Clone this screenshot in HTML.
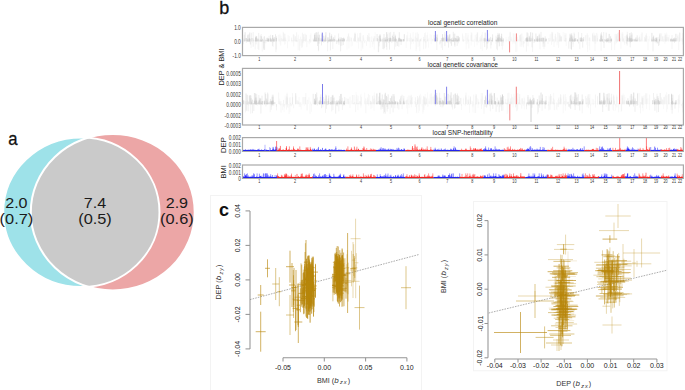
<!DOCTYPE html>
<html><head><meta charset="utf-8"><style>
html,body{margin:0;padding:0;background:#fff;width:685px;height:390px;overflow:hidden}
svg{display:block;font-family:"Liberation Sans", sans-serif}
</style></head><body>
<svg width="685" height="390" viewBox="0 0 685 390">
<rect width="685" height="390" fill="#fff"/>
<defs>
<clipPath id="cC"><ellipse cx="81.35" cy="212.25" rx="78.15" ry="74.75" /></clipPath>
<clipPath id="cP"><ellipse cx="112.75" cy="212.2" rx="81.95" ry="78.2" /></clipPath>
</defs>
<ellipse cx="81.35" cy="212.25" rx="78.15" ry="74.75" fill="#9ee2e9"/>
<ellipse cx="112.75" cy="212.2" rx="81.95" ry="78.2" fill="#eca6a6"/>
<g clip-path="url(#cC)"><ellipse cx="112.75" cy="212.2" rx="81.95" ry="78.2" fill="#cacaca"/></g>
<ellipse cx="81.35" cy="212.25" rx="78.15" ry="74.75" fill="none" stroke="#fff" stroke-width="2.0"/>
<ellipse cx="112.75" cy="212.2" rx="81.95" ry="78.2" fill="none" stroke="#fff" stroke-width="2.0"/>
<text x="8.2" y="145" font-size="19" fill="#111" textLength="9.3" lengthAdjust="spacingAndGlyphs" stroke="#111" stroke-width="0.3">a</text>
<text x="16.4" y="208.3" font-size="13.8" fill="#1a1a1a" text-anchor="middle" lengthAdjust="spacingAndGlyphs" textLength="22.4">2.0</text>
<text x="16.4" y="223.6" font-size="13.8" fill="#1a1a1a" text-anchor="middle" lengthAdjust="spacingAndGlyphs" textLength="33.6">(0.7)</text>
<text x="95" y="208.3" font-size="13.8" fill="#1a1a1a" text-anchor="middle" lengthAdjust="spacingAndGlyphs" textLength="22.4">7.4</text>
<text x="95" y="223.6" font-size="13.8" fill="#1a1a1a" text-anchor="middle" lengthAdjust="spacingAndGlyphs" textLength="33.6">(0.5)</text>
<text x="176.9" y="208.3" font-size="13.8" fill="#1a1a1a" text-anchor="middle" lengthAdjust="spacingAndGlyphs" textLength="22.4">2.9</text>
<text x="176.9" y="223.6" font-size="13.8" fill="#1a1a1a" text-anchor="middle" lengthAdjust="spacingAndGlyphs" textLength="33.6">(0.6)</text>
<text x="219.3" y="13.7" font-size="18" fill="#111" stroke="#111" stroke-width="0.3">b</text>
<text x="428" y="25.2" font-size="8" fill="#222" textLength="69.4" lengthAdjust="spacingAndGlyphs">local genetic correlation</text>
<path d="M243.2 41.3V38.5M244.6 41.3V38.5M247.5 41.3V35.5M248.2 41.3V34.8M249.1 41.3V34.3M251.4 41.3V38.0M251.6 41.3V32.8M253.2 41.3V32.2M253.3 41.3V38.3M258.7 41.3V32.9M261.2 41.3V34.1M262.9 41.3V38.8M264.5 41.3V36.1M265.3 41.3V40.7M266.3 41.3V37.8M269.1 41.3V35.8M269.7 41.3V38.5M269.8 41.3V39.7M270.6 41.3V34.8M272.6 41.3V35.3M276.4 41.3V36.0M314.4 41.3V34.8M315.3 41.3V35.0M315.4 41.3V40.1M316.3 41.3V35.2M317.2 41.3V40.4M317.4 41.3V32.6M317.6 41.3V36.7M318.5 41.3V37.8M323.0 41.3V34.7M323.4 41.3V40.3M324.3 41.3V40.7M324.9 41.3V36.3M328.0 41.3V37.2M330.3 41.3V39.5M330.9 41.3V39.6M331.3 41.3V40.0M331.5 41.3V38.8M331.8 41.3V36.2M334.9 41.3V35.4M338.6 41.3V33.4M339.1 41.3V40.6M378.2 41.3V39.1M382.8 41.3V37.7M385.8 41.3V38.5M386.8 41.3V32.4M389.6 41.3V38.0M390.6 41.3V31.9M392.9 41.3V34.5M395.1 41.3V38.9M395.6 41.3V39.9M395.7 41.3V39.2M396.5 41.3V38.6M435.4 41.3V39.1M435.8 41.3V33.6M436.9 41.3V34.9M440.3 41.3V40.0M444.4 41.3V37.7M444.8 41.3V32.1M445.0 41.3V34.3M446.7 41.3V37.3M447.4 41.3V39.5M447.5 41.3V39.4M447.6 41.3V39.1M448.1 41.3V39.6M452.1 41.3V40.0M453.9 41.3V33.8M454.9 41.3V40.5M456.1 41.3V39.0M457.2 41.3V35.8M457.9 41.3V37.9M486.4 41.3V39.8M488.8 41.3V37.9M489.6 41.3V37.9M489.7 41.3V40.1M496.0 41.3V35.7M496.8 41.3V37.1M497.8 41.3V32.9M502.2 41.3V40.8M528.1 41.3V33.3M529.8 41.3V37.9M530.9 41.3V40.1M532.3 41.3V36.2M532.9 41.3V37.8M535.5 41.3V40.5M536.1 41.3V38.4M536.1 41.3V40.6M537.1 41.3V36.3M538.6 41.3V39.0M538.8 41.3V38.7M539.2 41.3V33.5M539.5 41.3V39.7M539.7 41.3V34.4M540.0 41.3V37.8M570.1 41.3V33.5M573.7 41.3V39.9M573.8 41.3V36.5M574.0 41.3V32.5M574.6 41.3V33.7M577.8 41.3V39.4M578.4 41.3V32.2M579.7 41.3V37.7M581.7 41.3V33.0M581.8 41.3V39.2M601.5 41.3V32.2M603.1 41.3V38.8M603.7 41.3V32.0M606.0 41.3V39.3M606.7 41.3V38.3M609.6 41.3V33.9M609.6 41.3V40.0M626.3 41.3V35.4M627.3 41.3V31.8M631.3 41.3V32.0M634.1 41.3V38.6M636.2 41.3V40.4M651.8 41.3V38.5M657.9 41.3V39.6M658.1 41.3V36.9M670.5 41.3V39.9M670.8 41.3V38.5M672.0 41.3V39.0M672.0 41.3V35.1M672.7 41.3V39.7" stroke="#e2e2e2" stroke-width="0.5"/><path d="M243.3 41.3V40.7M244.3 41.3V34.8M248.0 41.3V34.6M255.8 41.3V35.8M260.3 41.3V35.6M260.3 41.3V39.0M264.0 41.3V36.7M264.2 41.3V40.4M267.9 41.3V38.4M270.9 41.3V40.5M275.5 41.3V34.3M313.3 41.3V38.6M313.5 41.3V40.7M314.8 41.3V33.2M315.7 41.3V32.6M316.5 41.3V32.2M318.0 41.3V35.0M318.3 41.3V31.8M320.0 41.3V38.4M321.7 41.3V34.2M323.3 41.3V36.0M324.8 41.3V39.4M325.6 41.3V35.3M328.6 41.3V40.8M329.3 41.3V38.8M329.8 41.3V39.7M330.6 41.3V38.9M331.6 41.3V34.3M339.1 41.3V40.6M340.1 41.3V37.3M344.3 41.3V39.4M377.1 41.3V34.0M379.9 41.3V35.4M384.0 41.3V34.0M385.6 41.3V37.2M385.7 41.3V40.0M386.6 41.3V32.0M387.3 41.3V34.3M387.4 41.3V37.3M389.2 41.3V32.6M391.5 41.3V40.7M393.9 41.3V31.9M394.1 41.3V40.4M394.4 41.3V39.4M395.1 41.3V39.1M395.2 41.3V34.6M399.0 41.3V37.8M399.3 41.3V32.2M401.5 41.3V39.5M401.7 41.3V38.9M434.2 41.3V34.8M435.0 41.3V37.7M437.3 41.3V34.5M440.9 41.3V40.1M443.0 41.3V37.9M445.9 41.3V37.1M449.1 41.3V35.4M450.0 41.3V34.3M452.7 41.3V40.5M452.8 41.3V37.6M453.3 41.3V31.8M453.5 41.3V38.2M454.8 41.3V39.9M454.8 41.3V33.6M456.9 41.3V35.9M459.1 41.3V37.2M484.2 41.3V37.7M484.3 41.3V39.2M488.9 41.3V39.6M490.6 41.3V36.9M492.6 41.3V34.3M497.6 41.3V34.9M498.0 41.3V39.3M498.6 41.3V39.8M498.9 41.3V34.2M500.6 41.3V38.0M500.8 41.3V40.7M501.1 41.3V36.1M501.6 41.3V39.4M503.3 41.3V39.7M526.1 41.3V37.9M527.4 41.3V39.3M530.3 41.3V39.6M532.6 41.3V32.7M534.9 41.3V39.7M535.9 41.3V33.5M537.9 41.3V40.7M539.0 41.3V35.4M541.0 41.3V31.9M541.6 41.3V38.2M543.4 41.3V38.1M545.2 41.3V36.4M545.3 41.3V38.6M569.7 41.3V38.2M570.1 41.3V34.2M570.8 41.3V35.5M571.7 41.3V33.2M572.0 41.3V40.8M572.2 41.3V38.6M574.6 41.3V40.8M575.8 41.3V38.0M577.7 41.3V39.9M583.7 41.3V37.0M599.5 41.3V39.3M600.7 41.3V36.2M600.9 41.3V33.5M606.2 41.3V32.6M606.7 41.3V39.4M609.0 41.3V33.9M626.9 41.3V39.8M627.3 41.3V36.3M627.8 41.3V37.9M629.9 41.3V37.3M631.1 41.3V35.4M631.9 41.3V34.7M632.0 41.3V33.3M634.4 41.3V39.9M635.1 41.3V40.3M637.2 41.3V35.3M638.0 41.3V37.7M651.9 41.3V39.2M652.0 41.3V40.1M652.9 41.3V37.3M653.6 41.3V37.1M654.6 41.3V38.8M659.7 41.3V34.6M660.0 41.3V33.3M671.1 41.3V39.2M671.3 41.3V40.6M674.1 41.3V39.4M674.5 41.3V37.5M675.8 41.3V40.5M676.4 41.3V38.2" stroke="#d8d8d8" stroke-width="0.5"/><path d="M243.5 41.3V44.3M246.3 41.3V43.1M248.3 41.3V41.8M249.5 41.3V42.3M250.6 41.3V44.8M251.1 41.3V47.8M252.4 41.3V42.5M255.2 41.3V49.4M258.0 41.3V48.9M258.8 41.3V50.0M259.7 41.3V41.5M262.2 41.3V51.5M263.4 41.3V42.9M264.5 41.3V43.0M265.8 41.3V43.4M271.4 41.3V41.8M272.3 41.3V42.6M273.2 41.3V46.8M273.8 41.3V42.1M274.8 41.3V41.8M275.9 41.3V52.2M318.6 41.3V51.3M323.7 41.3V42.8M327.6 41.3V51.3M328.0 41.3V43.1M332.8 41.3V49.0M336.4 41.3V44.1M337.0 41.3V42.4M337.0 41.3V43.7M338.8 41.3V42.9M378.7 41.3V52.0M385.6 41.3V42.8M390.9 41.3V41.9M391.8 41.3V43.1M394.5 41.3V49.6M395.7 41.3V46.9M396.2 41.3V45.7M396.6 41.3V43.1M398.3 41.3V41.6M436.8 41.3V50.0M440.8 41.3V42.8M441.3 41.3V47.8M442.5 41.3V49.9M448.1 41.3V41.8M451.6 41.3V46.1M458.5 41.3V43.4M484.1 41.3V42.8M485.1 41.3V41.9M486.5 41.3V49.8M486.8 41.3V43.7M488.2 41.3V43.3M490.8 41.3V48.5M492.7 41.3V42.3M496.0 41.3V43.7M496.7 41.3V48.8M499.5 41.3V45.9M501.4 41.3V46.0M502.3 41.3V49.7M503.0 41.3V45.7M526.4 41.3V51.7M528.0 41.3V46.3M532.6 41.3V51.9M540.0 41.3V49.3M544.0 41.3V49.1M571.2 41.3V48.8M573.0 41.3V44.2M573.1 41.3V46.8M579.8 41.3V49.2M601.1 41.3V50.7M611.6 41.3V50.1M628.6 41.3V42.0M630.2 41.3V43.2M654.3 41.3V42.4M655.9 41.3V43.1M657.7 41.3V42.4M659.3 41.3V42.8M659.3 41.3V45.2M672.0 41.3V48.9" stroke="#e8e8e8" stroke-width="0.5"/><path d="M245.1 41.3V32.2M246.2 41.3V38.0M249.5 41.3V38.6M249.8 41.3V32.5M250.3 41.3V38.8M252.1 41.3V38.0M253.9 41.3V39.7M255.5 41.3V37.6M256.6 41.3V36.1M257.9 41.3V38.2M260.0 41.3V40.8M260.1 41.3V39.8M260.2 41.3V40.7M261.6 41.3V36.3M261.6 41.3V40.7M263.1 41.3V40.3M265.6 41.3V39.7M270.4 41.3V37.8M271.5 41.3V40.5M272.4 41.3V38.0M272.7 41.3V35.1M273.4 41.3V40.5M274.2 41.3V37.0M314.5 41.3V34.8M316.8 41.3V40.2M319.4 41.3V34.7M321.0 41.3V40.1M322.1 41.3V39.2M325.9 41.3V32.2M327.0 41.3V39.8M328.7 41.3V40.5M329.7 41.3V32.7M331.2 41.3V36.1M332.0 41.3V39.4M333.7 41.3V37.2M336.8 41.3V40.7M337.3 41.3V40.8M337.9 41.3V39.8M340.7 41.3V40.1M342.5 41.3V39.8M343.9 41.3V38.0M379.1 41.3V36.2M380.0 41.3V34.3M380.2 41.3V35.7M380.5 41.3V39.8M386.8 41.3V40.4M387.4 41.3V39.0M390.3 41.3V40.3M390.5 41.3V38.2M392.4 41.3V35.9M392.8 41.3V40.8M393.7 41.3V37.0M395.3 41.3V37.6M395.3 41.3V35.9M396.1 41.3V39.1M397.0 41.3V40.8M398.8 41.3V38.3M401.7 41.3V39.8M404.3 41.3V34.2M436.3 41.3V36.9M442.5 41.3V34.2M443.2 41.3V37.4M443.9 41.3V38.4M447.7 41.3V35.3M448.4 41.3V37.4M449.3 41.3V38.8M449.4 41.3V34.4M453.4 41.3V39.7M457.0 41.3V39.9M457.4 41.3V40.3M458.3 41.3V35.9M485.2 41.3V32.6M487.7 41.3V33.4M489.1 41.3V39.4M489.1 41.3V40.4M491.5 41.3V40.0M498.9 41.3V35.1M499.2 41.3V33.3M500.3 41.3V38.6M501.6 41.3V33.7M527.1 41.3V32.4M527.2 41.3V37.2M527.5 41.3V39.5M528.0 41.3V37.9M529.3 41.3V35.8M530.1 41.3V40.3M530.7 41.3V32.2M531.1 41.3V37.9M537.6 41.3V36.2M537.7 41.3V39.3M540.2 41.3V40.6M543.8 41.3V37.9M546.1 41.3V38.5M570.9 41.3V39.6M571.2 41.3V34.6M571.3 41.3V40.7M571.7 41.3V36.8M572.2 41.3V35.6M573.1 41.3V40.8M581.0 41.3V37.5M581.3 41.3V37.6M581.9 41.3V39.8M601.1 41.3V38.2M601.2 41.3V34.9M602.0 41.3V35.8M602.5 41.3V40.2M605.3 41.3V40.0M606.0 41.3V40.7M606.3 41.3V40.7M606.9 41.3V39.3M608.8 41.3V39.4M610.6 41.3V36.3M627.2 41.3V34.5M627.4 41.3V37.4M629.7 41.3V36.3M629.9 41.3V33.0M631.5 41.3V40.7M631.6 41.3V38.1M631.6 41.3V39.8M634.3 41.3V39.1M637.0 41.3V39.4M637.1 41.3V39.9M651.9 41.3V32.9M653.6 41.3V35.6M653.6 41.3V38.9M656.3 41.3V37.5M659.5 41.3V38.8M672.3 41.3V39.4M673.2 41.3V39.6M674.3 41.3V39.8M674.4 41.3V39.6M675.9 41.3V33.8" stroke="#cdcdcd" stroke-width="0.5"/><path d="M248.1 41.3V41.9M248.5 41.3V41.4M250.3 41.3V44.1M253.2 41.3V46.8M256.1 41.3V44.3M263.6 41.3V48.6M263.9 41.3V50.1M264.6 41.3V49.8M272.4 41.3V46.1M276.2 41.3V49.4M317.5 41.3V46.0M318.4 41.3V43.7M318.4 41.3V50.3M319.2 41.3V43.7M321.5 41.3V45.4M327.5 41.3V42.7M330.4 41.3V50.4M334.1 41.3V41.6M338.9 41.3V44.7M340.6 41.3V51.3M340.8 41.3V46.1M342.0 41.3V45.5M342.4 41.3V41.4M343.4 41.3V45.1M378.3 41.3V52.2M379.0 41.3V46.4M379.6 41.3V42.8M382.3 41.3V42.1M382.9 41.3V49.0M383.9 41.3V49.4M384.3 41.3V47.9M386.3 41.3V46.9M386.8 41.3V49.8M388.8 41.3V43.1M389.5 41.3V49.6M394.0 41.3V41.6M397.5 41.3V46.1M398.8 41.3V46.6M401.1 41.3V45.0M402.5 41.3V41.5M436.3 41.3V42.4M439.9 41.3V44.4M444.9 41.3V46.2M447.2 41.3V42.9M448.5 41.3V47.6M450.3 41.3V43.5M451.4 41.3V45.7M453.1 41.3V41.8M454.7 41.3V45.3M454.9 41.3V46.7M456.7 41.3V42.2M457.2 41.3V45.9M484.7 41.3V47.1M487.3 41.3V48.5M487.4 41.3V43.5M491.2 41.3V45.2M497.3 41.3V50.2M498.1 41.3V43.1M499.2 41.3V46.4M503.2 41.3V42.4M526.5 41.3V41.4M532.0 41.3V47.3M534.1 41.3V42.8M542.8 41.3V41.7M543.1 41.3V46.7M543.3 41.3V43.6M543.8 41.3V42.2M544.8 41.3V46.8M568.8 41.3V48.6M571.1 41.3V48.7M571.4 41.3V50.0M571.5 41.3V49.1M571.7 41.3V42.2M578.5 41.3V43.5M580.9 41.3V41.5M582.3 41.3V41.4M582.7 41.3V47.7M600.1 41.3V41.7M603.0 41.3V41.8M603.7 41.3V42.8M604.0 41.3V47.9M606.8 41.3V42.7M607.9 41.3V41.6M608.9 41.3V43.2M610.4 41.3V42.9M626.7 41.3V43.8M627.1 41.3V45.5M630.2 41.3V47.3M630.5 41.3V42.4M653.0 41.3V51.4M656.5 41.3V41.9M657.0 41.3V43.5M657.7 41.3V43.3M658.5 41.3V45.9M674.5 41.3V42.8" stroke="#dedede" stroke-width="0.5"/><path d="M244.2 41.3V39.6M246.2 41.3V38.0M247.0 41.3V40.1M247.2 41.3V38.9M247.7 41.3V40.2M248.1 41.3V39.4M249.0 41.3V39.4M249.3 41.3V38.1M249.5 41.3V38.9M255.8 41.3V40.1M255.9 41.3V37.3M256.1 41.3V37.6M256.1 41.3V37.6M257.2 41.3V39.6M258.0 41.3V39.1M258.1 41.3V39.6M261.3 41.3V39.9M261.5 41.3V40.2M262.4 41.3V38.8M267.0 41.3V39.9M267.3 41.3V39.8M267.3 41.3V37.7M268.2 41.3V38.8M268.5 41.3V39.7M268.5 41.3V38.3M268.6 41.3V39.5M270.7 41.3V38.7M270.9 41.3V39.5M271.4 41.3V38.8M273.7 41.3V38.4M273.9 41.3V38.7M273.9 41.3V39.1M276.2 41.3V37.9M276.4 41.3V37.7M313.7 41.3V39.8M314.8 41.3V37.4M315.3 41.3V39.7M316.2 41.3V37.7M318.6 41.3V37.7M321.3 41.3V38.4M322.2 41.3V38.7M322.3 41.3V39.7M322.5 41.3V38.7M323.7 41.3V39.4M324.2 41.3V39.9M325.2 41.3V39.9M325.2 41.3V37.9M327.9 41.3V37.5M328.8 41.3V39.9M329.1 41.3V40.3M330.3 41.3V39.5M330.3 41.3V39.9M332.3 41.3V39.7M332.9 41.3V38.6M334.0 41.3V39.0M334.4 41.3V39.0M336.0 41.3V39.7M338.6 41.3V38.3M338.8 41.3V39.4M338.8 41.3V39.1M340.4 41.3V38.9M341.4 41.3V37.6M341.9 41.3V39.6M342.5 41.3V38.1M343.6 41.3V39.4M343.7 41.3V37.6M344.3 41.3V39.1M377.3 41.3V38.1M380.6 41.3V38.3M381.2 41.3V39.5M382.8 41.3V39.2M384.0 41.3V40.3M384.1 41.3V37.8M385.0 41.3V39.5M385.6 41.3V40.1M386.0 41.3V39.4M387.4 41.3V39.3M388.9 41.3V38.1M389.6 41.3V40.3M389.6 41.3V39.6M390.1 41.3V37.6M390.3 41.3V37.7M391.8 41.3V38.4M395.1 41.3V38.6M398.2 41.3V39.6M399.0 41.3V37.7M399.8 41.3V38.0M400.0 41.3V38.8M400.3 41.3V39.8M400.7 41.3V39.7M400.7 41.3V39.2M400.8 41.3V39.3M401.5 41.3V40.1M403.1 41.3V39.1M403.5 41.3V39.0M403.8 41.3V39.4M434.7 41.3V38.4M435.1 41.3V38.8M435.3 41.3V40.1M436.8 41.3V39.9M437.3 41.3V37.7M441.4 41.3V38.1M442.6 41.3V37.8M442.8 41.3V38.6M446.2 41.3V38.6M446.8 41.3V38.7M447.3 41.3V38.1M448.7 41.3V39.3M449.8 41.3V38.8M450.5 41.3V38.9M451.5 41.3V38.3M451.5 41.3V39.7M452.4 41.3V40.2M452.9 41.3V40.0M453.7 41.3V39.8M454.9 41.3V37.7M455.4 41.3V38.1M456.2 41.3V38.1M457.0 41.3V39.0M457.6 41.3V40.0M458.7 41.3V38.9M459.1 41.3V37.7M484.2 41.3V38.3M485.0 41.3V38.2M486.0 41.3V38.7M488.6 41.3V39.5M489.0 41.3V40.3M492.2 41.3V39.7M492.3 41.3V37.8M496.2 41.3V39.7M496.3 41.3V40.1M496.3 41.3V39.6M497.8 41.3V38.7M497.9 41.3V38.5M497.9 41.3V37.7M498.0 41.3V37.7M498.8 41.3V37.4M499.7 41.3V37.6M501.2 41.3V38.9M501.5 41.3V39.9M501.9 41.3V37.4M502.5 41.3V39.6M503.4 41.3V38.4M526.1 41.3V38.7M526.3 41.3V38.2M526.9 41.3V38.1M526.9 41.3V37.3M528.0 41.3V39.9M529.4 41.3V37.3M532.1 41.3V38.9M534.3 41.3V39.7M534.5 41.3V39.2M536.7 41.3V39.2M537.1 41.3V37.6M537.4 41.3V38.7M537.5 41.3V40.1M539.4 41.3V38.2M540.0 41.3V38.8M541.2 41.3V37.9M541.9 41.3V40.2M542.8 41.3V37.7M543.0 41.3V37.6M545.2 41.3V40.3M546.3 41.3V38.9M569.4 41.3V39.7M570.0 41.3V37.6M572.6 41.3V38.6M572.7 41.3V39.6M573.0 41.3V40.0M574.1 41.3V39.0M574.4 41.3V40.0M574.6 41.3V38.8M575.0 41.3V38.1M575.6 41.3V39.4M577.2 41.3V39.8M577.5 41.3V39.2M580.7 41.3V39.8M580.9 41.3V37.8M581.0 41.3V40.0M582.8 41.3V38.1M583.3 41.3V39.3M600.2 41.3V39.8M600.9 41.3V39.9M602.5 41.3V39.0M604.8 41.3V39.1M606.8 41.3V39.7M607.5 41.3V40.0M607.9 41.3V38.4M608.0 41.3V37.9M608.0 41.3V40.1M610.9 41.3V39.4M611.2 41.3V39.4M611.4 41.3V38.7M611.6 41.3V38.5M628.9 41.3V38.4M629.2 41.3V37.8M629.9 41.3V39.6M630.3 41.3V38.3M630.3 41.3V38.2M630.5 41.3V39.1M631.3 41.3V39.9M631.9 41.3V38.5M632.2 41.3V39.7M632.9 41.3V39.2M635.5 41.3V38.7M636.0 41.3V37.4M636.3 41.3V39.9M652.4 41.3V39.7M655.1 41.3V39.9M655.3 41.3V40.3M655.4 41.3V37.8M656.1 41.3V40.3M656.4 41.3V39.5M656.5 41.3V38.5M656.6 41.3V38.8M656.8 41.3V37.6M659.4 41.3V39.7M670.6 41.3V38.9M671.6 41.3V38.5M672.6 41.3V39.9M673.3 41.3V38.7M673.7 41.3V38.2M675.2 41.3V38.1M675.4 41.3V39.6" stroke="#cacaca" stroke-width="0.5"/><path d="M278.3 41.3V34.9M280.0 41.3V33.7M280.3 41.3V38.4M283.9 41.3V39.3M284.5 41.3V33.5M285.7 41.3V38.5M288.6 41.3V40.6M293.3 41.3V40.2M294.8 41.3V39.4M297.0 41.3V38.2M298.1 41.3V35.8M298.3 41.3V34.6M303.6 41.3V39.3M303.8 41.3V34.1M305.2 41.3V39.3M305.3 41.3V39.0M305.7 41.3V37.8M306.1 41.3V34.7M309.9 41.3V40.6M310.9 41.3V33.2M346.5 41.3V40.1M347.0 41.3V39.1M348.3 41.3V34.6M349.4 41.3V39.3M350.1 41.3V38.6M350.8 41.3V37.3M354.6 41.3V38.2M354.9 41.3V34.1M357.5 41.3V33.2M358.6 41.3V37.6M362.6 41.3V35.3M363.7 41.3V38.4M363.8 41.3V37.2M365.8 41.3V40.8M368.6 41.3V36.2M369.9 41.3V36.9M375.1 41.3V36.9M375.2 41.3V35.9M375.2 41.3V32.2M406.4 41.3V40.8M407.3 41.3V39.3M407.7 41.3V31.9M410.1 41.3V35.3M413.1 41.3V38.5M415.6 41.3V32.6M418.4 41.3V33.7M419.9 41.3V39.6M420.4 41.3V39.8M421.5 41.3V37.8M424.8 41.3V35.4M427.4 41.3V32.5M428.8 41.3V37.7M430.2 41.3V34.2M431.4 41.3V34.8M462.6 41.3V34.6M463.3 41.3V39.9M463.9 41.3V36.4M468.0 41.3V33.1M468.1 41.3V39.6M471.2 41.3V32.2M471.7 41.3V32.5M472.5 41.3V40.3M474.3 41.3V38.8M475.1 41.3V34.9M476.0 41.3V34.6M476.4 41.3V40.4M476.7 41.3V34.2M477.4 41.3V33.6M479.1 41.3V40.3M479.5 41.3V37.4M480.6 41.3V35.9M481.3 41.3V38.1M482.5 41.3V39.1M506.1 41.3V37.3M506.9 41.3V39.4M508.6 41.3V40.1M513.1 41.3V38.5M513.2 41.3V32.9M517.2 41.3V36.6M517.3 41.3V37.2M518.3 41.3V40.3M519.5 41.3V35.7M521.0 41.3V37.1M523.2 41.3V36.4M549.1 41.3V38.1M549.5 41.3V40.0M549.9 41.3V40.4M550.1 41.3V38.3M551.1 41.3V33.8M552.3 41.3V33.7M553.6 41.3V39.6M553.9 41.3V38.7M558.8 41.3V39.6M558.8 41.3V32.9M560.2 41.3V35.0M560.4 41.3V37.0M561.4 41.3V40.4M563.2 41.3V32.0M564.4 41.3V32.9M564.6 41.3V39.6M564.8 41.3V40.0M586.7 41.3V35.0M587.3 41.3V33.0M590.7 41.3V40.8M593.6 41.3V35.7M593.9 41.3V40.2M594.8 41.3V32.7M595.0 41.3V39.4M597.1 41.3V32.8M597.5 41.3V36.1M597.7 41.3V34.2M617.6 41.3V40.2M622.2 41.3V34.2M622.8 41.3V37.4M624.9 41.3V36.0M639.6 41.3V35.3M640.0 41.3V39.4M641.0 41.3V37.7M645.0 41.3V36.9M645.0 41.3V38.7M646.2 41.3V40.4M649.3 41.3V36.1M663.9 41.3V35.9M666.6 41.3V32.4M668.5 41.3V36.9M677.8 41.3V33.9" stroke="#f2f2f2" stroke-width="0.5"/><path d="M279.2 41.3V34.8M280.7 41.3V45.6M280.9 41.3V35.6M283.1 41.3V31.8M283.5 41.3V38.5M285.9 41.3V39.8M287.4 41.3V48.2M288.1 41.3V35.0M289.0 41.3V39.5M289.2 41.3V36.0M291.7 41.3V39.7M293.2 41.3V34.6M293.7 41.3V34.6M293.7 41.3V46.5M293.8 41.3V34.6M295.6 41.3V40.1M296.6 41.3V39.9M296.8 41.3V42.1M297.4 41.3V42.0M299.0 41.3V50.2M299.7 41.3V50.7M300.6 41.3V36.7M301.0 41.3V40.8M301.8 41.3V48.0M301.9 41.3V40.5M302.6 41.3V46.9M302.7 41.3V43.7M302.9 41.3V42.4M304.0 41.3V37.2M306.8 41.3V47.1M309.2 41.3V44.1M309.6 41.3V39.0M310.2 41.3V34.9M310.5 41.3V42.6M310.7 41.3V40.5M311.2 41.3V41.6M346.3 41.3V40.3M349.3 41.3V41.6M349.6 41.3V36.5M355.0 41.3V32.3M355.7 41.3V40.4M356.9 41.3V41.6M358.1 41.3V37.4M359.7 41.3V41.6M359.9 41.3V36.8M362.2 41.3V48.1M363.5 41.3V35.1M364.5 41.3V42.7M366.5 41.3V45.8M367.2 41.3V37.4M368.9 41.3V37.1M369.7 41.3V42.0M371.7 41.3V42.0M371.8 41.3V36.3M373.0 41.3V44.3M373.5 41.3V39.5M373.9 41.3V37.9M374.2 41.3V49.5M406.9 41.3V37.8M409.4 41.3V40.1M410.4 41.3V33.3M410.5 41.3V49.3M410.9 41.3V40.4M411.1 41.3V37.6M411.2 41.3V44.2M411.3 41.3V37.8M413.1 41.3V32.2M413.8 41.3V39.5M415.7 41.3V40.4M416.1 41.3V51.2M417.7 41.3V37.4M418.1 41.3V47.0M418.3 41.3V33.8M419.3 41.3V46.1M419.8 41.3V51.2M423.2 41.3V41.7M423.6 41.3V49.3M423.8 41.3V39.0M424.0 41.3V39.1M424.4 41.3V33.0M425.2 41.3V43.1M425.4 41.3V32.5M425.4 41.3V41.8M425.7 41.3V48.8M426.8 41.3V40.5M462.4 41.3V33.5M463.8 41.3V41.5M466.2 41.3V44.1M468.1 41.3V35.4M468.5 41.3V39.4M468.6 41.3V40.6M468.8 41.3V41.4M468.8 41.3V48.5M469.0 41.3V39.6M471.8 41.3V33.1M472.4 41.3V41.7M473.2 41.3V41.6M473.2 41.3V39.8M476.1 41.3V40.8M477.1 41.3V45.3M478.2 41.3V41.6M478.9 41.3V42.7M479.1 41.3V40.6M480.8 41.3V49.0M481.2 41.3V40.8M482.3 41.3V32.0M508.3 41.3V37.2M508.4 41.3V41.5M509.2 41.3V36.0M510.5 41.3V40.8M511.3 41.3V36.9M512.5 41.3V41.5M514.1 41.3V40.1M514.6 41.3V40.8M515.1 41.3V44.2M515.8 41.3V52.0M518.0 41.3V39.0M521.1 41.3V37.9M521.1 41.3V46.6M521.9 41.3V33.4M522.0 41.3V45.2M523.5 41.3V47.4M523.8 41.3V43.7M523.9 41.3V43.8M524.7 41.3V39.7M548.0 41.3V43.9M548.6 41.3V37.9M550.1 41.3V34.4M551.3 41.3V41.5M551.6 41.3V44.9M553.6 41.3V39.2M554.0 41.3V47.0M555.1 41.3V36.1M557.1 41.3V45.3M557.9 41.3V42.4M558.6 41.3V47.9M559.1 41.3V41.4M561.5 41.3V37.0M565.2 41.3V40.7M566.2 41.3V45.9M587.2 41.3V33.7M588.0 41.3V35.0M589.8 41.3V37.3M592.4 41.3V33.5M592.5 41.3V33.6M593.2 41.3V32.5M595.0 41.3V51.0M595.4 41.3V35.5M595.5 41.3V36.2M596.5 41.3V32.9M615.0 41.3V44.5M616.6 41.3V43.3M618.5 41.3V32.3M619.6 41.3V38.7M619.7 41.3V38.7M619.8 41.3V36.1M619.9 41.3V38.2M620.4 41.3V39.1M620.5 41.3V38.2M621.1 41.3V32.6M622.7 41.3V33.7M622.7 41.3V32.1M623.1 41.3V41.6M623.6 41.3V38.0M624.7 41.3V44.8M624.8 41.3V40.5M639.6 41.3V41.7M641.2 41.3V34.2M641.4 41.3V39.0M642.0 41.3V32.0M642.2 41.3V33.2M643.1 41.3V40.6M644.1 41.3V40.8M644.5 41.3V36.8M645.0 41.3V40.8M645.1 41.3V38.0M646.1 41.3V42.1M648.0 41.3V50.3M648.3 41.3V38.9M661.6 41.3V33.3M662.3 41.3V36.4M663.7 41.3V40.8M663.7 41.3V39.2M664.9 41.3V39.4M665.0 41.3V33.0M665.4 41.3V37.3M666.9 41.3V34.5M667.8 41.3V36.9M668.7 41.3V38.2M669.1 41.3V35.3M678.0 41.3V35.0M678.7 41.3V50.0M679.5 41.3V38.2M679.6 41.3V32.5M679.9 41.3V32.2M682.1 41.3V41.8M682.5 41.3V39.2M682.5 41.3V44.5M682.5 41.3V33.2" stroke="#eeeeee" stroke-width="0.5"/><path d="M279.2 41.3V38.8M281.7 41.3V38.1M282.4 41.3V39.1M283.5 41.3V32.5M284.9 41.3V37.4M284.9 41.3V33.9M291.6 41.3V37.6M292.6 41.3V40.5M295.1 41.3V37.5M295.3 41.3V36.0M296.6 41.3V32.3M296.7 41.3V40.8M296.8 41.3V40.0M299.3 41.3V38.9M301.9 41.3V39.0M302.4 41.3V32.7M303.4 41.3V34.3M305.1 41.3V33.7M306.3 41.3V34.9M307.8 41.3V40.7M309.7 41.3V39.3M347.5 41.3V36.5M348.6 41.3V33.4M351.5 41.3V37.7M353.6 41.3V38.4M354.4 41.3V36.5M354.7 41.3V33.2M355.4 41.3V33.9M355.4 41.3V33.7M358.3 41.3V38.2M359.8 41.3V32.9M360.7 41.3V32.7M360.9 41.3V40.4M362.0 41.3V40.8M365.2 41.3V40.2M367.5 41.3V35.0M368.9 41.3V33.1M371.4 41.3V40.5M373.5 41.3V38.5M374.2 41.3V36.2M406.9 41.3V35.3M409.1 41.3V38.1M412.6 41.3V40.0M412.6 41.3V39.4M412.9 41.3V39.0M415.2 41.3V36.5M416.6 41.3V37.8M417.2 41.3V32.3M417.6 41.3V39.7M419.9 41.3V40.4M420.2 41.3V39.0M420.4 41.3V38.7M423.6 41.3V36.9M425.0 41.3V39.2M427.0 41.3V35.2M427.8 41.3V39.1M432.3 41.3V38.8M463.6 41.3V39.2M463.8 41.3V40.4M465.9 41.3V33.0M467.1 41.3V37.6M471.1 41.3V35.3M476.8 41.3V37.4M477.2 41.3V32.3M477.6 41.3V32.5M480.3 41.3V39.5M481.0 41.3V37.7M481.7 41.3V34.7M505.8 41.3V40.6M510.1 41.3V31.8M510.2 41.3V32.5M511.1 41.3V38.9M512.4 41.3V40.7M513.3 41.3V40.7M514.0 41.3V33.7M516.1 41.3V36.6M517.4 41.3V40.2M520.1 41.3V34.9M520.3 41.3V34.9M521.0 41.3V33.9M551.9 41.3V31.9M552.4 41.3V40.8M552.6 41.3V32.5M555.4 41.3V33.8M556.1 41.3V37.5M557.8 41.3V32.1M559.1 41.3V39.9M559.7 41.3V33.2M559.9 41.3V35.5M560.6 41.3V36.5M561.1 41.3V39.2M561.5 41.3V36.3M565.1 41.3V35.0M565.3 41.3V40.8M565.8 41.3V37.9M565.9 41.3V33.3M585.4 41.3V35.2M589.3 41.3V37.7M592.9 41.3V35.3M594.6 41.3V36.0M594.8 41.3V34.8M597.5 41.3V38.3M615.1 41.3V33.9M616.2 41.3V33.9M616.3 41.3V36.3M616.9 41.3V34.4M617.6 41.3V40.2M617.6 41.3V39.1M617.9 41.3V33.0M623.4 41.3V39.1M639.5 41.3V37.0M639.7 41.3V38.8M640.0 41.3V40.5M640.5 41.3V40.4M645.5 41.3V38.6M645.7 41.3V35.4M646.3 41.3V33.3M646.8 41.3V35.8M661.8 41.3V40.2M662.7 41.3V36.6M665.3 41.3V35.1M665.7 41.3V34.3M665.9 41.3V39.1M666.8 41.3V37.1M677.7 41.3V36.2M679.1 41.3V37.4M679.1 41.3V40.5M679.6 41.3V33.1M682.0 41.3V37.9" stroke="#e9e9e9" stroke-width="0.5"/><path d="M280.1 41.3V44.1M284.5 41.3V44.6M285.4 41.3V44.3M292.0 41.3V42.7M298.0 41.3V50.3M299.7 41.3V46.0M300.9 41.3V45.9M301.4 41.3V47.1M303.7 41.3V42.6M307.8 41.3V42.2M309.0 41.3V42.7M347.0 41.3V49.6M348.9 41.3V48.5M350.1 41.3V41.4M351.2 41.3V46.5M352.4 41.3V45.8M357.0 41.3V42.8M358.5 41.3V48.7M361.1 41.3V42.8M361.2 41.3V51.1M362.6 41.3V47.4M362.8 41.3V49.4M364.8 41.3V43.3M367.2 41.3V41.5M370.2 41.3V47.7M371.6 41.3V41.4M372.3 41.3V47.0M406.2 41.3V48.1M412.8 41.3V41.8M413.3 41.3V43.9M414.9 41.3V41.6M416.0 41.3V41.7M416.3 41.3V49.2M422.6 41.3V41.4M426.1 41.3V47.3M426.2 41.3V42.7M428.5 41.3V47.7M431.2 41.3V44.3M466.2 41.3V49.5M467.5 41.3V43.6M471.2 41.3V45.5M474.4 41.3V47.0M474.5 41.3V41.5M475.9 41.3V41.6M482.3 41.3V50.9M506.7 41.3V42.3M508.8 41.3V44.4M512.8 41.3V44.4M513.9 41.3V42.9M516.0 41.3V42.5M517.0 41.3V51.7M520.0 41.3V46.6M522.0 41.3V46.7M522.8 41.3V41.7M523.8 41.3V43.4M554.8 41.3V41.8M554.9 41.3V42.5M586.4 41.3V44.8M587.4 41.3V49.3M587.6 41.3V52.1M589.2 41.3V46.2M589.6 41.3V50.2M593.5 41.3V41.4M594.1 41.3V42.5M595.2 41.3V43.8M595.8 41.3V43.6M597.0 41.3V42.0M614.6 41.3V50.1M615.3 41.3V41.9M620.9 41.3V48.9M623.2 41.3V42.4M624.8 41.3V43.2M643.9 41.3V41.5M663.2 41.3V41.7M664.9 41.3V43.8" stroke="#f3f3f3" stroke-width="0.5"/>
<line x1="322.3" y1="32.6" x2="322.3" y2="41.3" stroke="#8282ea" stroke-width="1"/>
<line x1="435.4" y1="31" x2="435.4" y2="41.3" stroke="#8282ea" stroke-width="1"/>
<line x1="446.6" y1="31" x2="446.6" y2="41.3" stroke="#8282ea" stroke-width="1"/>
<line x1="487.4" y1="30" x2="487.4" y2="41.3" stroke="#8282ea" stroke-width="1"/>
<line x1="516.4" y1="33.4" x2="516.4" y2="41.3" stroke="#f08888" stroke-width="1"/>
<line x1="509.6" y1="41.3" x2="509.6" y2="52.4" stroke="#f08888" stroke-width="1"/>
<line x1="619.4" y1="30" x2="619.4" y2="41.3" stroke="#f08888" stroke-width="1"/>
<rect x="242.5" y="27.4" width="440.9" height="28.200000000000003" fill="none" stroke="#a9a9a9" stroke-width="1.2"/>
<text x="240.8" y="30.07" font-size="6.3" fill="#333" text-anchor="end" textLength="6.66" lengthAdjust="spacingAndGlyphs">1.0</text>
<text x="240.8" y="43.97" font-size="6.3" fill="#333" text-anchor="end" textLength="6.66" lengthAdjust="spacingAndGlyphs">0.0</text>
<text x="240.8" y="58.27" font-size="6.3" fill="#333" text-anchor="end" textLength="8.25" lengthAdjust="spacingAndGlyphs">-1.0</text>
<text x="259.4" y="60.9" font-size="4.6" fill="#333" text-anchor="middle" textLength="2.10" lengthAdjust="spacingAndGlyphs">1</text>
<text x="295" y="60.9" font-size="4.6" fill="#333" text-anchor="middle" textLength="2.10" lengthAdjust="spacingAndGlyphs">2</text>
<text x="330" y="60.9" font-size="4.6" fill="#333" text-anchor="middle" textLength="2.10" lengthAdjust="spacingAndGlyphs">3</text>
<text x="361" y="60.9" font-size="4.6" fill="#333" text-anchor="middle" textLength="2.10" lengthAdjust="spacingAndGlyphs">4</text>
<text x="391" y="60.9" font-size="4.6" fill="#333" text-anchor="middle" textLength="2.10" lengthAdjust="spacingAndGlyphs">5</text>
<text x="419.6" y="60.9" font-size="4.6" fill="#333" text-anchor="middle" textLength="2.10" lengthAdjust="spacingAndGlyphs">6</text>
<text x="447.4" y="60.9" font-size="4.6" fill="#333" text-anchor="middle" textLength="2.10" lengthAdjust="spacingAndGlyphs">7</text>
<text x="472.4" y="60.9" font-size="4.6" fill="#333" text-anchor="middle" textLength="2.10" lengthAdjust="spacingAndGlyphs">8</text>
<text x="494" y="60.9" font-size="4.6" fill="#333" text-anchor="middle" textLength="2.10" lengthAdjust="spacingAndGlyphs">9</text>
<text x="514.4" y="60.9" font-size="4.6" fill="#333" text-anchor="middle" textLength="4.20" lengthAdjust="spacingAndGlyphs">10</text>
<text x="536.4" y="60.9" font-size="4.6" fill="#333" text-anchor="middle" textLength="3.92" lengthAdjust="spacingAndGlyphs">11</text>
<text x="558" y="60.9" font-size="4.6" fill="#333" text-anchor="middle" textLength="4.20" lengthAdjust="spacingAndGlyphs">12</text>
<text x="576.6" y="60.9" font-size="4.6" fill="#333" text-anchor="middle" textLength="4.20" lengthAdjust="spacingAndGlyphs">13</text>
<text x="592" y="60.9" font-size="4.6" fill="#333" text-anchor="middle" textLength="4.20" lengthAdjust="spacingAndGlyphs">14</text>
<text x="605.6" y="60.9" font-size="4.6" fill="#333" text-anchor="middle" textLength="4.20" lengthAdjust="spacingAndGlyphs">15</text>
<text x="619" y="60.9" font-size="4.6" fill="#333" text-anchor="middle" textLength="4.20" lengthAdjust="spacingAndGlyphs">16</text>
<text x="632.3" y="60.9" font-size="4.6" fill="#333" text-anchor="middle" textLength="4.20" lengthAdjust="spacingAndGlyphs">17</text>
<text x="645" y="60.9" font-size="4.6" fill="#333" text-anchor="middle" textLength="4.20" lengthAdjust="spacingAndGlyphs">18</text>
<text x="656" y="60.9" font-size="4.6" fill="#333" text-anchor="middle" textLength="4.20" lengthAdjust="spacingAndGlyphs">19</text>
<text x="665.6" y="60.9" font-size="4.6" fill="#333" text-anchor="middle" textLength="4.20" lengthAdjust="spacingAndGlyphs">20</text>
<text x="674" y="60.9" font-size="4.6" fill="#333" text-anchor="middle" textLength="4.20" lengthAdjust="spacingAndGlyphs">21</text>
<text x="680" y="60.9" font-size="4.6" fill="#333" text-anchor="middle" textLength="4.20" lengthAdjust="spacingAndGlyphs">22</text>
<text x="427.6" y="67" font-size="8" fill="#222" textLength="70.4" lengthAdjust="spacingAndGlyphs">local genetic covariance</text>
<path d="M244.0 104.2V104.3M246.0 104.2V110.4M246.9 104.2V111.2M247.6 104.2V104.8M252.4 104.2V113.2M253.8 104.2V111.0M260.3 104.2V104.5M260.9 104.2V113.6M262.4 104.2V105.0M271.2 104.2V109.7M272.2 104.2V105.5M276.4 104.2V106.7M317.4 104.2V105.4M321.5 104.2V108.2M326.4 104.2V108.8M327.0 104.2V104.9M327.7 104.2V104.9M333.3 104.2V104.4M334.6 104.2V104.4M335.7 104.2V113.6M337.0 104.2V106.0M342.0 104.2V104.4M344.1 104.2V104.8M379.9 104.2V104.7M381.0 104.2V109.5M382.7 104.2V107.1M383.0 104.2V109.1M383.5 104.2V104.5M384.5 104.2V112.2M385.2 104.2V113.7M387.0 104.2V107.0M387.1 104.2V111.5M387.9 104.2V109.0M391.6 104.2V107.6M393.1 104.2V112.3M397.6 104.2V105.3M435.5 104.2V104.5M439.5 104.2V104.8M444.0 104.2V105.0M447.1 104.2V104.9M450.2 104.2V104.6M452.0 104.2V107.3M453.8 104.2V104.3M454.9 104.2V108.1M485.1 104.2V107.0M486.6 104.2V107.7M492.5 104.2V104.6M492.8 104.2V108.9M496.1 104.2V111.7M497.9 104.2V104.3M499.2 104.2V112.2M501.7 104.2V110.9M526.6 104.2V106.3M526.7 104.2V104.4M537.3 104.2V104.6M538.0 104.2V105.6M538.3 104.2V112.3M538.9 104.2V106.2M545.1 104.2V108.6M568.8 104.2V106.8M569.3 104.2V106.5M570.1 104.2V107.9M570.7 104.2V109.1M575.1 104.2V109.9M577.0 104.2V105.4M578.3 104.2V105.7M579.7 104.2V110.5M582.1 104.2V104.6M600.4 104.2V104.4M602.7 104.2V112.0M608.3 104.2V110.7M609.2 104.2V110.9M610.4 104.2V104.4M629.5 104.2V105.4M629.5 104.2V106.6M630.1 104.2V104.7M633.4 104.2V106.5M635.0 104.2V111.8M637.1 104.2V106.0M637.8 104.2V105.0M637.8 104.2V104.4M654.8 104.2V104.3M654.9 104.2V110.9M655.3 104.2V104.4M658.5 104.2V112.1M672.1 104.2V113.6M675.0 104.2V108.6" stroke="#dedede" stroke-width="0.5"/><path d="M245.4 104.2V112.4M245.7 104.2V104.3M248.6 104.2V111.3M248.6 104.2V105.5M250.7 104.2V113.7M257.2 104.2V105.6M265.9 104.2V106.6M270.2 104.2V112.2M271.6 104.2V106.8M271.8 104.2V106.3M273.7 104.2V105.9M276.5 104.2V110.4M314.1 104.2V104.6M315.3 104.2V104.6M322.9 104.2V107.4M325.5 104.2V112.9M326.9 104.2V105.5M331.7 104.2V111.4M332.9 104.2V110.1M336.0 104.2V105.0M337.2 104.2V106.5M338.8 104.2V111.4M342.4 104.2V109.9M343.2 104.2V106.1M344.0 104.2V104.7M344.8 104.2V105.5M381.9 104.2V107.3M382.4 104.2V106.0M383.3 104.2V107.2M383.6 104.2V113.5M390.1 104.2V113.8M394.8 104.2V108.3M397.3 104.2V108.4M398.8 104.2V109.7M402.1 104.2V109.1M435.4 104.2V106.2M440.3 104.2V107.1M442.0 104.2V107.5M443.0 104.2V107.1M443.3 104.2V106.0M451.7 104.2V105.2M452.6 104.2V109.5M454.6 104.2V108.8M457.8 104.2V105.0M458.9 104.2V104.6M484.0 104.2V113.7M486.8 104.2V106.7M488.0 104.2V105.0M489.9 104.2V106.1M490.3 104.2V111.4M497.4 104.2V106.6M499.9 104.2V107.2M501.1 104.2V106.2M502.9 104.2V110.6M526.5 104.2V109.3M528.6 104.2V105.5M529.7 104.2V105.4M530.7 104.2V104.4M531.8 104.2V107.6M531.8 104.2V108.1M536.5 104.2V104.8M537.7 104.2V114.2M539.7 104.2V107.9M542.1 104.2V110.8M568.5 104.2V104.3M570.7 104.2V105.2M574.8 104.2V106.2M582.2 104.2V113.3M602.6 104.2V107.5M606.2 104.2V106.9M609.5 104.2V104.3M629.7 104.2V105.7M656.8 104.2V112.6M657.1 104.2V104.4M670.5 104.2V104.3M671.2 104.2V110.0M671.6 104.2V107.3M672.3 104.2V110.0" stroke="#e8e8e8" stroke-width="0.5"/><path d="M245.9 104.2V101.2M247.2 104.2V102.8M247.9 104.2V101.2M250.7 104.2V95.2M251.0 104.2V98.5M251.1 104.2V102.8M251.8 104.2V102.4M252.5 104.2V99.5M255.1 104.2V98.5M255.4 104.2V101.5M256.6 104.2V97.5M256.7 104.2V100.4M260.8 104.2V98.5M262.0 104.2V95.7M265.1 104.2V92.5M265.7 104.2V94.0M266.8 104.2V98.6M267.7 104.2V92.6M267.7 104.2V101.7M270.4 104.2V98.9M271.1 104.2V102.0M272.7 104.2V100.9M273.1 104.2V94.6M313.2 104.2V93.8M316.7 104.2V92.5M320.3 104.2V96.8M322.4 104.2V94.6M322.8 104.2V103.1M325.1 104.2V98.8M326.1 104.2V95.7M326.4 104.2V95.4M328.3 104.2V99.1M328.7 104.2V95.5M331.3 104.2V102.5M332.2 104.2V95.5M332.8 104.2V96.0M332.9 104.2V94.8M334.2 104.2V97.5M337.5 104.2V103.5M338.0 104.2V101.0M339.7 104.2V98.9M341.2 104.2V93.8M341.6 104.2V102.6M344.2 104.2V103.3M376.8 104.2V93.5M379.0 104.2V96.5M379.8 104.2V102.9M381.0 104.2V98.6M382.3 104.2V94.5M384.9 104.2V94.5M388.2 104.2V94.4M390.7 104.2V102.4M393.0 104.2V94.0M393.9 104.2V103.6M394.1 104.2V94.2M394.2 104.2V96.4M395.6 104.2V101.3M399.6 104.2V99.4M399.9 104.2V103.2M400.6 104.2V102.4M401.0 104.2V95.9M402.1 104.2V102.4M434.5 104.2V94.5M434.5 104.2V102.1M435.3 104.2V100.0M437.6 104.2V97.9M442.0 104.2V100.6M445.1 104.2V96.7M447.1 104.2V101.3M451.1 104.2V100.0M451.4 104.2V98.2M453.4 104.2V94.7M455.3 104.2V93.1M457.2 104.2V97.9M457.4 104.2V93.5M485.4 104.2V97.0M489.5 104.2V98.9M491.2 104.2V92.7M491.8 104.2V95.6M492.2 104.2V95.6M494.1 104.2V93.3M495.5 104.2V101.5M495.6 104.2V103.4M498.8 104.2V100.1M501.2 104.2V96.6M501.3 104.2V97.5M501.9 104.2V102.3M502.4 104.2V95.2M502.4 104.2V97.0M503.3 104.2V102.5M503.5 104.2V96.0M528.0 104.2V95.1M528.4 104.2V102.9M528.6 104.2V102.3M539.2 104.2V95.5M539.9 104.2V100.1M541.0 104.2V92.8M545.2 104.2V100.3M546.1 104.2V103.0M546.1 104.2V103.4M570.6 104.2V98.8M570.7 104.2V95.3M571.0 104.2V94.5M572.3 104.2V101.6M573.8 104.2V103.1M574.9 104.2V96.7M577.3 104.2V97.3M579.1 104.2V103.2M582.2 104.2V94.5M582.2 104.2V100.1M599.9 104.2V101.3M601.4 104.2V101.5M601.7 104.2V100.3M604.1 104.2V98.2M604.3 104.2V102.4M604.4 104.2V96.5M604.9 104.2V99.6M607.4 104.2V93.8M608.6 104.2V102.8M609.2 104.2V98.3M627.9 104.2V98.2M629.9 104.2V103.2M631.6 104.2V102.3M632.3 104.2V100.9M633.5 104.2V92.6M633.5 104.2V96.5M633.9 104.2V92.6M635.0 104.2V98.2M635.9 104.2V101.3M636.1 104.2V101.0M636.9 104.2V101.0M637.5 104.2V93.7M657.2 104.2V100.2M658.2 104.2V98.1M658.6 104.2V101.4M660.2 104.2V93.0M671.9 104.2V95.0M672.1 104.2V102.3M675.9 104.2V100.5" stroke="#d8d8d8" stroke-width="0.5"/><path d="M246.0 104.2V93.5M247.2 104.2V94.8M248.8 104.2V101.8M249.3 104.2V95.5M250.0 104.2V95.4M250.9 104.2V98.1M251.4 104.2V100.9M252.6 104.2V103.5M253.1 104.2V103.4M253.4 104.2V103.2M254.4 104.2V93.0M255.6 104.2V97.4M255.6 104.2V93.4M256.2 104.2V101.2M257.5 104.2V102.8M258.2 104.2V102.4M258.4 104.2V101.4M258.8 104.2V102.4M259.9 104.2V97.9M259.9 104.2V98.8M264.7 104.2V103.2M266.0 104.2V101.2M266.5 104.2V103.1M271.3 104.2V101.0M272.2 104.2V96.8M273.0 104.2V96.7M314.5 104.2V98.9M315.0 104.2V98.5M315.4 104.2V94.0M319.0 104.2V101.4M325.8 104.2V101.4M328.3 104.2V100.8M330.5 104.2V101.8M330.8 104.2V102.5M331.0 104.2V97.1M331.1 104.2V102.4M333.0 104.2V98.1M335.0 104.2V101.1M336.6 104.2V103.1M337.5 104.2V102.5M339.9 104.2V100.2M340.8 104.2V94.0M344.0 104.2V103.2M376.7 104.2V102.9M379.4 104.2V100.2M379.6 104.2V93.1M379.9 104.2V92.6M382.6 104.2V103.6M383.3 104.2V99.4M384.1 104.2V99.7M385.3 104.2V92.8M386.5 104.2V95.9M388.0 104.2V103.6M389.4 104.2V102.6M390.4 104.2V98.1M391.7 104.2V96.3M392.4 104.2V101.4M394.7 104.2V102.3M397.7 104.2V103.1M436.5 104.2V96.1M436.5 104.2V95.0M436.7 104.2V92.9M439.9 104.2V97.9M442.8 104.2V99.8M443.1 104.2V102.5M444.3 104.2V93.0M445.2 104.2V101.6M446.9 104.2V101.6M448.0 104.2V100.9M448.1 104.2V93.8M448.5 104.2V101.6M451.1 104.2V92.3M455.1 104.2V94.1M455.9 104.2V102.5M457.2 104.2V99.0M458.2 104.2V95.7M484.5 104.2V100.0M485.5 104.2V95.5M487.8 104.2V102.3M490.8 104.2V93.7M491.4 104.2V98.9M494.5 104.2V93.1M498.1 104.2V101.8M500.8 104.2V97.6M500.9 104.2V102.2M502.4 104.2V94.0M502.5 104.2V95.1M530.2 104.2V99.2M530.4 104.2V98.7M532.6 104.2V103.0M532.6 104.2V99.1M532.8 104.2V102.4M533.6 104.2V97.8M534.0 104.2V99.9M537.4 104.2V99.2M540.2 104.2V101.7M541.9 104.2V100.9M542.2 104.2V98.4M542.4 104.2V94.4M542.6 104.2V103.0M574.6 104.2V99.3M574.8 104.2V92.3M575.7 104.2V92.6M576.0 104.2V103.2M576.4 104.2V97.6M579.8 104.2V101.3M581.1 104.2V102.8M599.5 104.2V93.1M599.9 104.2V92.8M603.0 104.2V100.8M603.3 104.2V100.6M603.8 104.2V92.7M607.2 104.2V97.6M609.0 104.2V93.3M610.0 104.2V102.7M626.4 104.2V101.3M629.1 104.2V102.5M631.2 104.2V93.9M632.1 104.2V99.3M635.1 104.2V100.4M654.4 104.2V100.1M655.4 104.2V99.1M656.8 104.2V99.2M657.9 104.2V96.1M658.5 104.2V99.9M671.6 104.2V94.3M671.6 104.2V93.7M671.9 104.2V98.0M674.7 104.2V103.4M675.4 104.2V103.5M676.0 104.2V100.1" stroke="#cdcdcd" stroke-width="0.5"/><path d="M247.4 104.2V100.0M250.8 104.2V95.7M252.2 104.2V100.3M256.4 104.2V98.4M256.7 104.2V94.1M258.8 104.2V95.0M259.4 104.2V103.2M259.5 104.2V101.5M265.7 104.2V98.4M266.6 104.2V98.8M267.9 104.2V94.1M269.7 104.2V101.2M272.3 104.2V94.8M315.8 104.2V97.7M316.2 104.2V99.2M316.3 104.2V94.9M317.3 104.2V97.5M318.2 104.2V102.2M319.3 104.2V100.1M320.8 104.2V94.4M320.8 104.2V97.2M323.6 104.2V97.0M325.8 104.2V94.4M328.6 104.2V98.0M330.4 104.2V103.5M330.4 104.2V103.1M332.6 104.2V95.3M333.6 104.2V103.4M336.5 104.2V101.5M339.4 104.2V96.0M342.3 104.2V97.8M344.7 104.2V96.9M376.9 104.2V93.5M381.0 104.2V102.7M383.8 104.2V99.8M385.6 104.2V99.6M385.6 104.2V102.8M386.4 104.2V96.9M387.0 104.2V103.4M387.1 104.2V101.6M387.3 104.2V97.1M388.1 104.2V103.5M391.8 104.2V95.6M397.6 104.2V102.2M400.6 104.2V97.7M402.1 104.2V94.7M403.6 104.2V98.4M403.8 104.2V95.8M404.5 104.2V103.2M434.2 104.2V96.5M436.7 104.2V103.1M437.6 104.2V96.7M439.2 104.2V100.2M439.4 104.2V97.4M439.6 104.2V92.8M441.0 104.2V97.8M444.7 104.2V99.6M445.9 104.2V96.5M449.4 104.2V102.2M450.0 104.2V94.8M450.5 104.2V95.7M452.1 104.2V97.7M456.3 104.2V95.0M457.0 104.2V95.1M458.3 104.2V101.2M458.8 104.2V96.6M484.8 104.2V100.6M487.0 104.2V98.2M489.2 104.2V94.7M489.6 104.2V93.4M493.6 104.2V102.8M494.8 104.2V97.1M497.2 104.2V97.7M500.4 104.2V95.1M527.4 104.2V103.5M527.9 104.2V96.8M529.2 104.2V99.6M530.2 104.2V97.4M532.2 104.2V100.1M532.3 104.2V102.5M532.9 104.2V95.0M534.3 104.2V98.4M534.7 104.2V100.9M536.9 104.2V101.7M537.6 104.2V101.2M540.0 104.2V102.4M541.1 104.2V92.3M545.7 104.2V103.2M546.1 104.2V96.0M569.9 104.2V96.0M571.5 104.2V100.5M573.0 104.2V96.6M575.4 104.2V95.2M575.9 104.2V94.5M575.9 104.2V95.4M577.0 104.2V94.6M578.5 104.2V94.1M579.0 104.2V101.0M582.3 104.2V98.9M583.3 104.2V100.5M583.3 104.2V99.0M599.9 104.2V103.5M604.1 104.2V93.5M606.3 104.2V94.1M608.0 104.2V99.4M610.4 104.2V102.3M611.2 104.2V97.5M611.4 104.2V93.8M630.2 104.2V95.8M631.7 104.2V94.4M631.9 104.2V96.4M633.9 104.2V101.6M635.3 104.2V98.9M637.8 104.2V92.8M652.6 104.2V103.2M653.5 104.2V93.0M654.7 104.2V97.5M654.8 104.2V100.4M656.7 104.2V101.2M656.8 104.2V103.2M657.0 104.2V96.6M657.0 104.2V93.7M658.7 104.2V102.8M659.1 104.2V103.6M673.0 104.2V94.7M673.6 104.2V102.9M674.2 104.2V101.6" stroke="#e2e2e2" stroke-width="0.5"/><path d="M243.6 104.2V100.3M243.8 104.2V100.6M251.3 104.2V102.3M254.3 104.2V101.1M254.6 104.2V100.4M255.4 104.2V102.1M255.8 104.2V100.7M256.2 104.2V100.8M256.4 104.2V100.5M256.7 104.2V102.9M259.2 104.2V100.4M259.3 104.2V100.3M260.9 104.2V102.5M261.0 104.2V101.3M261.5 104.2V102.9M262.1 104.2V101.4M262.5 104.2V101.1M264.2 104.2V101.0M264.4 104.2V100.6M264.5 104.2V102.3M266.8 104.2V102.9M267.0 104.2V100.7M268.0 104.2V103.1M268.0 104.2V102.5M269.3 104.2V102.5M270.8 104.2V100.9M271.6 104.2V101.9M271.8 104.2V100.7M272.0 104.2V101.2M272.3 104.2V100.7M272.7 104.2V100.8M273.3 104.2V100.6M273.7 104.2V102.4M274.8 104.2V102.1M314.3 104.2V102.9M315.0 104.2V102.1M315.2 104.2V100.6M315.3 104.2V100.5M315.4 104.2V101.1M319.5 104.2V101.4M319.5 104.2V103.1M320.2 104.2V100.4M320.9 104.2V101.2M321.9 104.2V101.4M322.9 104.2V100.7M323.2 104.2V102.5M324.5 104.2V101.3M327.0 104.2V101.2M328.7 104.2V100.9M329.9 104.2V102.9M332.0 104.2V101.0M332.2 104.2V100.5M333.2 104.2V101.3M336.0 104.2V102.7M336.9 104.2V100.4M337.1 104.2V102.9M337.5 104.2V102.5M338.4 104.2V100.6M339.6 104.2V101.4M340.1 104.2V102.2M341.6 104.2V100.8M343.4 104.2V101.3M343.6 104.2V102.8M343.7 104.2V102.5M344.2 104.2V100.8M344.4 104.2V100.8M344.5 104.2V103.0M377.0 104.2V102.3M378.2 104.2V101.0M379.9 104.2V101.2M380.3 104.2V100.2M380.5 104.2V102.9M380.8 104.2V100.9M381.1 104.2V101.8M383.1 104.2V102.5M383.1 104.2V101.7M385.4 104.2V103.1M386.0 104.2V102.8M387.9 104.2V102.9M389.1 104.2V101.1M389.4 104.2V101.1M389.9 104.2V102.5M391.0 104.2V102.3M391.8 104.2V100.9M392.7 104.2V102.0M393.7 104.2V102.2M394.4 104.2V100.4M395.5 104.2V101.6M395.6 104.2V101.6M397.2 104.2V101.4M397.7 104.2V103.1M398.0 104.2V102.0M400.3 104.2V100.8M403.7 104.2V101.2M403.8 104.2V100.5M404.1 104.2V102.3M437.4 104.2V102.4M439.3 104.2V101.1M440.1 104.2V101.0M440.1 104.2V101.4M440.3 104.2V100.6M441.3 104.2V101.8M441.6 104.2V103.2M442.8 104.2V100.5M443.1 104.2V101.5M443.3 104.2V101.4M443.9 104.2V101.4M445.7 104.2V103.1M446.3 104.2V102.3M446.6 104.2V102.9M449.1 104.2V101.3M449.6 104.2V100.6M450.1 104.2V101.2M450.2 104.2V100.8M451.6 104.2V102.2M455.2 104.2V103.1M456.7 104.2V102.0M457.1 104.2V102.7M457.7 104.2V102.3M458.1 104.2V102.5M458.6 104.2V102.7M459.2 104.2V101.1M487.5 104.2V101.5M488.6 104.2V100.7M489.7 104.2V100.7M491.4 104.2V101.1M491.5 104.2V100.3M491.6 104.2V101.3M492.7 104.2V100.3M494.9 104.2V101.2M495.2 104.2V102.5M495.2 104.2V101.3M495.3 104.2V100.9M495.9 104.2V101.9M498.1 104.2V102.7M498.6 104.2V102.1M498.8 104.2V100.9M498.8 104.2V102.6M500.1 104.2V103.2M502.0 104.2V100.6M502.1 104.2V100.3M502.3 104.2V100.6M503.0 104.2V100.8M526.7 104.2V102.5M527.7 104.2V102.2M529.1 104.2V100.7M529.3 104.2V101.9M530.9 104.2V101.9M531.0 104.2V100.8M531.0 104.2V100.2M531.1 104.2V100.5M531.1 104.2V100.9M532.0 104.2V101.9M533.5 104.2V101.1M537.0 104.2V102.5M537.5 104.2V102.4M539.5 104.2V102.6M539.6 104.2V101.2M541.2 104.2V100.4M543.2 104.2V100.9M545.0 104.2V102.4M545.0 104.2V101.2M545.1 104.2V102.1M546.1 104.2V100.7M568.0 104.2V101.8M571.4 104.2V100.6M571.7 104.2V101.4M573.1 104.2V103.2M573.7 104.2V101.1M574.7 104.2V101.6M575.9 104.2V102.5M575.9 104.2V102.8M577.0 104.2V102.0M579.1 104.2V101.5M579.2 104.2V101.8M579.4 104.2V103.1M579.7 104.2V102.8M580.1 104.2V101.2M580.5 104.2V101.6M582.5 104.2V101.0M582.5 104.2V102.0M599.7 104.2V100.9M599.7 104.2V101.6M600.8 104.2V101.6M600.9 104.2V102.0M601.0 104.2V100.3M602.8 104.2V102.1M603.7 104.2V101.8M603.8 104.2V101.1M604.1 104.2V100.4M605.2 104.2V100.6M609.6 104.2V100.6M610.4 104.2V102.7M611.5 104.2V100.4M626.6 104.2V100.5M627.9 104.2V101.5M628.1 104.2V101.0M628.2 104.2V102.9M628.3 104.2V101.1M628.5 104.2V100.6M630.3 104.2V100.2M630.8 104.2V101.1M630.9 104.2V101.4M631.6 104.2V100.3M633.6 104.2V102.8M633.7 104.2V100.8M634.3 104.2V101.0M652.6 104.2V100.2M654.4 104.2V100.6M654.5 104.2V102.0M654.6 104.2V102.0M654.7 104.2V101.6M656.0 104.2V101.2M658.2 104.2V100.7M659.2 104.2V100.7M659.5 104.2V102.3M660.0 104.2V101.0M671.3 104.2V102.1M672.5 104.2V100.7M672.5 104.2V101.1M673.2 104.2V102.4M675.1 104.2V102.6M675.6 104.2V102.9M675.8 104.2V101.9" stroke="#cacaca" stroke-width="0.5"/><path d="M278.6 104.2V92.5M279.0 104.2V101.2M279.5 104.2V103.1M279.7 104.2V101.1M280.4 104.2V105.0M280.9 104.2V101.0M281.0 104.2V112.6M281.9 104.2V104.7M282.1 104.2V103.2M283.6 104.2V106.7M284.8 104.2V106.5M286.3 104.2V101.1M286.5 104.2V109.6M286.8 104.2V95.8M287.0 104.2V92.6M287.5 104.2V106.8M288.2 104.2V105.0M289.1 104.2V113.9M290.8 104.2V106.0M291.6 104.2V105.2M292.4 104.2V93.4M293.6 104.2V108.3M295.6 104.2V93.3M295.6 104.2V93.6M297.2 104.2V101.5M298.5 104.2V100.7M299.1 104.2V97.1M299.2 104.2V106.7M299.9 104.2V102.6M300.3 104.2V106.8M300.8 104.2V102.1M305.8 104.2V92.9M307.7 104.2V99.8M310.0 104.2V113.8M311.6 104.2V105.5M348.8 104.2V101.6M350.0 104.2V108.1M354.6 104.2V101.9M354.9 104.2V102.8M355.6 104.2V112.2M355.8 104.2V104.5M356.9 104.2V98.6M360.5 104.2V101.6M361.5 104.2V103.6M361.5 104.2V97.1M365.7 104.2V102.4M365.8 104.2V113.2M365.8 104.2V99.2M367.6 104.2V97.4M370.5 104.2V103.0M371.7 104.2V102.4M373.5 104.2V101.6M374.7 104.2V95.6M407.7 104.2V99.2M408.4 104.2V104.7M408.9 104.2V95.7M410.9 104.2V101.6M411.3 104.2V107.3M411.5 104.2V97.9M415.5 104.2V102.1M415.5 104.2V107.0M416.4 104.2V112.7M416.4 104.2V108.2M417.0 104.2V104.9M417.8 104.2V99.5M418.5 104.2V97.5M420.5 104.2V97.6M423.6 104.2V108.4M424.0 104.2V109.9M424.0 104.2V96.5M425.8 104.2V97.2M426.9 104.2V102.7M427.9 104.2V106.7M431.0 104.2V97.0M460.6 104.2V97.9M461.1 104.2V104.6M461.4 104.2V110.1M461.5 104.2V106.0M463.8 104.2V103.2M465.7 104.2V96.8M468.4 104.2V99.6M469.5 104.2V105.1M470.2 104.2V100.5M470.5 104.2V96.4M472.9 104.2V104.7M473.0 104.2V106.4M473.7 104.2V94.5M475.0 104.2V112.9M475.4 104.2V102.5M475.9 104.2V93.9M476.4 104.2V103.4M476.5 104.2V94.5M477.5 104.2V104.3M481.1 104.2V98.6M481.2 104.2V93.1M481.5 104.2V108.9M482.3 104.2V93.2M482.3 104.2V97.5M505.7 104.2V98.9M506.4 104.2V102.7M507.2 104.2V114.0M507.6 104.2V102.4M507.8 104.2V93.2M508.0 104.2V99.2M508.1 104.2V98.5M508.9 104.2V92.7M509.8 104.2V105.8M511.4 104.2V94.3M512.3 104.2V96.8M514.0 104.2V93.7M515.5 104.2V107.5M515.8 104.2V106.9M516.6 104.2V111.3M517.5 104.2V110.5M519.4 104.2V97.1M519.9 104.2V102.9M521.7 104.2V108.7M523.3 104.2V105.7M548.4 104.2V105.6M548.8 104.2V110.5M550.3 104.2V109.6M552.5 104.2V101.5M554.6 104.2V99.7M556.4 104.2V103.0M558.5 104.2V107.0M559.9 104.2V104.5M563.1 104.2V102.2M563.2 104.2V113.2M563.3 104.2V96.6M565.2 104.2V103.6M565.3 104.2V110.5M565.5 104.2V105.7M566.1 104.2V99.0M586.5 104.2V98.1M588.5 104.2V108.2M588.5 104.2V101.7M589.8 104.2V93.9M590.4 104.2V113.8M592.1 104.2V103.1M592.2 104.2V98.8M593.6 104.2V103.4M593.7 104.2V103.2M595.5 104.2V107.5M597.5 104.2V95.8M597.6 104.2V104.7M597.6 104.2V96.5M613.0 104.2V109.7M613.4 104.2V94.4M613.8 104.2V95.2M614.2 104.2V96.7M614.4 104.2V101.3M616.8 104.2V107.5M618.6 104.2V103.1M621.2 104.2V111.7M621.6 104.2V111.1M621.9 104.2V102.6M622.7 104.2V95.4M622.9 104.2V101.7M623.1 104.2V93.6M623.6 104.2V101.8M624.5 104.2V101.5M624.8 104.2V104.4M639.9 104.2V107.7M640.5 104.2V113.4M641.3 104.2V104.5M642.1 104.2V102.6M642.4 104.2V107.9M643.2 104.2V105.2M645.9 104.2V93.4M649.6 104.2V94.7M661.5 104.2V101.6M662.5 104.2V104.6M663.8 104.2V97.1M665.4 104.2V94.6M666.1 104.2V95.8M666.8 104.2V100.3M667.1 104.2V95.5M668.0 104.2V104.5M669.0 104.2V94.4M677.7 104.2V104.5M679.1 104.2V100.2M679.7 104.2V100.0M681.2 104.2V105.2M681.7 104.2V106.3M682.4 104.2V107.6M682.8 104.2V112.4" stroke="#eeeeee" stroke-width="0.5"/><path d="M279.7 104.2V98.7M279.8 104.2V103.4M280.1 104.2V102.8M285.2 104.2V95.4M286.0 104.2V98.0M287.2 104.2V97.0M289.3 104.2V97.7M291.1 104.2V102.5M292.4 104.2V93.2M292.7 104.2V103.6M297.7 104.2V101.7M302.9 104.2V97.2M303.1 104.2V97.2M306.0 104.2V103.2M307.1 104.2V100.3M308.9 104.2V97.2M310.4 104.2V101.3M310.9 104.2V102.5M346.2 104.2V102.0M351.3 104.2V100.3M353.3 104.2V102.7M354.5 104.2V103.6M356.1 104.2V92.3M356.2 104.2V96.7M356.7 104.2V94.6M356.9 104.2V95.2M358.3 104.2V95.9M358.9 104.2V103.0M359.1 104.2V102.3M360.6 104.2V95.5M361.0 104.2V93.8M364.6 104.2V100.3M364.7 104.2V92.7M365.7 104.2V98.1M366.4 104.2V101.2M368.3 104.2V93.8M368.4 104.2V94.2M369.6 104.2V95.0M370.3 104.2V102.8M370.7 104.2V103.5M373.1 104.2V95.3M374.3 104.2V102.7M374.3 104.2V98.5M374.3 104.2V92.5M375.3 104.2V99.8M406.0 104.2V101.0M406.2 104.2V103.6M407.3 104.2V96.8M409.1 104.2V95.5M414.3 104.2V101.0M416.3 104.2V102.1M418.6 104.2V98.4M420.3 104.2V93.8M421.1 104.2V95.8M422.7 104.2V99.4M425.2 104.2V93.8M425.3 104.2V102.6M427.5 104.2V92.4M428.8 104.2V98.5M430.0 104.2V94.4M463.3 104.2V99.0M463.5 104.2V97.6M468.8 104.2V95.6M470.0 104.2V98.5M471.8 104.2V103.2M473.0 104.2V102.1M477.3 104.2V98.1M478.3 104.2V99.2M482.0 104.2V96.1M482.4 104.2V93.5M509.8 104.2V101.2M511.8 104.2V100.2M511.8 104.2V103.4M511.9 104.2V97.6M513.1 104.2V100.9M513.5 104.2V97.8M514.8 104.2V96.1M517.7 104.2V98.6M518.4 104.2V103.3M519.9 104.2V99.6M524.1 104.2V96.6M524.6 104.2V98.1M549.0 104.2V95.7M549.4 104.2V96.7M550.5 104.2V102.1M553.6 104.2V92.8M556.6 104.2V102.1M557.7 104.2V100.0M559.0 104.2V97.0M559.2 104.2V102.0M559.4 104.2V100.0M560.2 104.2V100.2M560.6 104.2V97.0M561.1 104.2V95.2M565.5 104.2V94.1M566.0 104.2V97.0M566.3 104.2V101.3M586.7 104.2V101.7M586.8 104.2V99.1M588.6 104.2V94.1M589.8 104.2V102.4M593.5 104.2V99.4M595.2 104.2V100.8M597.1 104.2V103.1M597.9 104.2V102.5M616.7 104.2V94.7M618.6 104.2V103.5M619.6 104.2V98.2M620.9 104.2V103.1M623.4 104.2V95.5M624.4 104.2V94.8M625.0 104.2V97.1M639.7 104.2V93.0M640.1 104.2V102.5M641.6 104.2V97.5M641.7 104.2V95.9M644.3 104.2V95.1M645.4 104.2V94.8M645.9 104.2V93.0M647.0 104.2V93.5M647.9 104.2V98.4M649.2 104.2V103.1M666.6 104.2V92.2M666.6 104.2V103.5M677.8 104.2V103.4M679.6 104.2V93.9M682.6 104.2V100.7" stroke="#f2f2f2" stroke-width="0.5"/><path d="M280.1 104.2V105.2M280.7 104.2V105.6M282.6 104.2V110.2M283.5 104.2V106.3M284.1 104.2V111.9M284.4 104.2V108.2M284.9 104.2V105.1M285.8 104.2V104.8M286.9 104.2V105.1M287.9 104.2V108.0M289.7 104.2V106.6M290.0 104.2V111.8M291.6 104.2V106.5M291.7 104.2V105.4M301.2 104.2V109.5M302.0 104.2V105.2M304.3 104.2V105.9M305.4 104.2V104.3M306.7 104.2V110.5M307.5 104.2V110.3M311.5 104.2V111.8M357.9 104.2V110.2M360.9 104.2V107.9M360.9 104.2V104.7M361.2 104.2V106.2M361.4 104.2V104.8M367.5 104.2V104.3M368.7 104.2V105.8M370.3 104.2V104.5M370.9 104.2V109.0M372.1 104.2V108.0M374.0 104.2V110.8M406.7 104.2V108.5M407.7 104.2V113.9M409.1 104.2V107.8M416.8 104.2V113.3M418.7 104.2V113.1M419.0 104.2V107.2M419.5 104.2V110.8M422.0 104.2V106.3M422.9 104.2V113.7M423.2 104.2V111.7M425.1 104.2V104.9M425.4 104.2V105.9M431.7 104.2V104.6M464.5 104.2V104.5M465.3 104.2V106.2M467.3 104.2V104.9M467.4 104.2V105.0M469.5 104.2V112.8M472.8 104.2V107.3M473.0 104.2V112.5M474.9 104.2V104.4M475.2 104.2V104.9M475.6 104.2V113.0M478.1 104.2V107.9M481.5 104.2V105.3M481.5 104.2V105.4M507.8 104.2V112.3M513.1 104.2V107.4M516.9 104.2V105.0M517.8 104.2V109.2M520.4 104.2V105.0M524.3 104.2V109.3M549.3 104.2V109.4M554.2 104.2V110.2M554.6 104.2V110.2M556.5 104.2V109.3M557.0 104.2V110.2M557.4 104.2V106.8M587.0 104.2V107.4M587.7 104.2V106.7M588.3 104.2V104.4M589.2 104.2V105.0M590.9 104.2V105.4M592.6 104.2V104.4M593.7 104.2V105.2M613.7 104.2V111.1M615.4 104.2V110.7M615.4 104.2V106.0M618.6 104.2V112.4M643.0 104.2V111.4M643.7 104.2V104.3M646.5 104.2V109.1M649.4 104.2V110.2M663.4 104.2V109.0M666.6 104.2V112.2M667.5 104.2V109.2M678.5 104.2V112.5M679.1 104.2V107.9" stroke="#f3f3f3" stroke-width="0.5"/><path d="M283.5 104.2V99.9M286.4 104.2V97.4M287.1 104.2V93.9M287.5 104.2V97.6M290.1 104.2V97.3M290.5 104.2V103.0M292.4 104.2V97.6M292.6 104.2V97.1M295.7 104.2V93.1M295.8 104.2V95.7M297.1 104.2V100.0M298.8 104.2V102.2M304.1 104.2V97.1M305.4 104.2V97.1M346.1 104.2V98.3M347.9 104.2V98.8M348.1 104.2V98.7M350.0 104.2V96.7M352.4 104.2V95.0M353.5 104.2V103.2M354.0 104.2V95.1M356.7 104.2V102.7M358.0 104.2V103.1M358.4 104.2V103.4M359.8 104.2V100.9M367.0 104.2V103.4M368.0 104.2V99.5M368.8 104.2V103.2M370.5 104.2V101.1M370.9 104.2V100.7M371.7 104.2V102.4M372.6 104.2V96.1M373.8 104.2V98.7M374.2 104.2V101.5M406.1 104.2V100.4M406.8 104.2V99.8M408.4 104.2V103.2M410.3 104.2V100.2M410.9 104.2V95.9M411.2 104.2V94.7M412.1 104.2V102.5M412.2 104.2V97.1M415.4 104.2V97.3M417.3 104.2V99.9M417.5 104.2V96.0M419.5 104.2V95.5M423.7 104.2V95.9M424.1 104.2V97.3M424.8 104.2V97.7M425.0 104.2V101.8M425.0 104.2V102.9M426.5 104.2V98.5M429.2 104.2V101.4M431.2 104.2V93.4M432.9 104.2V96.5M460.9 104.2V97.9M465.7 104.2V95.4M466.0 104.2V97.7M466.0 104.2V92.6M467.8 104.2V99.6M468.6 104.2V101.7M470.5 104.2V96.8M472.1 104.2V100.8M475.9 104.2V95.7M478.7 104.2V102.2M478.8 104.2V101.7M505.1 104.2V102.3M506.8 104.2V103.4M507.1 104.2V102.6M509.5 104.2V102.5M510.6 104.2V102.5M510.6 104.2V98.4M510.8 104.2V101.6M516.7 104.2V93.3M517.8 104.2V93.1M518.7 104.2V102.3M519.7 104.2V94.1M521.8 104.2V98.3M522.6 104.2V98.4M523.9 104.2V101.3M548.8 104.2V101.7M550.5 104.2V94.0M550.9 104.2V95.7M551.0 104.2V96.2M553.3 104.2V98.4M553.7 104.2V102.4M554.6 104.2V103.1M557.9 104.2V103.2M558.6 104.2V98.5M559.2 104.2V102.4M560.5 104.2V94.3M560.9 104.2V98.6M563.8 104.2V94.4M564.7 104.2V101.0M585.7 104.2V96.1M586.4 104.2V103.1M586.8 104.2V102.6M587.8 104.2V96.6M588.0 104.2V94.5M589.2 104.2V98.0M589.6 104.2V100.5M595.4 104.2V94.5M613.3 104.2V96.4M614.6 104.2V100.6M616.9 104.2V96.7M621.9 104.2V95.2M622.4 104.2V97.9M624.1 104.2V100.2M640.8 104.2V102.0M642.0 104.2V102.8M642.4 104.2V99.4M642.6 104.2V97.7M642.8 104.2V97.8M643.0 104.2V95.9M646.7 104.2V98.9M661.4 104.2V97.4M662.1 104.2V99.6M662.3 104.2V99.5M663.8 104.2V100.6M664.3 104.2V96.7M668.5 104.2V94.1M668.9 104.2V102.9M669.0 104.2V94.3M678.1 104.2V98.9M678.7 104.2V95.2M682.5 104.2V102.7" stroke="#e9e9e9" stroke-width="0.5"/>
<line x1="322.5" y1="84" x2="322.5" y2="104.2" stroke="#7a7aea" stroke-width="1"/>
<line x1="435.4" y1="89.8" x2="435.4" y2="104.2" stroke="#8282ea" stroke-width="1"/>
<line x1="446.6" y1="86.7" x2="446.6" y2="104.2" stroke="#8282ea" stroke-width="1"/>
<line x1="487.4" y1="89.8" x2="487.4" y2="104.2" stroke="#8282ea" stroke-width="1"/>
<line x1="516.3" y1="86.7" x2="516.3" y2="104.2" stroke="#f07c7c" stroke-width="1"/>
<line x1="509.8" y1="104.2" x2="509.8" y2="120.4" stroke="#f08888" stroke-width="1"/>
<line x1="619.6" y1="71" x2="619.6" y2="104.2" stroke="#f07070" stroke-width="1"/>
<line x1="531" y1="104.2" x2="531" y2="122" stroke="#d0d0d0" stroke-width="1"/>
<rect x="242.5" y="68.4" width="440.9" height="56.599999999999994" fill="none" stroke="#a9a9a9" stroke-width="1.2"/>
<text x="240.8" y="76.17" font-size="6.3" fill="#333" text-anchor="end" textLength="14.64" lengthAdjust="spacingAndGlyphs">0.0005</text>
<text x="240.8" y="85.97" font-size="6.3" fill="#333" text-anchor="end" textLength="14.64" lengthAdjust="spacingAndGlyphs">0.0003</text>
<text x="240.8" y="96.87" font-size="6.3" fill="#333" text-anchor="end" textLength="14.64" lengthAdjust="spacingAndGlyphs">0.0002</text>
<text x="240.8" y="107.07" font-size="6.3" fill="#333" text-anchor="end" textLength="14.64" lengthAdjust="spacingAndGlyphs">0.0000</text>
<text x="240.8" y="117.67" font-size="6.3" fill="#333" text-anchor="end" textLength="16.24" lengthAdjust="spacingAndGlyphs">-0.0002</text>
<text x="240.8" y="127.67" font-size="6.3" fill="#333" text-anchor="end" textLength="16.24" lengthAdjust="spacingAndGlyphs">-0.0003</text>
<text x="259.4" y="129.1" font-size="4.6" fill="#333" text-anchor="middle" textLength="2.10" lengthAdjust="spacingAndGlyphs">1</text>
<text x="295" y="129.1" font-size="4.6" fill="#333" text-anchor="middle" textLength="2.10" lengthAdjust="spacingAndGlyphs">2</text>
<text x="330" y="129.1" font-size="4.6" fill="#333" text-anchor="middle" textLength="2.10" lengthAdjust="spacingAndGlyphs">3</text>
<text x="361" y="129.1" font-size="4.6" fill="#333" text-anchor="middle" textLength="2.10" lengthAdjust="spacingAndGlyphs">4</text>
<text x="391" y="129.1" font-size="4.6" fill="#333" text-anchor="middle" textLength="2.10" lengthAdjust="spacingAndGlyphs">5</text>
<text x="419.6" y="129.1" font-size="4.6" fill="#333" text-anchor="middle" textLength="2.10" lengthAdjust="spacingAndGlyphs">6</text>
<text x="447.4" y="129.1" font-size="4.6" fill="#333" text-anchor="middle" textLength="2.10" lengthAdjust="spacingAndGlyphs">7</text>
<text x="472.4" y="129.1" font-size="4.6" fill="#333" text-anchor="middle" textLength="2.10" lengthAdjust="spacingAndGlyphs">8</text>
<text x="494" y="129.1" font-size="4.6" fill="#333" text-anchor="middle" textLength="2.10" lengthAdjust="spacingAndGlyphs">9</text>
<text x="514.4" y="129.1" font-size="4.6" fill="#333" text-anchor="middle" textLength="4.20" lengthAdjust="spacingAndGlyphs">10</text>
<text x="536.4" y="129.1" font-size="4.6" fill="#333" text-anchor="middle" textLength="3.92" lengthAdjust="spacingAndGlyphs">11</text>
<text x="558" y="129.1" font-size="4.6" fill="#333" text-anchor="middle" textLength="4.20" lengthAdjust="spacingAndGlyphs">12</text>
<text x="576.6" y="129.1" font-size="4.6" fill="#333" text-anchor="middle" textLength="4.20" lengthAdjust="spacingAndGlyphs">13</text>
<text x="592" y="129.1" font-size="4.6" fill="#333" text-anchor="middle" textLength="4.20" lengthAdjust="spacingAndGlyphs">14</text>
<text x="605.6" y="129.1" font-size="4.6" fill="#333" text-anchor="middle" textLength="4.20" lengthAdjust="spacingAndGlyphs">15</text>
<text x="619" y="129.1" font-size="4.6" fill="#333" text-anchor="middle" textLength="4.20" lengthAdjust="spacingAndGlyphs">16</text>
<text x="632.3" y="129.1" font-size="4.6" fill="#333" text-anchor="middle" textLength="4.20" lengthAdjust="spacingAndGlyphs">17</text>
<text x="645" y="129.1" font-size="4.6" fill="#333" text-anchor="middle" textLength="4.20" lengthAdjust="spacingAndGlyphs">18</text>
<text x="656" y="129.1" font-size="4.6" fill="#333" text-anchor="middle" textLength="4.20" lengthAdjust="spacingAndGlyphs">19</text>
<text x="665.6" y="129.1" font-size="4.6" fill="#333" text-anchor="middle" textLength="4.20" lengthAdjust="spacingAndGlyphs">20</text>
<text x="674" y="129.1" font-size="4.6" fill="#333" text-anchor="middle" textLength="4.20" lengthAdjust="spacingAndGlyphs">21</text>
<text x="680" y="129.1" font-size="4.6" fill="#333" text-anchor="middle" textLength="4.20" lengthAdjust="spacingAndGlyphs">22</text>
<text x="221.5" y="67" font-size="7.1" fill="#222" text-anchor="middle" transform="rotate(-90 221.5 67)" dy="2.5" textLength="37" lengthAdjust="spacingAndGlyphs">DEP &amp; BMI</text>
<text x="432.6" y="135.3" font-size="8" fill="#222" textLength="60.2" lengthAdjust="spacingAndGlyphs">local SNP-heritability</text>
<path d="M242.5 151.4V151.4M242.7 151.4V150.9M242.9 151.4V151.2M242.9 151.4V151.2M243.0 151.4V151.2M243.3 151.4V150.2M243.6 151.4V150.3M243.9 151.4V149.6M244.5 151.4V150.2M244.8 151.4V150.3M244.8 151.4V151.4M245.1 151.4V150.5M245.4 151.4V151.0M245.5 151.4V150.0M245.5 151.4V150.5M245.5 151.4V149.1M245.7 151.4V150.7M246.2 151.4V151.4M247.0 151.4V149.7M247.1 151.4V150.3M247.4 151.4V150.4M247.4 151.4V150.7M247.5 151.4V149.9M248.0 151.4V150.9M248.1 151.4V151.2M248.4 151.4V151.3M248.5 151.4V149.9M248.6 151.4V151.3M248.9 151.4V151.0M249.0 151.4V150.3M249.0 151.4V149.2M249.2 151.4V151.2M249.3 151.4V151.4M249.4 151.4V150.5M249.5 151.4V150.2M249.5 151.4V150.0M249.6 151.4V150.7M249.8 151.4V150.0M249.9 151.4V150.6M250.0 151.4V151.2M250.2 151.4V151.1M250.6 151.4V149.0M250.8 151.4V151.0M251.0 151.4V150.2M251.4 151.4V151.0M251.9 151.4V149.2M252.1 151.4V150.7M252.9 151.4V148.9M253.3 151.4V150.0M253.4 151.4V151.2M253.4 151.4V151.3M253.5 151.4V150.5M253.8 151.4V149.3M253.8 151.4V151.1M254.2 151.4V151.0M254.2 151.4V151.4M254.4 151.4V150.3M254.4 151.4V150.7M254.7 151.4V149.9M255.0 151.4V149.8M255.0 151.4V150.2M255.3 151.4V150.1M255.4 151.4V149.9M255.6 151.4V150.3M256.1 151.4V150.5M256.2 151.4V151.1M256.3 151.4V151.1M256.5 151.4V151.1M257.9 151.4V149.1M258.3 151.4V149.2M258.7 151.4V150.7M259.1 151.4V148.7M259.3 151.4V150.9M259.6 151.4V151.1M260.2 151.4V151.0M260.2 151.4V150.8M260.6 151.4V150.5M261.1 151.4V150.6M261.2 151.4V151.3M261.3 151.4V149.6M261.6 151.4V151.3M261.6 151.4V150.9M261.7 151.4V149.5M262.6 151.4V151.3M262.7 151.4V151.0M262.9 151.4V150.5M263.1 151.4V150.9M263.4 151.4V149.9M263.9 151.4V151.1M264.6 151.4V149.3M264.7 151.4V149.1M264.7 151.4V150.9M265.9 151.4V150.7M266.1 151.4V149.3M266.3 151.4V151.3M266.4 151.4V151.2M266.5 151.4V150.0M267.1 151.4V149.9M267.2 151.4V151.4M267.5 151.4V150.4M268.7 151.4V151.3M269.1 151.4V151.2M269.6 151.4V151.0M269.9 151.4V151.1M270.3 151.4V148.1M271.1 151.4V151.0M271.1 151.4V150.3M271.9 151.4V150.0M272.2 151.4V150.6M272.7 151.4V151.3M272.7 151.4V149.5M272.9 151.4V149.2M273.1 151.4V146.9M273.2 151.4V147.6M273.5 151.4V151.3M273.6 151.4V150.2M273.6 151.4V149.7M273.7 151.4V151.4M273.8 151.4V149.3M273.8 151.4V151.3M274.3 151.4V150.8M274.6 151.4V150.4M274.7 151.4V150.4M274.8 151.4V151.0M274.9 151.4V149.5M275.1 151.4V151.0M275.3 151.4V151.0M275.4 151.4V150.7M275.7 151.4V146.8M275.8 151.4V149.8M276.0 151.4V148.9M276.1 151.4V146.4M276.2 151.4V149.9M276.3 151.4V149.8M276.5 151.4V150.8M276.6 151.4V150.0M276.8 151.4V150.8M277.1 151.4V147.4" stroke="#0000ff" stroke-width="0.5" stroke-opacity="0.85"/><line x1="242.5" y1="150.70000000000002" x2="277.2" y2="150.70000000000002" stroke="#0000ff" stroke-width="1.5"/><path d="M277.9 151.4V151.3M278.3 151.4V150.9M278.4 151.4V150.0M278.4 151.4V150.8M278.4 151.4V150.7M278.7 151.4V151.2M278.8 151.4V148.5M279.1 151.4V149.8M279.1 151.4V148.8M279.5 151.4V149.6M279.6 151.4V151.1M279.7 151.4V147.9M279.7 151.4V150.5M279.9 151.4V151.3M279.9 151.4V150.5M280.0 151.4V151.3M280.6 151.4V149.9M280.7 151.4V149.7M281.1 151.4V151.1M281.3 151.4V151.4M281.4 151.4V151.2M281.5 151.4V151.3M282.0 151.4V150.8M282.9 151.4V149.5M283.1 151.4V151.1M283.3 151.4V149.3M283.4 151.4V150.9M283.5 151.4V150.0M283.9 151.4V150.0M284.2 151.4V150.6M284.8 151.4V150.7M285.3 151.4V150.7M285.5 151.4V149.9M285.5 151.4V151.4M285.8 151.4V151.4M286.1 151.4V148.0M286.3 151.4V151.1M286.4 151.4V147.8M286.5 151.4V150.7M286.5 151.4V151.2M286.6 151.4V149.4M286.7 151.4V149.7M286.7 151.4V150.8M287.0 151.4V150.9M287.3 151.4V150.7M287.3 151.4V151.4M288.4 151.4V150.8M288.4 151.4V149.3M288.4 151.4V149.6M289.2 151.4V150.9M289.2 151.4V151.3M289.2 151.4V150.8M289.4 151.4V150.8M289.4 151.4V146.4M289.7 151.4V149.4M290.0 151.4V151.3M290.1 151.4V150.5M290.4 151.4V150.0M291.8 151.4V150.4M291.9 151.4V149.1M292.5 151.4V150.8M292.7 151.4V151.1M292.8 151.4V150.3M292.9 151.4V150.8M293.5 151.4V146.4M293.5 151.4V150.1M293.5 151.4V148.1M293.8 151.4V151.4M294.1 151.4V151.2M294.4 151.4V149.4M294.5 151.4V151.1M294.5 151.4V151.0M294.7 151.4V148.9M295.2 151.4V151.2M295.5 151.4V150.6M295.7 151.4V150.4M296.0 151.4V151.0M296.1 151.4V151.2M296.3 151.4V151.4M296.6 151.4V149.9M296.8 151.4V151.1M296.9 151.4V150.5M297.7 151.4V151.0M297.7 151.4V148.5M297.9 151.4V149.3M298.1 151.4V148.7M298.6 151.4V149.4M298.6 151.4V150.7M299.6 151.4V151.4M299.8 151.4V146.4M300.5 151.4V150.8M300.7 151.4V150.8M300.8 151.4V149.5M301.3 151.4V151.0M301.5 151.4V150.6M302.3 151.4V151.2M302.3 151.4V150.5M302.5 151.4V150.2M302.7 151.4V151.2M302.9 151.4V150.9M303.9 151.4V150.5M303.9 151.4V150.2M304.1 151.4V150.6M304.6 151.4V150.8M304.7 151.4V151.2M304.9 151.4V151.1M305.5 151.4V151.3M305.5 151.4V149.7M305.6 151.4V151.1M305.7 151.4V150.3M305.8 151.4V150.6M306.1 151.4V147.4M306.3 151.4V150.5M306.3 151.4V151.1M306.8 151.4V147.6M307.0 151.4V150.4M307.7 151.4V148.5M307.9 151.4V149.9M307.9 151.4V147.2M308.0 151.4V149.6M308.1 151.4V151.0M308.3 151.4V150.9M308.4 151.4V150.9M308.4 151.4V150.9M308.7 151.4V149.7M308.9 151.4V151.2M309.1 151.4V151.3M309.7 151.4V151.1M310.0 151.4V151.0M310.2 151.4V150.5M310.3 151.4V146.9M310.4 151.4V149.4M310.4 151.4V148.5M310.7 151.4V149.9M310.7 151.4V150.5M310.8 151.4V151.2M311.0 151.4V149.1M311.0 151.4V151.1M311.6 151.4V151.1M312.0 151.4V151.2M312.2 151.4V150.8" stroke="#ff0000" stroke-width="0.5" stroke-opacity="0.85"/><line x1="277.2" y1="150.70000000000002" x2="312.5" y2="150.70000000000002" stroke="#ff0000" stroke-width="1.5"/><path d="M312.9 151.4V148.5M312.9 151.4V149.2M313.3 151.4V151.0M313.6 151.4V150.8M314.5 151.4V151.4M314.5 151.4V148.4M314.5 151.4V149.0M314.6 151.4V151.2M314.9 151.4V150.8M315.2 151.4V150.9M315.3 151.4V151.3M315.5 151.4V150.0M315.9 151.4V150.3M316.0 151.4V151.4M316.4 151.4V150.7M316.4 151.4V149.3M316.6 151.4V150.8M316.6 151.4V151.4M316.8 151.4V149.6M317.0 151.4V150.1M317.2 151.4V150.6M317.7 151.4V149.8M318.0 151.4V148.3M318.1 151.4V150.9M318.5 151.4V146.9M318.6 151.4V149.8M319.5 151.4V151.2M320.6 151.4V149.4M320.8 151.4V149.4M321.2 151.4V151.1M321.7 151.4V150.5M322.4 151.4V151.1M322.6 151.4V150.9M322.6 151.4V150.3M322.6 151.4V150.7M322.9 151.4V149.9M323.3 151.4V151.2M323.6 151.4V151.3M323.8 151.4V151.3M324.2 151.4V151.3M324.5 151.4V150.5M324.6 151.4V149.7M325.1 151.4V149.1M325.2 151.4V150.1M325.4 151.4V150.1M325.5 151.4V150.9M325.7 151.4V150.0M325.7 151.4V151.3M325.7 151.4V148.3M325.8 151.4V149.9M325.9 151.4V149.0M326.4 151.4V150.8M326.9 151.4V150.8M328.3 151.4V151.3M328.3 151.4V151.1M328.3 151.4V151.0M328.9 151.4V149.3M329.0 151.4V150.3M329.2 151.4V151.4M329.4 151.4V149.0M329.4 151.4V151.0M329.6 151.4V151.3M329.6 151.4V150.7M329.6 151.4V151.2M329.7 151.4V151.2M329.7 151.4V150.8M329.9 151.4V149.2M330.3 151.4V150.9M330.4 151.4V150.4M331.0 151.4V150.0M331.1 151.4V150.8M331.1 151.4V150.1M331.2 151.4V150.8M331.2 151.4V151.3M331.3 151.4V150.9M331.3 151.4V151.4M331.3 151.4V150.2M331.3 151.4V151.1M331.3 151.4V149.2M332.1 151.4V149.2M332.1 151.4V150.8M332.3 151.4V150.3M333.0 151.4V149.4M333.5 151.4V151.1M334.2 151.4V151.0M334.3 151.4V151.0M334.5 151.4V149.4M334.8 151.4V149.9M335.2 151.4V149.9M335.3 151.4V150.4M335.7 151.4V151.3M335.7 151.4V151.0M335.8 151.4V146.4M335.9 151.4V148.0M336.1 151.4V150.6M336.4 151.4V151.0M337.4 151.4V150.0M337.7 151.4V151.3M337.8 151.4V150.6M337.8 151.4V150.9M337.9 151.4V151.3M338.0 151.4V150.7M338.1 151.4V150.7M338.2 151.4V150.5M338.4 151.4V149.5M339.3 151.4V150.3M339.4 151.4V149.5M339.5 151.4V151.1M340.1 151.4V150.2M340.3 151.4V151.3M340.4 151.4V150.1M340.5 151.4V150.5M340.8 151.4V151.1M340.9 151.4V150.9M341.0 151.4V149.3M341.0 151.4V150.5M341.4 151.4V150.6M341.5 151.4V151.3M341.6 151.4V150.4M341.7 151.4V151.3M341.7 151.4V150.5M342.7 151.4V151.1M342.8 151.4V151.0M343.2 151.4V150.7M343.7 151.4V150.3M343.8 151.4V150.7M343.9 151.4V150.7M344.0 151.4V149.6M344.6 151.4V150.8M344.7 151.4V150.5M344.7 151.4V150.8M345.3 151.4V150.9" stroke="#0000ff" stroke-width="0.5" stroke-opacity="0.85"/><line x1="312.5" y1="150.70000000000002" x2="345.5" y2="150.70000000000002" stroke="#0000ff" stroke-width="1.5"/><path d="M345.7 151.4V151.4M346.3 151.4V149.8M346.6 151.4V151.2M346.7 151.4V148.5M346.8 151.4V151.1M346.9 151.4V150.8M347.0 151.4V151.0M347.1 151.4V151.1M347.1 151.4V150.4M347.3 151.4V150.4M347.4 151.4V151.4M347.8 151.4V151.3M347.9 151.4V146.4M348.0 151.4V150.6M348.2 151.4V149.9M348.7 151.4V151.1M349.3 151.4V151.0M349.6 151.4V151.4M349.7 151.4V150.0M350.0 151.4V151.1M350.8 151.4V149.5M350.9 151.4V150.9M350.9 151.4V150.4M351.2 151.4V149.2M351.3 151.4V151.2M351.3 151.4V150.5M351.4 151.4V147.4M351.7 151.4V150.1M351.7 151.4V148.6M352.3 151.4V150.5M352.7 151.4V150.9M352.9 151.4V151.4M353.5 151.4V151.1M353.8 151.4V150.6M353.8 151.4V151.2M354.1 151.4V151.0M354.4 151.4V150.7M354.7 151.4V150.9M355.0 151.4V151.2M355.1 151.4V151.2M356.0 151.4V150.8M356.1 151.4V151.2M356.1 151.4V151.3M356.2 151.4V148.7M356.3 151.4V150.8M356.8 151.4V150.7M356.8 151.4V151.2M356.9 151.4V146.7M357.4 151.4V150.3M357.4 151.4V151.2M357.4 151.4V151.2M357.5 151.4V150.0M358.2 151.4V151.4M358.4 151.4V149.4M358.4 151.4V149.2M358.5 151.4V150.3M358.5 151.4V148.7M359.2 151.4V151.1M359.4 151.4V151.4M359.6 151.4V150.5M359.7 151.4V150.5M359.9 151.4V150.9M360.5 151.4V150.2M360.5 151.4V150.2M360.7 151.4V151.2M360.7 151.4V151.0M361.3 151.4V151.4M361.3 151.4V150.1M361.3 151.4V150.9M362.0 151.4V150.9M362.9 151.4V151.1M363.2 151.4V149.9M363.3 151.4V151.3M363.7 151.4V149.0M363.7 151.4V150.0M363.8 151.4V151.0M363.8 151.4V151.1M363.9 151.4V151.1M363.9 151.4V151.3M363.9 151.4V146.4M364.0 151.4V150.1M364.2 151.4V147.4M364.3 151.4V151.2M364.8 151.4V150.3M365.0 151.4V150.7M365.1 151.4V151.1M365.3 151.4V149.8M365.4 151.4V149.8M365.7 151.4V150.7M365.7 151.4V151.4M366.7 151.4V148.0M367.1 151.4V151.3M367.2 151.4V150.2M367.3 151.4V150.7M367.4 151.4V150.7M367.6 151.4V151.2M368.0 151.4V150.8M368.3 151.4V151.1M369.3 151.4V150.8M369.7 151.4V150.2M369.8 151.4V150.9M370.1 151.4V149.7M370.1 151.4V150.9M370.8 151.4V148.3M370.9 151.4V150.9M371.2 151.4V150.3M371.3 151.4V151.4M371.6 151.4V149.0M371.8 151.4V151.4M373.2 151.4V148.7M373.4 151.4V151.3M373.4 151.4V149.6M373.5 151.4V151.2M373.9 151.4V151.3M374.1 151.4V150.3M374.3 151.4V149.5M374.3 151.4V150.3M374.5 151.4V150.6M374.7 151.4V151.2M375.0 151.4V151.4M375.0 151.4V149.4M375.9 151.4V149.9" stroke="#ff0000" stroke-width="0.5" stroke-opacity="0.85"/><line x1="345.5" y1="150.70000000000002" x2="376.0" y2="150.70000000000002" stroke="#ff0000" stroke-width="1.5"/><path d="M376.3 151.4V150.5M376.4 151.4V150.9M376.4 151.4V151.4M376.4 151.4V150.2M376.8 151.4V151.2M377.0 151.4V151.1M378.3 151.4V150.9M378.9 151.4V149.2M378.9 151.4V151.3M379.2 151.4V151.3M379.3 151.4V150.8M380.1 151.4V148.3M380.1 151.4V151.2M380.2 151.4V149.6M380.2 151.4V150.2M380.2 151.4V151.2M380.6 151.4V149.9M380.7 151.4V149.4M380.8 151.4V150.9M380.9 151.4V150.9M380.9 151.4V149.8M381.1 151.4V147.2M381.3 151.4V150.9M381.6 151.4V150.3M381.6 151.4V150.7M381.9 151.4V151.0M382.2 151.4V149.9M382.4 151.4V150.5M382.4 151.4V150.8M382.5 151.4V151.0M382.6 151.4V149.9M382.6 151.4V148.3M382.7 151.4V150.3M382.8 151.4V150.1M382.9 151.4V150.7M383.0 151.4V151.0M383.1 151.4V150.6M383.4 151.4V149.9M383.4 151.4V148.1M383.6 151.4V149.8M383.8 151.4V150.7M384.5 151.4V149.8M384.9 151.4V148.6M385.0 151.4V150.6M385.1 151.4V148.7M385.5 151.4V149.8M385.9 151.4V151.1M386.2 151.4V150.9M386.7 151.4V149.6M387.2 151.4V149.6M387.3 151.4V151.4M387.4 151.4V151.3M387.7 151.4V149.6M388.2 151.4V150.1M388.7 151.4V148.9M388.8 151.4V148.6M389.1 151.4V151.2M389.7 151.4V151.0M389.8 151.4V151.0M389.9 151.4V151.0M389.9 151.4V151.1M390.0 151.4V151.4M390.7 151.4V148.8M390.8 151.4V150.0M390.8 151.4V149.5M390.9 151.4V151.3M391.2 151.4V150.4M391.3 151.4V151.1M391.4 151.4V149.9M391.6 151.4V149.1M391.8 151.4V151.3M392.8 151.4V151.1M392.8 151.4V148.9M393.2 151.4V150.5M393.6 151.4V150.6M393.7 151.4V149.4M394.1 151.4V150.9M394.4 151.4V150.5M394.9 151.4V150.6M395.0 151.4V150.5M395.1 151.4V150.9M395.3 151.4V151.2M395.4 151.4V149.8M396.0 151.4V150.4M396.1 151.4V151.2M397.0 151.4V147.9M397.0 151.4V150.7M397.4 151.4V149.3M397.4 151.4V151.2M397.5 151.4V151.1M397.5 151.4V150.5M397.6 151.4V151.1M397.6 151.4V150.8M397.9 151.4V150.7M398.1 151.4V151.2M398.1 151.4V150.9M398.4 151.4V150.6M398.5 151.4V147.7M398.8 151.4V151.2M399.2 151.4V148.4M399.4 151.4V151.0M399.5 151.4V150.8M399.7 151.4V150.6M401.4 151.4V149.3M401.4 151.4V149.1M401.5 151.4V150.5M401.9 151.4V149.6M402.0 151.4V151.0M402.4 151.4V151.1M403.1 151.4V151.1M403.7 151.4V150.8M404.0 151.4V148.3M404.3 151.4V148.8M404.3 151.4V151.2M404.4 151.4V149.3M405.1 151.4V151.3M405.2 151.4V150.6" stroke="#0000ff" stroke-width="0.5" stroke-opacity="0.85"/><line x1="376.0" y1="150.70000000000002" x2="405.3" y2="150.70000000000002" stroke="#0000ff" stroke-width="1.5"/><path d="M405.8 151.4V150.8M405.9 151.4V150.6M406.0 151.4V150.9M406.1 151.4V151.4M406.6 151.4V151.0M406.6 151.4V151.1M407.0 151.4V150.6M407.6 151.4V151.2M407.8 151.4V150.0M407.9 151.4V149.3M408.5 151.4V151.1M408.5 151.4V150.2M408.6 151.4V150.0M408.7 151.4V150.5M408.8 151.4V150.5M409.1 151.4V150.4M409.3 151.4V151.2M409.4 151.4V151.4M409.4 151.4V150.3M409.5 151.4V149.9M409.8 151.4V150.4M409.9 151.4V150.0M410.5 151.4V150.4M410.7 151.4V150.4M410.9 151.4V151.1M411.1 151.4V151.3M411.4 151.4V151.3M411.6 151.4V150.8M411.6 151.4V151.1M411.7 151.4V150.4M411.8 151.4V150.8M412.2 151.4V151.0M412.3 151.4V147.5M412.4 151.4V150.9M412.6 151.4V150.0M413.7 151.4V150.1M413.8 151.4V148.1M414.5 151.4V150.8M414.8 151.4V151.3M414.9 151.4V151.4M415.2 151.4V146.4M415.7 151.4V149.7M416.6 151.4V147.3M417.1 151.4V150.7M417.2 151.4V146.4M417.4 151.4V149.6M417.4 151.4V151.2M417.4 151.4V150.6M417.5 151.4V151.3M417.7 151.4V151.0M417.8 151.4V150.2M417.8 151.4V149.3M418.3 151.4V150.4M418.8 151.4V150.7M419.1 151.4V150.8M419.1 151.4V151.3M419.2 151.4V150.7M419.7 151.4V150.5M419.8 151.4V148.9M420.1 151.4V151.2M420.5 151.4V151.4M420.6 151.4V150.9M420.8 151.4V151.3M421.0 151.4V151.3M421.0 151.4V149.5M421.2 151.4V150.7M421.5 151.4V148.6M421.6 151.4V148.7M421.6 151.4V150.4M421.9 151.4V147.2M422.3 151.4V150.1M423.2 151.4V148.6M423.3 151.4V149.6M423.5 151.4V150.3M423.8 151.4V151.2M424.3 151.4V149.6M424.9 151.4V149.3M425.0 151.4V149.9M425.2 151.4V150.5M425.2 151.4V150.9M425.7 151.4V151.2M425.9 151.4V148.6M426.3 151.4V150.5M427.2 151.4V146.4M427.4 151.4V149.3M428.3 151.4V151.3M428.4 151.4V151.1M429.0 151.4V151.3M429.2 151.4V151.1M429.2 151.4V150.5M429.4 151.4V150.2M429.5 151.4V151.0M429.5 151.4V150.4M429.7 151.4V150.1M430.2 151.4V150.6M430.5 151.4V149.4M430.8 151.4V146.9M430.8 151.4V150.0M431.4 151.4V151.1M431.4 151.4V150.9M431.5 151.4V151.0M431.6 151.4V151.1M431.7 151.4V149.5M431.7 151.4V149.9M431.7 151.4V150.0M431.8 151.4V151.3M431.9 151.4V150.2M431.9 151.4V150.8M432.2 151.4V150.9M432.8 151.4V151.4M433.3 151.4V151.3M433.3 151.4V151.3" stroke="#ff0000" stroke-width="0.5" stroke-opacity="0.85"/><line x1="405.3" y1="150.70000000000002" x2="433.5" y2="150.70000000000002" stroke="#ff0000" stroke-width="1.5"/><path d="M433.8 151.4V150.4M433.9 151.4V150.5M434.0 151.4V148.9M434.3 151.4V151.2M434.4 151.4V150.9M434.8 151.4V151.4M434.9 151.4V150.1M435.2 151.4V147.7M435.6 151.4V151.1M435.6 151.4V149.1M436.1 151.4V150.8M436.1 151.4V150.4M436.3 151.4V149.8M436.8 151.4V151.1M437.1 151.4V150.8M437.1 151.4V151.2M437.3 151.4V150.1M437.6 151.4V149.4M437.7 151.4V149.6M437.8 151.4V150.7M437.9 151.4V150.6M438.9 151.4V148.7M440.1 151.4V150.6M440.7 151.4V150.7M440.7 151.4V151.2M440.7 151.4V151.0M441.2 151.4V151.4M441.3 151.4V150.2M441.3 151.4V149.5M441.3 151.4V148.4M441.6 151.4V150.4M441.6 151.4V151.4M442.5 151.4V150.6M443.2 151.4V150.8M443.3 151.4V150.4M443.5 151.4V151.4M443.6 151.4V151.1M443.7 151.4V150.3M443.9 151.4V149.3M444.0 151.4V150.9M444.6 151.4V151.4M444.6 151.4V149.6M444.7 151.4V149.8M444.8 151.4V150.8M445.0 151.4V150.3M445.3 151.4V148.5M445.3 151.4V150.9M445.7 151.4V150.7M446.5 151.4V151.3M446.6 151.4V151.3M446.7 151.4V151.0M446.9 151.4V151.3M447.0 151.4V150.0M447.3 151.4V151.1M447.3 151.4V149.6M447.8 151.4V150.8M447.8 151.4V151.3M448.3 151.4V151.2M448.4 151.4V149.9M449.0 151.4V150.7M449.5 151.4V151.3M449.6 151.4V151.4M449.8 151.4V151.4M450.0 151.4V150.9M450.6 151.4V149.4M450.8 151.4V148.5M450.8 151.4V151.2M451.5 151.4V149.2M451.5 151.4V150.8M452.2 151.4V151.3M452.7 151.4V151.0M452.9 151.4V150.2M453.2 151.4V150.5M453.3 151.4V151.2M453.3 151.4V148.9M453.6 151.4V151.0M453.6 151.4V148.1M454.1 151.4V151.0M454.1 151.4V146.4M454.5 151.4V151.3M454.7 151.4V151.4M454.7 151.4V150.4M455.1 151.4V150.4M455.1 151.4V150.1M455.2 151.4V150.7M455.4 151.4V147.4M455.4 151.4V150.2M455.5 151.4V148.3M455.6 151.4V150.5M455.6 151.4V149.8M455.9 151.4V151.2M455.9 151.4V150.5M455.9 151.4V151.3M456.2 151.4V151.2M456.6 151.4V150.2M456.7 151.4V149.6M457.2 151.4V151.1M457.4 151.4V151.0M457.5 151.4V150.6M457.9 151.4V150.0M458.5 151.4V150.9M458.8 151.4V151.4M459.3 151.4V150.2M459.6 151.4V150.3M459.8 151.4V151.1" stroke="#0000ff" stroke-width="0.5" stroke-opacity="0.85"/><line x1="433.5" y1="150.70000000000002" x2="459.9" y2="150.70000000000002" stroke="#0000ff" stroke-width="1.5"/><path d="M460.9 151.4V150.3M461.0 151.4V151.3M461.0 151.4V150.9M461.4 151.4V150.8M461.6 151.4V148.7M461.8 151.4V150.5M462.2 151.4V151.4M462.7 151.4V150.2M463.1 151.4V151.2M463.4 151.4V150.4M463.7 151.4V150.5M463.7 151.4V150.8M464.1 151.4V151.0M464.2 151.4V150.0M464.4 151.4V151.3M464.6 151.4V151.3M465.2 151.4V150.0M465.4 151.4V149.6M465.5 151.4V150.8M465.6 151.4V149.9M465.7 151.4V149.4M465.9 151.4V151.3M465.9 151.4V148.3M466.0 151.4V150.9M466.3 151.4V151.0M466.4 151.4V150.8M466.5 151.4V149.4M466.7 151.4V151.1M466.8 151.4V150.9M466.9 151.4V151.3M467.1 151.4V150.3M467.4 151.4V151.1M467.6 151.4V151.1M467.6 151.4V150.9M467.8 151.4V151.0M467.9 151.4V151.2M468.4 151.4V150.9M468.4 151.4V151.4M468.6 151.4V150.5M468.7 151.4V151.2M469.1 151.4V151.2M470.2 151.4V150.3M470.3 151.4V146.4M470.7 151.4V151.2M470.9 151.4V148.1M471.0 151.4V150.2M471.8 151.4V151.2M473.1 151.4V151.2M473.1 151.4V149.4M473.5 151.4V148.1M473.8 151.4V149.9M474.0 151.4V150.3M474.1 151.4V150.2M474.5 151.4V148.5M474.9 151.4V149.7M475.4 151.4V149.8M475.5 151.4V148.0M475.5 151.4V148.6M475.6 151.4V149.2M475.9 151.4V151.4M476.2 151.4V151.1M476.3 151.4V149.2M476.3 151.4V150.4M477.0 151.4V151.3M477.0 151.4V150.4M477.2 151.4V149.8M477.3 151.4V151.2M477.3 151.4V151.3M477.5 151.4V149.6M477.9 151.4V148.8M478.0 151.4V150.4M478.1 151.4V150.5M478.2 151.4V151.1M478.4 151.4V149.7M478.5 151.4V150.9M478.7 151.4V150.7M478.9 151.4V150.9M479.3 151.4V150.5M479.5 151.4V150.8M479.9 151.4V149.3M479.9 151.4V149.4M480.0 151.4V148.7M480.4 151.4V151.1M480.5 151.4V151.1M480.5 151.4V149.4M480.8 151.4V148.9M481.1 151.4V150.4M481.4 151.4V148.3M481.7 151.4V151.0M481.9 151.4V150.9M482.1 151.4V150.8M482.3 151.4V151.2M482.8 151.4V151.3" stroke="#ff0000" stroke-width="0.5" stroke-opacity="0.85"/><line x1="459.9" y1="150.70000000000002" x2="483.2" y2="150.70000000000002" stroke="#ff0000" stroke-width="1.5"/><path d="M483.3 151.4V151.1M483.3 151.4V151.2M483.4 151.4V151.2M483.5 151.4V149.6M483.6 151.4V149.4M484.0 151.4V149.3M484.6 151.4V148.3M484.8 151.4V150.2M484.9 151.4V150.1M485.0 151.4V151.3M485.5 151.4V151.3M485.6 151.4V146.4M485.6 151.4V151.0M485.7 151.4V148.6M485.9 151.4V148.8M486.3 151.4V150.2M486.5 151.4V151.3M486.7 151.4V150.0M486.9 151.4V149.7M487.2 151.4V151.1M487.8 151.4V150.5M487.9 151.4V150.8M488.3 151.4V149.9M488.6 151.4V147.5M488.9 151.4V150.1M489.4 151.4V151.1M489.9 151.4V151.1M490.3 151.4V150.9M490.4 151.4V148.5M490.4 151.4V151.3M491.1 151.4V148.4M491.3 151.4V148.1M491.5 151.4V150.2M491.7 151.4V149.9M491.8 151.4V150.9M491.9 151.4V149.3M493.3 151.4V151.3M493.7 151.4V149.1M493.7 151.4V151.1M494.4 151.4V150.5M495.1 151.4V146.4M495.4 151.4V151.2M495.5 151.4V151.1M495.8 151.4V149.1M496.3 151.4V148.7M496.3 151.4V151.2M496.5 151.4V150.7M496.6 151.4V150.0M496.7 151.4V151.3M496.9 151.4V150.2M497.1 151.4V150.9M497.1 151.4V151.2M497.1 151.4V150.4M497.4 151.4V150.9M497.8 151.4V149.1M497.8 151.4V150.5M498.2 151.4V151.0M498.6 151.4V150.8M498.9 151.4V150.2M498.9 151.4V149.2M499.3 151.4V149.2M499.7 151.4V150.8M499.8 151.4V151.2M499.8 151.4V150.9M500.0 151.4V151.1M500.0 151.4V149.8M500.1 151.4V151.2M500.6 151.4V150.2M500.7 151.4V151.1M501.3 151.4V150.8M501.7 151.4V151.0M501.8 151.4V151.3M501.9 151.4V149.9M502.2 151.4V150.9M502.3 151.4V149.6M502.5 151.4V150.7M502.8 151.4V151.3M503.0 151.4V150.3M503.1 151.4V151.1M503.1 151.4V150.4M503.7 151.4V149.7M504.0 151.4V150.7M504.0 151.4V151.1M504.1 151.4V151.2" stroke="#0000ff" stroke-width="0.5" stroke-opacity="0.85"/><line x1="483.2" y1="150.70000000000002" x2="504.2" y2="150.70000000000002" stroke="#0000ff" stroke-width="1.5"/><path d="M504.3 151.4V148.1M504.7 151.4V151.3M504.8 151.4V150.9M505.1 151.4V150.0M505.1 151.4V149.1M505.4 151.4V150.3M505.5 151.4V151.3M505.5 151.4V151.4M506.5 151.4V150.7M506.7 151.4V151.2M506.7 151.4V150.7M507.1 151.4V150.9M507.2 151.4V147.4M507.6 151.4V150.1M508.1 151.4V146.7M508.2 151.4V151.2M508.5 151.4V151.3M508.6 151.4V151.3M508.6 151.4V150.1M508.7 151.4V150.8M508.8 151.4V148.7M509.2 151.4V151.1M509.4 151.4V149.3M509.9 151.4V150.7M510.0 151.4V148.6M510.3 151.4V150.2M510.5 151.4V146.4M510.7 151.4V151.2M511.0 151.4V151.2M511.8 151.4V151.2M512.2 151.4V150.4M512.4 151.4V149.7M512.5 151.4V150.4M512.5 151.4V148.8M512.6 151.4V151.2M513.5 151.4V149.8M514.6 151.4V150.8M514.6 151.4V151.3M514.7 151.4V148.9M515.4 151.4V151.1M516.2 151.4V151.1M516.3 151.4V151.0M516.5 151.4V151.2M516.6 151.4V150.7M516.6 151.4V151.0M517.1 151.4V151.0M517.5 151.4V151.1M517.6 151.4V149.4M517.6 151.4V151.2M517.9 151.4V150.2M518.6 151.4V151.1M518.9 151.4V150.5M519.1 151.4V150.6M519.3 151.4V149.1M519.6 151.4V149.2M519.7 151.4V150.7M519.8 151.4V150.6M520.0 151.4V151.1M520.0 151.4V150.5M520.1 151.4V150.8M520.2 151.4V151.3M520.5 151.4V150.6M520.6 151.4V147.9M520.8 151.4V150.4M520.8 151.4V150.8M520.8 151.4V149.7M521.0 151.4V149.8M521.1 151.4V149.8M521.1 151.4V150.0M521.7 151.4V150.8M521.9 151.4V149.9M522.1 151.4V148.1M522.4 151.4V149.2M522.4 151.4V150.4M522.6 151.4V151.1M522.9 151.4V150.1M523.5 151.4V150.9M523.7 151.4V150.8M523.7 151.4V150.2M524.4 151.4V150.9M524.9 151.4V149.2M525.1 151.4V150.4M525.2 151.4V151.0M525.3 151.4V151.0" stroke="#ff0000" stroke-width="0.5" stroke-opacity="0.85"/><line x1="504.2" y1="150.70000000000002" x2="525.4" y2="150.70000000000002" stroke="#ff0000" stroke-width="1.5"/><path d="M526.3 151.4V150.2M526.7 151.4V149.1M527.1 151.4V151.0M527.1 151.4V150.6M527.3 151.4V149.1M527.4 151.4V150.5M527.6 151.4V148.2M527.9 151.4V150.9M528.1 151.4V151.3M528.2 151.4V150.7M528.3 151.4V149.3M528.5 151.4V149.1M528.6 151.4V148.8M528.6 151.4V150.4M529.2 151.4V151.0M529.3 151.4V151.3M529.4 151.4V147.4M529.8 151.4V150.7M529.9 151.4V151.2M529.9 151.4V150.9M530.5 151.4V150.8M530.6 151.4V151.3M530.6 151.4V146.4M530.9 151.4V151.1M530.9 151.4V147.6M531.0 151.4V150.6M531.4 151.4V151.4M531.9 151.4V151.2M532.5 151.4V148.3M532.9 151.4V150.6M533.0 151.4V150.7M533.1 151.4V150.1M533.2 151.4V150.8M533.2 151.4V150.0M533.6 151.4V150.6M533.9 151.4V150.8M534.0 151.4V149.5M534.5 151.4V149.7M534.8 151.4V150.0M534.9 151.4V149.9M535.1 151.4V149.9M535.4 151.4V150.9M535.4 151.4V151.1M535.5 151.4V149.9M535.7 151.4V151.1M535.8 151.4V151.1M536.0 151.4V149.5M536.1 151.4V150.3M536.2 151.4V150.1M536.4 151.4V151.1M536.6 151.4V150.0M537.0 151.4V148.6M537.0 151.4V151.2M537.5 151.4V150.1M537.5 151.4V150.8M537.7 151.4V151.3M537.7 151.4V149.4M537.9 151.4V150.6M538.8 151.4V149.5M539.4 151.4V151.3M539.6 151.4V150.4M539.6 151.4V149.5M539.9 151.4V149.8M540.0 151.4V151.0M540.3 151.4V146.9M541.1 151.4V150.4M541.9 151.4V150.8M542.1 151.4V151.4M542.5 151.4V149.5M543.0 151.4V151.0M543.0 151.4V147.0M543.4 151.4V149.5M543.5 151.4V151.3M543.6 151.4V150.4M543.8 151.4V151.0M543.8 151.4V151.2M544.3 151.4V147.7M544.7 151.4V150.1M544.8 151.4V151.3M544.8 151.4V150.4M545.0 151.4V150.7M545.2 151.4V151.1M545.8 151.4V151.0M546.0 151.4V151.3M546.1 151.4V150.9M546.2 151.4V150.4M547.0 151.4V150.4" stroke="#0000ff" stroke-width="0.5" stroke-opacity="0.85"/><line x1="525.4" y1="150.70000000000002" x2="547.2" y2="150.70000000000002" stroke="#0000ff" stroke-width="1.5"/><path d="M547.3 151.4V151.1M547.4 151.4V149.8M547.8 151.4V150.8M548.1 151.4V151.3M548.4 151.4V149.7M548.5 151.4V151.1M548.7 151.4V151.4M548.7 151.4V150.0M548.8 151.4V150.7M548.9 151.4V150.9M549.9 151.4V150.7M550.0 151.4V150.6M550.1 151.4V151.1M550.2 151.4V151.1M550.3 151.4V150.4M550.3 151.4V151.0M550.8 151.4V151.4M551.3 151.4V148.3M551.4 151.4V149.7M552.0 151.4V149.7M552.1 151.4V150.8M552.2 151.4V150.3M552.4 151.4V151.2M552.6 151.4V151.1M552.6 151.4V151.3M552.6 151.4V146.8M553.5 151.4V151.3M553.7 151.4V150.1M553.8 151.4V150.8M553.8 151.4V150.7M553.9 151.4V149.9M554.1 151.4V151.2M554.4 151.4V150.0M554.5 151.4V150.9M555.0 151.4V151.0M555.5 151.4V149.6M555.6 151.4V151.3M555.6 151.4V150.0M555.9 151.4V151.3M556.0 151.4V149.8M556.2 151.4V150.9M557.2 151.4V150.1M557.4 151.4V149.8M557.5 151.4V150.4M557.7 151.4V150.6M557.9 151.4V150.0M557.9 151.4V150.3M558.1 151.4V149.9M558.2 151.4V150.4M558.5 151.4V150.2M558.6 151.4V151.1M559.0 151.4V150.4M559.7 151.4V151.0M560.2 151.4V151.3M560.3 151.4V149.9M560.4 151.4V150.7M560.5 151.4V150.4M560.7 151.4V150.9M560.8 151.4V150.8M560.9 151.4V151.3M560.9 151.4V150.0M560.9 151.4V151.3M561.0 151.4V150.1M561.2 151.4V151.3M561.6 151.4V150.7M563.0 151.4V149.3M563.5 151.4V148.9M563.5 151.4V150.4M563.8 151.4V151.3M563.8 151.4V151.1M563.9 151.4V151.3M564.1 151.4V146.7M564.4 151.4V148.3M564.5 151.4V149.8M565.0 151.4V150.3M565.2 151.4V149.9M565.9 151.4V150.7M566.1 151.4V148.5M566.4 151.4V149.8M566.6 151.4V151.2" stroke="#ff0000" stroke-width="0.5" stroke-opacity="0.85"/><line x1="547.2" y1="150.70000000000002" x2="567.3" y2="150.70000000000002" stroke="#ff0000" stroke-width="1.5"/><path d="M567.4 151.4V150.5M567.4 151.4V151.0M567.8 151.4V150.9M568.2 151.4V150.9M568.3 151.4V148.9M568.7 151.4V150.2M569.2 151.4V150.9M569.2 151.4V150.8M569.5 151.4V150.3M569.6 151.4V149.1M570.1 151.4V151.3M570.2 151.4V150.9M570.9 151.4V149.4M570.9 151.4V151.1M571.1 151.4V151.3M571.2 151.4V150.6M571.2 151.4V149.4M571.6 151.4V149.7M571.7 151.4V149.8M571.7 151.4V150.4M572.0 151.4V150.3M572.1 151.4V150.6M572.5 151.4V149.8M572.5 151.4V150.4M572.9 151.4V147.8M573.3 151.4V151.2M573.4 151.4V151.3M573.4 151.4V150.6M573.4 151.4V151.2M574.0 151.4V149.0M574.1 151.4V150.0M574.1 151.4V151.2M574.2 151.4V150.5M574.7 151.4V149.9M575.4 151.4V151.4M575.5 151.4V149.9M575.7 151.4V150.1M575.9 151.4V151.1M575.9 151.4V151.3M576.1 151.4V150.4M576.1 151.4V150.0M576.6 151.4V149.2M576.8 151.4V151.0M576.8 151.4V149.9M577.0 151.4V150.9M577.2 151.4V150.9M577.5 151.4V149.2M577.6 151.4V150.9M577.7 151.4V151.0M577.7 151.4V149.5M577.9 151.4V150.4M578.1 151.4V151.2M578.3 151.4V150.4M579.2 151.4V151.1M579.4 151.4V149.4M579.7 151.4V150.9M580.2 151.4V151.4M580.6 151.4V148.3M580.6 151.4V148.6M581.5 151.4V151.1M582.3 151.4V151.0M582.3 151.4V150.0M582.4 151.4V148.2M582.5 151.4V151.2M582.9 151.4V151.2M583.9 151.4V150.1M584.0 151.4V151.3M584.2 151.4V146.4" stroke="#0000ff" stroke-width="0.5" stroke-opacity="0.85"/><line x1="567.3" y1="150.70000000000002" x2="584.3" y2="150.70000000000002" stroke="#0000ff" stroke-width="1.5"/><path d="M585.0 151.4V150.2M585.1 151.4V150.9M585.3 151.4V151.3M585.6 151.4V151.2M585.8 151.4V150.7M585.9 151.4V151.2M586.0 151.4V150.6M586.4 151.4V149.7M586.5 151.4V150.9M586.8 151.4V151.1M586.9 151.4V149.9M587.0 151.4V150.4M587.1 151.4V150.5M587.9 151.4V151.2M588.2 151.4V149.6M588.7 151.4V150.9M588.8 151.4V150.0M589.1 151.4V149.9M589.2 151.4V150.4M589.4 151.4V150.6M589.7 151.4V150.9M590.1 151.4V151.0M590.3 151.4V150.4M590.6 151.4V149.9M591.0 151.4V150.8M591.1 151.4V151.1M591.6 151.4V151.3M591.8 151.4V151.1M591.9 151.4V149.7M591.9 151.4V151.0M592.0 151.4V151.3M592.0 151.4V149.6M592.5 151.4V149.8M592.6 151.4V149.3M592.6 151.4V148.9M592.6 151.4V149.9M592.8 151.4V150.9M593.2 151.4V150.3M593.4 151.4V148.8M593.4 151.4V149.7M593.6 151.4V149.4M594.0 151.4V150.6M594.3 151.4V150.9M594.3 151.4V151.2M594.7 151.4V150.9M594.9 151.4V150.7M596.3 151.4V150.0M596.3 151.4V147.8M596.4 151.4V150.4M596.6 151.4V151.1M596.9 151.4V150.8M597.0 151.4V150.6M597.5 151.4V151.1M597.7 151.4V148.0M597.8 151.4V151.2M597.9 151.4V149.6M597.9 151.4V151.2M598.4 151.4V150.0" stroke="#ff0000" stroke-width="0.5" stroke-opacity="0.85"/><line x1="584.3" y1="150.70000000000002" x2="598.8" y2="150.70000000000002" stroke="#ff0000" stroke-width="1.5"/><path d="M599.0 151.4V151.2M599.0 151.4V150.9M599.4 151.4V151.3M599.5 151.4V149.9M599.6 151.4V151.0M599.7 151.4V150.8M599.7 151.4V146.4M599.7 151.4V151.3M600.3 151.4V151.3M600.3 151.4V149.3M600.5 151.4V151.3M600.6 151.4V149.1M601.3 151.4V150.6M601.3 151.4V151.4M601.4 151.4V151.0M601.7 151.4V151.0M601.9 151.4V147.7M601.9 151.4V147.1M602.3 151.4V146.4M602.3 151.4V149.5M603.2 151.4V150.2M603.2 151.4V151.3M603.4 151.4V148.3M603.8 151.4V149.4M604.1 151.4V149.9M604.2 151.4V150.1M604.3 151.4V151.3M605.4 151.4V150.4M606.2 151.4V150.9M606.2 151.4V151.1M606.6 151.4V150.4M607.0 151.4V150.4M607.1 151.4V150.7M607.5 151.4V151.1M607.8 151.4V148.3M607.9 151.4V150.2M607.9 151.4V150.9M608.0 151.4V151.2M608.0 151.4V150.9M608.2 151.4V150.1M608.8 151.4V149.8M609.0 151.4V149.7M609.3 151.4V151.3M609.4 151.4V149.3M609.4 151.4V150.8M609.7 151.4V151.1M609.8 151.4V148.0M610.5 151.4V147.8M610.6 151.4V150.9M611.0 151.4V151.0M611.6 151.4V151.2M611.8 151.4V150.7M611.8 151.4V151.1M611.9 151.4V151.2" stroke="#0000ff" stroke-width="0.5" stroke-opacity="0.85"/><line x1="598.8" y1="150.70000000000002" x2="612.3" y2="150.70000000000002" stroke="#0000ff" stroke-width="1.5"/><path d="M612.9 151.4V147.8M613.5 151.4V151.3M613.5 151.4V151.3M613.9 151.4V150.9M613.9 151.4V151.0M614.0 151.4V151.1M614.4 151.4V150.3M615.0 151.4V151.1M615.5 151.4V147.9M615.7 151.4V150.6M616.6 151.4V150.8M616.6 151.4V151.2M617.1 151.4V151.4M617.8 151.4V150.5M617.9 151.4V149.5M618.1 151.4V150.8M618.1 151.4V149.5M618.3 151.4V150.8M618.4 151.4V151.0M618.7 151.4V151.3M619.0 151.4V151.1M619.2 151.4V149.3M619.3 151.4V151.1M619.3 151.4V150.5M619.5 151.4V151.3M619.5 151.4V151.3M619.7 151.4V151.2M619.9 151.4V150.3M619.9 151.4V149.8M620.3 151.4V147.9M620.4 151.4V150.8M620.5 151.4V151.1M620.7 151.4V149.8M620.8 151.4V151.0M620.8 151.4V149.6M621.0 151.4V151.1M621.1 151.4V150.9M621.4 151.4V150.4M621.5 151.4V150.4M621.7 151.4V149.8M621.8 151.4V150.7M622.2 151.4V151.4M622.3 151.4V151.3M622.5 151.4V149.7M622.7 151.4V151.4M622.8 151.4V150.6M623.0 151.4V150.5M623.8 151.4V149.9M624.2 151.4V149.9M624.9 151.4V150.4M625.1 151.4V148.9M625.2 151.4V151.3M625.4 151.4V151.3" stroke="#ff0000" stroke-width="0.5" stroke-opacity="0.85"/><line x1="612.3" y1="150.70000000000002" x2="625.6" y2="150.70000000000002" stroke="#ff0000" stroke-width="1.5"/><path d="M625.9 151.4V151.1M626.0 151.4V150.6M626.6 151.4V149.6M626.8 151.4V151.0M626.9 151.4V150.7M627.1 151.4V148.2M627.4 151.4V146.4M627.5 151.4V151.4M627.7 151.4V150.2M628.1 151.4V147.2M628.1 151.4V150.5M628.1 151.4V148.9M628.2 151.4V148.1M628.2 151.4V151.1M628.3 151.4V150.9M628.4 151.4V149.1M628.6 151.4V151.0M628.8 151.4V149.8M628.8 151.4V148.7M628.9 151.4V149.7M629.0 151.4V150.1M629.3 151.4V151.0M629.5 151.4V151.3M629.5 151.4V151.3M629.6 151.4V148.9M630.1 151.4V150.5M630.4 151.4V150.0M630.9 151.4V150.8M631.0 151.4V150.4M631.2 151.4V148.7M631.5 151.4V150.6M632.5 151.4V147.3M633.1 151.4V151.4M633.3 151.4V148.3M634.0 151.4V150.3M634.3 151.4V151.4M634.3 151.4V150.6M634.6 151.4V151.1M634.7 151.4V149.2M634.9 151.4V151.1M635.0 151.4V150.1M635.3 151.4V150.6M635.3 151.4V151.3M635.4 151.4V151.2M635.5 151.4V150.9M636.1 151.4V149.7M636.2 151.4V151.1M636.3 151.4V151.3M637.0 151.4V151.0M637.5 151.4V150.3M637.7 151.4V150.9M638.0 151.4V148.6" stroke="#0000ff" stroke-width="0.5" stroke-opacity="0.85"/><line x1="625.6" y1="150.70000000000002" x2="638.6" y2="150.70000000000002" stroke="#0000ff" stroke-width="1.5"/><path d="M638.9 151.4V149.2M639.1 151.4V149.4M639.3 151.4V151.2M639.7 151.4V151.4M639.8 151.4V151.2M640.2 151.4V147.8M640.3 151.4V151.1M640.4 151.4V149.6M640.5 151.4V150.4M640.6 151.4V151.0M640.9 151.4V151.3M641.0 151.4V150.8M641.4 151.4V150.2M641.5 151.4V150.5M642.3 151.4V151.2M642.5 151.4V150.5M642.6 151.4V151.0M643.0 151.4V148.1M643.7 151.4V151.3M643.7 151.4V149.6M643.9 151.4V151.2M643.9 151.4V150.4M644.1 151.4V151.1M644.3 151.4V150.8M644.9 151.4V150.5M646.1 151.4V151.2M646.3 151.4V151.3M646.6 151.4V146.4M646.6 151.4V150.8M646.7 151.4V151.2M646.8 151.4V150.0M646.9 151.4V149.9M647.3 151.4V150.9M647.3 151.4V149.1M647.5 151.4V150.2M647.6 151.4V151.1M647.7 151.4V149.4M647.8 151.4V151.1M647.9 151.4V151.1M648.0 151.4V149.7M648.0 151.4V151.0M648.0 151.4V151.0M649.2 151.4V150.3M649.3 151.4V147.3M649.4 151.4V151.4M649.6 151.4V148.6M649.7 151.4V151.1" stroke="#ff0000" stroke-width="0.5" stroke-opacity="0.85"/><line x1="638.6" y1="150.70000000000002" x2="650.5" y2="150.70000000000002" stroke="#ff0000" stroke-width="1.5"/><path d="M650.7 151.4V147.0M650.9 151.4V151.4M651.5 151.4V151.3M651.9 151.4V150.9M652.0 151.4V150.8M652.1 151.4V149.9M652.4 151.4V151.0M653.1 151.4V151.4M653.1 151.4V150.5M653.3 151.4V150.1M653.3 151.4V150.8M653.7 151.4V150.9M653.8 151.4V149.6M653.8 151.4V150.4M654.5 151.4V150.9M654.6 151.4V151.3M655.4 151.4V150.4M655.5 151.4V147.9M655.6 151.4V150.6M655.9 151.4V150.9M655.9 151.4V150.3M656.0 151.4V150.9M656.4 151.4V151.1M656.5 151.4V151.1M656.9 151.4V151.1M656.9 151.4V150.5M657.1 151.4V150.6M657.5 151.4V147.7M657.9 151.4V151.2M658.5 151.4V151.2M658.8 151.4V151.2M658.9 151.4V149.6M658.9 151.4V151.0M659.2 151.4V151.0M659.9 151.4V150.9M659.9 151.4V150.9M660.2 151.4V150.6M660.2 151.4V151.2M660.3 151.4V150.2M660.6 151.4V151.3M660.8 151.4V149.0" stroke="#0000ff" stroke-width="0.5" stroke-opacity="0.85"/><line x1="650.5" y1="150.70000000000002" x2="660.8" y2="150.70000000000002" stroke="#0000ff" stroke-width="1.5"/><path d="M661.0 151.4V150.6M661.2 151.4V150.3M661.4 151.4V150.1M661.7 151.4V149.1M661.9 151.4V151.0M662.0 151.4V150.5M662.1 151.4V151.0M662.4 151.4V150.5M662.8 151.4V151.2M662.9 151.4V150.9M663.0 151.4V151.4M663.1 151.4V150.8M664.2 151.4V150.2M664.4 151.4V150.7M664.4 151.4V149.2M664.4 151.4V151.2M664.6 151.4V150.6M664.7 151.4V151.2M664.8 151.4V150.9M665.0 151.4V151.2M665.8 151.4V149.6M666.2 151.4V151.3M666.6 151.4V148.1M667.1 151.4V150.8M668.0 151.4V151.0M668.3 151.4V150.7M668.5 151.4V150.4M668.6 151.4V151.3M668.8 151.4V148.0M668.9 151.4V150.2M669.0 151.4V151.3M669.1 151.4V151.3M669.4 151.4V150.3M669.5 151.4V151.3M669.7 151.4V151.0M669.7 151.4V147.7" stroke="#ff0000" stroke-width="0.5" stroke-opacity="0.85"/><line x1="660.8" y1="150.70000000000002" x2="669.8" y2="150.70000000000002" stroke="#ff0000" stroke-width="1.5"/><path d="M670.0 151.4V150.4M670.8 151.4V151.4M670.9 151.4V151.2M670.9 151.4V150.8M671.0 151.4V149.7M671.2 151.4V149.4M671.5 151.4V151.2M671.5 151.4V150.9M672.2 151.4V151.4M672.9 151.4V151.2M673.4 151.4V149.0M673.5 151.4V149.7M673.5 151.4V149.2M673.6 151.4V150.3M673.7 151.4V150.5M674.2 151.4V151.3M674.2 151.4V148.2M674.5 151.4V150.7M674.5 151.4V151.2M674.7 151.4V149.3M674.9 151.4V149.9M675.2 151.4V151.3M675.7 151.4V149.2M676.2 151.4V148.8M676.2 151.4V150.9M676.4 151.4V151.2M676.9 151.4V149.8M677.0 151.4V151.0" stroke="#0000ff" stroke-width="0.5" stroke-opacity="0.85"/><line x1="669.8" y1="150.70000000000002" x2="677.0" y2="150.70000000000002" stroke="#0000ff" stroke-width="1.5"/><path d="M677.2 151.4V149.0M678.0 151.4V148.9M678.2 151.4V151.2M678.2 151.4V151.1M678.3 151.4V150.9M678.5 151.4V150.1M678.7 151.4V151.1M679.4 151.4V150.6M680.0 151.4V150.5M680.2 151.4V150.3M680.6 151.4V151.3M680.6 151.4V149.6M680.8 151.4V147.0M680.9 151.4V150.9M681.1 151.4V149.8M681.4 151.4V150.9M681.7 151.4V148.3M681.9 151.4V151.1M682.1 151.4V150.8M682.2 151.4V149.8M682.5 151.4V150.4M683.1 151.4V149.6M683.1 151.4V150.1M683.2 151.4V150.7M683.4 151.4V148.7" stroke="#ff0000" stroke-width="0.5" stroke-opacity="0.85"/><line x1="677.0" y1="150.70000000000002" x2="683.4" y2="150.70000000000002" stroke="#ff0000" stroke-width="1.5"/><line x1="265" y1="151.4" x2="265" y2="144.8" stroke="#8c8cff" stroke-width="0.6"/><line x1="269.7" y1="151.4" x2="269.7" y2="147.0" stroke="#8c8cff" stroke-width="0.6"/><line x1="276.6" y1="151.4" x2="276.6" y2="141.0" stroke="#ff2020" stroke-width="0.6"/><line x1="280.4" y1="151.4" x2="280.4" y2="145.9" stroke="#ff2020" stroke-width="0.6"/><line x1="286.5" y1="151.4" x2="286.5" y2="146.20000000000002" stroke="#ff2020" stroke-width="0.6"/><line x1="354.4" y1="151.4" x2="354.4" y2="146.6" stroke="#ff2020" stroke-width="0.6"/><line x1="363" y1="151.4" x2="363" y2="148.0" stroke="#ff2020" stroke-width="0.6"/><line x1="412.5" y1="151.4" x2="412.5" y2="146.0" stroke="#ff2020" stroke-width="0.6"/><line x1="415" y1="151.4" x2="415" y2="144.4" stroke="#ff2020" stroke-width="0.6"/><line x1="619.7" y1="151.4" x2="619.7" y2="137.8" stroke="#ff2020" stroke-width="0.6"/><line x1="646.4" y1="151.4" x2="646.4" y2="137.8" stroke="#ff2020" stroke-width="0.6"/><line x1="654.7" y1="151.4" x2="654.7" y2="146.6" stroke="#2020ff" stroke-width="0.6"/><line x1="322.5" y1="151.4" x2="322.5" y2="147.9" stroke="#2020ff" stroke-width="0.6"/><line x1="530.3" y1="151.4" x2="530.3" y2="146.0" stroke="#8c8cff" stroke-width="0.6"/>
<rect x="242.5" y="137.6" width="440.9" height="13.800000000000011" fill="none" stroke="#a9a9a9" stroke-width="1.2"/>
<text x="240.8" y="140.27" font-size="6.3" fill="#333" text-anchor="end" textLength="11.98" lengthAdjust="spacingAndGlyphs">0.002</text>
<text x="240.8" y="147.27" font-size="6.3" fill="#333" text-anchor="end" textLength="11.98" lengthAdjust="spacingAndGlyphs">0.001</text>
<text x="240.8" y="154.07" font-size="6.3" fill="#333" text-anchor="end" textLength="11.98" lengthAdjust="spacingAndGlyphs">0.000</text>
<text x="259.4" y="156.5" font-size="4.6" fill="#333" text-anchor="middle" textLength="2.10" lengthAdjust="spacingAndGlyphs">1</text>
<text x="295" y="156.5" font-size="4.6" fill="#333" text-anchor="middle" textLength="2.10" lengthAdjust="spacingAndGlyphs">2</text>
<text x="330" y="156.5" font-size="4.6" fill="#333" text-anchor="middle" textLength="2.10" lengthAdjust="spacingAndGlyphs">3</text>
<text x="361" y="156.5" font-size="4.6" fill="#333" text-anchor="middle" textLength="2.10" lengthAdjust="spacingAndGlyphs">4</text>
<text x="391" y="156.5" font-size="4.6" fill="#333" text-anchor="middle" textLength="2.10" lengthAdjust="spacingAndGlyphs">5</text>
<text x="419.6" y="156.5" font-size="4.6" fill="#333" text-anchor="middle" textLength="2.10" lengthAdjust="spacingAndGlyphs">6</text>
<text x="447.4" y="156.5" font-size="4.6" fill="#333" text-anchor="middle" textLength="2.10" lengthAdjust="spacingAndGlyphs">7</text>
<text x="472.4" y="156.5" font-size="4.6" fill="#333" text-anchor="middle" textLength="2.10" lengthAdjust="spacingAndGlyphs">8</text>
<text x="494" y="156.5" font-size="4.6" fill="#333" text-anchor="middle" textLength="2.10" lengthAdjust="spacingAndGlyphs">9</text>
<text x="514.4" y="156.5" font-size="4.6" fill="#333" text-anchor="middle" textLength="4.20" lengthAdjust="spacingAndGlyphs">10</text>
<text x="536.4" y="156.5" font-size="4.6" fill="#333" text-anchor="middle" textLength="3.92" lengthAdjust="spacingAndGlyphs">11</text>
<text x="558" y="156.5" font-size="4.6" fill="#333" text-anchor="middle" textLength="4.20" lengthAdjust="spacingAndGlyphs">12</text>
<text x="576.6" y="156.5" font-size="4.6" fill="#333" text-anchor="middle" textLength="4.20" lengthAdjust="spacingAndGlyphs">13</text>
<text x="592" y="156.5" font-size="4.6" fill="#333" text-anchor="middle" textLength="4.20" lengthAdjust="spacingAndGlyphs">14</text>
<text x="605.6" y="156.5" font-size="4.6" fill="#333" text-anchor="middle" textLength="4.20" lengthAdjust="spacingAndGlyphs">15</text>
<text x="619" y="156.5" font-size="4.6" fill="#333" text-anchor="middle" textLength="4.20" lengthAdjust="spacingAndGlyphs">16</text>
<text x="632.3" y="156.5" font-size="4.6" fill="#333" text-anchor="middle" textLength="4.20" lengthAdjust="spacingAndGlyphs">17</text>
<text x="645" y="156.5" font-size="4.6" fill="#333" text-anchor="middle" textLength="4.20" lengthAdjust="spacingAndGlyphs">18</text>
<text x="656" y="156.5" font-size="4.6" fill="#333" text-anchor="middle" textLength="4.20" lengthAdjust="spacingAndGlyphs">19</text>
<text x="665.6" y="156.5" font-size="4.6" fill="#333" text-anchor="middle" textLength="4.20" lengthAdjust="spacingAndGlyphs">20</text>
<text x="674" y="156.5" font-size="4.6" fill="#333" text-anchor="middle" textLength="4.20" lengthAdjust="spacingAndGlyphs">21</text>
<text x="680" y="156.5" font-size="4.6" fill="#333" text-anchor="middle" textLength="4.20" lengthAdjust="spacingAndGlyphs">22</text>
<text x="223.7" y="145.1" font-size="7.7" fill="#222" text-anchor="middle" transform="rotate(-90 223.7 145.1)" dy="2.6">DEP</text>
<path d="M242.5 178.4V177.7M243.1 178.4V178.3M243.2 178.4V177.2M243.3 178.4V178.1M243.5 178.4V177.1M243.5 178.4V177.8M243.5 178.4V177.1M243.5 178.4V176.0M243.7 178.4V177.9M244.0 178.4V176.9M244.6 178.4V173.4M245.0 178.4V176.7M245.2 178.4V175.3M245.3 178.4V177.4M245.3 178.4V177.7M245.5 178.4V175.8M245.7 178.4V174.8M245.8 178.4V175.5M246.1 178.4V176.9M246.3 178.4V177.6M246.5 178.4V177.5M246.5 178.4V174.0M246.8 178.4V175.9M247.1 178.4V177.8M247.2 178.4V176.5M247.3 178.4V178.0M247.4 178.4V173.4M248.5 178.4V175.5M249.2 178.4V177.3M249.5 178.4V176.7M249.7 178.4V178.3M250.3 178.4V176.4M250.4 178.4V176.8M250.5 178.4V178.0M250.5 178.4V178.3M251.3 178.4V178.0M251.6 178.4V175.6M252.7 178.4V175.6M252.9 178.4V175.4M253.4 178.4V177.5M253.4 178.4V177.3M253.5 178.4V176.7M253.8 178.4V178.0M254.4 178.4V177.7M254.5 178.4V174.3M254.6 178.4V177.2M255.8 178.4V177.9M255.9 178.4V177.9M256.1 178.4V178.3M256.3 178.4V176.9M256.3 178.4V177.2M256.6 178.4V176.5M256.6 178.4V176.8M256.7 178.4V178.0M257.1 178.4V173.4M257.2 178.4V178.4M257.8 178.4V178.4M258.3 178.4V178.3M259.0 178.4V176.7M259.2 178.4V177.1M259.4 178.4V173.7M259.6 178.4V177.8M259.7 178.4V176.5M259.8 178.4V177.9M260.0 178.4V176.8M260.0 178.4V177.2M260.3 178.4V177.8M260.3 178.4V175.8M260.4 178.4V178.2M260.7 178.4V176.1M260.8 178.4V176.0M261.5 178.4V178.2M261.9 178.4V175.6M262.2 178.4V177.1M262.8 178.4V178.0M263.3 178.4V178.1M263.3 178.4V177.6M263.4 178.4V177.9M263.4 178.4V178.1M263.4 178.4V173.4M263.9 178.4V177.3M264.0 178.4V173.6M265.1 178.4V178.1M265.2 178.4V176.5M265.4 178.4V177.4M265.6 178.4V173.4M265.8 178.4V173.4M265.9 178.4V178.0M266.0 178.4V178.4M266.2 178.4V178.2M266.3 178.4V176.6M266.9 178.4V173.4M267.1 178.4V173.4M267.1 178.4V176.4M267.8 178.4V178.4M267.9 178.4V174.8M268.1 178.4V177.9M268.4 178.4V178.0M268.8 178.4V177.6M268.8 178.4V175.7M269.6 178.4V177.9M269.8 178.4V177.8M269.8 178.4V178.3M269.9 178.4V177.0M269.9 178.4V178.4M270.0 178.4V176.0M270.3 178.4V178.4M270.4 178.4V176.5M270.6 178.4V177.8M270.7 178.4V177.9M270.7 178.4V174.2M271.3 178.4V177.6M271.3 178.4V177.6M271.5 178.4V176.8M271.7 178.4V176.9M271.7 178.4V176.7M271.9 178.4V178.3M272.0 178.4V177.5M272.4 178.4V177.1M272.5 178.4V175.0M272.7 178.4V177.8M272.9 178.4V178.3M273.5 178.4V178.3M274.0 178.4V176.8M274.1 178.4V177.7M274.3 178.4V178.4M274.6 178.4V177.7M275.1 178.4V175.1M275.4 178.4V178.0M275.5 178.4V178.1M275.7 178.4V177.4M276.0 178.4V178.3M276.4 178.4V177.2M276.6 178.4V175.5M276.7 178.4V177.4M276.8 178.4V175.7M276.8 178.4V178.4M277.0 178.4V178.2" stroke="#0000ff" stroke-width="0.5" stroke-opacity="0.85"/><line x1="242.5" y1="177.70000000000002" x2="277.2" y2="177.70000000000002" stroke="#0000ff" stroke-width="1.5"/><path d="M277.3 178.4V175.3M277.6 178.4V173.4M278.1 178.4V176.9M278.2 178.4V176.0M278.3 178.4V177.4M278.5 178.4V176.0M278.9 178.4V177.9M279.3 178.4V176.6M279.5 178.4V177.9M279.7 178.4V177.8M280.2 178.4V177.6M280.5 178.4V177.3M280.7 178.4V178.0M281.1 178.4V178.3M281.2 178.4V177.4M281.4 178.4V176.4M281.4 178.4V174.8M281.5 178.4V177.8M282.2 178.4V175.4M282.5 178.4V177.2M282.6 178.4V176.6M283.3 178.4V177.5M283.6 178.4V177.3M283.9 178.4V176.9M284.0 178.4V177.2M284.1 178.4V177.7M284.4 178.4V174.3M284.6 178.4V176.4M284.6 178.4V178.1M284.6 178.4V178.3M284.6 178.4V178.2M284.9 178.4V176.9M285.2 178.4V174.8M285.2 178.4V178.1M285.3 178.4V173.6M285.3 178.4V175.4M285.6 178.4V176.3M285.7 178.4V177.4M286.0 178.4V177.0M286.3 178.4V173.4M286.4 178.4V177.0M286.5 178.4V174.0M287.0 178.4V176.3M287.1 178.4V174.7M287.2 178.4V178.2M287.3 178.4V177.8M287.5 178.4V177.0M287.6 178.4V178.2M287.8 178.4V177.3M288.4 178.4V178.3M288.6 178.4V175.5M289.4 178.4V176.1M289.6 178.4V178.2M290.0 178.4V177.9M290.2 178.4V178.2M290.3 178.4V177.0M290.4 178.4V177.5M290.6 178.4V177.6M291.0 178.4V175.9M291.1 178.4V175.1M291.3 178.4V177.3M291.3 178.4V178.2M291.4 178.4V178.3M291.5 178.4V173.6M291.6 178.4V177.0M291.8 178.4V178.1M292.0 178.4V177.7M292.2 178.4V176.6M292.9 178.4V177.1M293.0 178.4V178.3M293.1 178.4V178.0M293.7 178.4V176.6M293.7 178.4V177.8M294.2 178.4V176.9M294.8 178.4V178.1M295.3 178.4V175.2M295.8 178.4V177.7M296.0 178.4V177.5M296.2 178.4V177.4M296.3 178.4V178.3M296.8 178.4V178.4M296.8 178.4V177.2M297.1 178.4V177.8M297.2 178.4V177.9M297.7 178.4V178.0M297.9 178.4V178.2M298.1 178.4V176.6M298.5 178.4V176.0M298.7 178.4V176.9M299.0 178.4V177.9M299.2 178.4V176.9M300.1 178.4V178.1M300.8 178.4V175.9M301.2 178.4V178.3M301.2 178.4V173.8M301.3 178.4V176.7M301.7 178.4V177.5M301.8 178.4V173.9M302.1 178.4V177.8M302.2 178.4V175.9M302.3 178.4V173.4M302.4 178.4V177.9M302.6 178.4V178.0M302.8 178.4V177.8M303.3 178.4V177.2M303.4 178.4V177.2M303.7 178.4V176.4M304.2 178.4V176.7M304.9 178.4V178.4M305.0 178.4V178.3M305.1 178.4V177.4M305.2 178.4V177.3M305.2 178.4V177.6M305.4 178.4V175.8M305.6 178.4V177.6M306.0 178.4V175.2M306.2 178.4V174.4M306.2 178.4V177.4M306.4 178.4V176.3M306.7 178.4V177.2M306.9 178.4V178.3M307.3 178.4V174.9M307.6 178.4V177.8M307.7 178.4V177.2M308.0 178.4V177.8M308.1 178.4V178.3M308.2 178.4V178.3M308.5 178.4V177.9M308.7 178.4V175.4M308.8 178.4V174.5M309.2 178.4V173.4M309.3 178.4V177.2M309.5 178.4V175.1M310.5 178.4V177.4M310.8 178.4V178.1M311.1 178.4V178.0M311.6 178.4V177.1M311.9 178.4V178.1M312.0 178.4V178.0M312.5 178.4V176.3M312.5 178.4V176.6" stroke="#ff0000" stroke-width="0.5" stroke-opacity="0.85"/><line x1="277.2" y1="177.70000000000002" x2="312.5" y2="177.70000000000002" stroke="#ff0000" stroke-width="1.5"/><path d="M313.2 178.4V178.3M313.4 178.4V176.8M313.5 178.4V174.2M314.2 178.4V177.8M314.2 178.4V173.4M314.4 178.4V178.3M315.2 178.4V174.8M315.7 178.4V177.5M315.8 178.4V177.2M315.9 178.4V176.5M316.1 178.4V177.0M316.1 178.4V175.9M316.2 178.4V176.0M316.2 178.4V178.0M316.2 178.4V177.2M316.6 178.4V178.3M318.2 178.4V176.5M318.3 178.4V178.3M318.7 178.4V175.2M318.7 178.4V178.1M319.6 178.4V173.4M320.4 178.4V176.4M320.5 178.4V177.1M320.6 178.4V176.9M320.7 178.4V177.5M320.8 178.4V176.6M320.9 178.4V177.2M320.9 178.4V178.1M321.7 178.4V176.6M321.7 178.4V177.0M321.7 178.4V177.3M322.0 178.4V177.9M322.4 178.4V176.2M322.8 178.4V176.2M322.9 178.4V175.1M323.2 178.4V177.6M323.3 178.4V178.2M323.7 178.4V177.2M323.7 178.4V176.7M323.7 178.4V177.7M324.2 178.4V174.6M324.6 178.4V177.3M324.7 178.4V177.5M324.8 178.4V177.5M324.8 178.4V178.1M325.0 178.4V178.3M325.0 178.4V174.2M325.1 178.4V175.6M325.1 178.4V178.1M325.2 178.4V174.0M325.6 178.4V176.8M325.7 178.4V177.1M326.0 178.4V178.1M326.3 178.4V178.1M326.4 178.4V177.1M326.6 178.4V178.2M326.8 178.4V175.0M326.9 178.4V177.3M327.0 178.4V177.9M327.5 178.4V177.6M327.5 178.4V177.5M327.7 178.4V178.1M328.6 178.4V178.1M329.0 178.4V178.0M329.2 178.4V174.9M329.2 178.4V176.6M329.4 178.4V173.4M329.5 178.4V176.4M329.6 178.4V177.2M329.9 178.4V177.9M329.9 178.4V178.2M329.9 178.4V174.6M330.1 178.4V176.1M330.2 178.4V176.2M330.8 178.4V176.1M330.9 178.4V178.2M331.0 178.4V177.5M331.6 178.4V176.8M331.9 178.4V178.3M332.5 178.4V178.2M332.8 178.4V177.0M332.9 178.4V178.1M333.1 178.4V177.8M333.3 178.4V178.1M333.5 178.4V177.0M333.6 178.4V177.2M333.8 178.4V173.8M334.0 178.4V177.4M334.1 178.4V175.8M334.5 178.4V177.2M334.6 178.4V177.5M334.7 178.4V176.8M334.8 178.4V177.5M334.9 178.4V177.8M335.0 178.4V178.2M335.3 178.4V178.2M335.8 178.4V176.7M335.9 178.4V178.3M336.1 178.4V177.9M336.1 178.4V176.6M336.2 178.4V177.2M336.6 178.4V177.6M336.6 178.4V177.4M336.8 178.4V177.6M337.3 178.4V178.3M337.8 178.4V178.2M338.1 178.4V176.1M338.3 178.4V176.7M338.5 178.4V177.0M338.5 178.4V178.2M339.0 178.4V177.7M339.1 178.4V175.5M339.4 178.4V176.3M339.6 178.4V177.7M339.7 178.4V175.3M339.8 178.4V177.1M340.1 178.4V174.7M340.2 178.4V178.0M340.3 178.4V177.0M340.3 178.4V173.7M340.4 178.4V177.0M340.5 178.4V178.3M340.5 178.4V175.9M341.3 178.4V177.9M342.9 178.4V177.7M343.5 178.4V175.8M343.6 178.4V175.4M343.7 178.4V178.1M343.8 178.4V176.9M343.8 178.4V174.3M345.0 178.4V176.1M345.3 178.4V177.0" stroke="#0000ff" stroke-width="0.5" stroke-opacity="0.85"/><line x1="312.5" y1="177.70000000000002" x2="345.5" y2="177.70000000000002" stroke="#0000ff" stroke-width="1.5"/><path d="M346.1 178.4V176.9M347.0 178.4V177.1M347.0 178.4V177.5M347.1 178.4V176.5M347.2 178.4V177.5M347.3 178.4V177.5M347.4 178.4V178.3M347.9 178.4V177.0M348.3 178.4V178.2M349.1 178.4V177.3M349.4 178.4V175.2M349.7 178.4V177.2M349.7 178.4V178.1M349.7 178.4V178.1M350.2 178.4V176.9M350.3 178.4V177.8M350.5 178.4V176.7M350.7 178.4V174.6M350.8 178.4V176.0M351.0 178.4V177.8M351.2 178.4V178.2M351.6 178.4V177.2M351.8 178.4V178.1M351.8 178.4V177.1M352.0 178.4V178.1M352.2 178.4V175.9M352.3 178.4V175.9M352.9 178.4V174.4M353.2 178.4V176.7M353.3 178.4V177.3M353.4 178.4V178.2M353.7 178.4V178.2M353.7 178.4V177.3M353.9 178.4V176.8M354.4 178.4V177.5M354.8 178.4V177.6M355.0 178.4V177.0M355.1 178.4V177.4M355.6 178.4V176.9M355.6 178.4V178.1M355.9 178.4V177.8M356.5 178.4V174.5M356.5 178.4V177.4M356.7 178.4V175.5M356.7 178.4V178.4M356.8 178.4V176.7M357.6 178.4V178.2M358.2 178.4V178.2M358.4 178.4V177.9M358.8 178.4V174.6M359.2 178.4V177.8M359.3 178.4V177.0M359.4 178.4V177.3M359.6 178.4V178.2M359.7 178.4V178.0M360.0 178.4V177.5M360.5 178.4V177.8M360.6 178.4V178.3M360.6 178.4V177.5M360.8 178.4V178.4M360.8 178.4V176.1M361.1 178.4V177.2M361.7 178.4V176.7M361.8 178.4V178.0M362.4 178.4V177.6M362.6 178.4V177.4M362.7 178.4V178.2M362.8 178.4V177.8M363.4 178.4V177.2M363.4 178.4V173.4M364.0 178.4V177.4M364.0 178.4V175.6M364.1 178.4V178.0M364.6 178.4V177.9M364.7 178.4V177.7M364.9 178.4V177.3M365.5 178.4V177.4M365.8 178.4V176.9M365.9 178.4V174.9M366.2 178.4V178.2M366.3 178.4V178.2M366.3 178.4V177.2M366.4 178.4V177.6M366.5 178.4V176.0M367.0 178.4V176.6M367.9 178.4V178.1M367.9 178.4V177.6M368.2 178.4V175.7M368.3 178.4V177.8M368.3 178.4V174.5M368.5 178.4V177.0M368.8 178.4V176.4M369.3 178.4V177.9M369.3 178.4V178.0M369.4 178.4V178.0M369.4 178.4V177.3M369.4 178.4V178.3M369.5 178.4V176.9M369.5 178.4V177.6M370.0 178.4V178.3M370.2 178.4V178.1M370.2 178.4V175.9M370.4 178.4V178.1M370.5 178.4V177.9M370.6 178.4V178.1M370.6 178.4V174.1M370.7 178.4V175.5M371.1 178.4V177.3M371.1 178.4V176.8M371.3 178.4V177.6M371.5 178.4V173.8M372.6 178.4V178.0M373.0 178.4V178.3M373.5 178.4V174.9M373.5 178.4V177.0M374.1 178.4V177.4M374.5 178.4V178.0M374.6 178.4V175.2M374.6 178.4V178.1M374.9 178.4V176.8M375.3 178.4V176.2M375.6 178.4V178.1" stroke="#ff0000" stroke-width="0.5" stroke-opacity="0.85"/><line x1="345.5" y1="177.70000000000002" x2="376.0" y2="177.70000000000002" stroke="#ff0000" stroke-width="1.5"/><path d="M376.7 178.4V178.2M376.7 178.4V177.5M377.1 178.4V177.0M377.2 178.4V177.5M377.3 178.4V177.7M377.3 178.4V174.4M377.4 178.4V177.5M377.5 178.4V177.8M377.5 178.4V177.8M377.6 178.4V177.6M377.6 178.4V178.3M378.6 178.4V177.3M378.9 178.4V177.2M379.3 178.4V177.4M380.2 178.4V174.2M380.4 178.4V176.2M380.4 178.4V176.5M380.5 178.4V176.4M380.6 178.4V176.9M380.7 178.4V177.5M381.0 178.4V176.8M381.1 178.4V178.3M381.3 178.4V177.1M381.3 178.4V176.2M381.5 178.4V178.1M381.6 178.4V177.2M381.8 178.4V177.8M382.4 178.4V176.0M383.3 178.4V177.4M383.4 178.4V178.2M383.5 178.4V176.7M383.7 178.4V175.6M384.0 178.4V177.4M384.3 178.4V178.0M384.6 178.4V176.8M384.7 178.4V176.7M384.8 178.4V175.0M385.0 178.4V178.4M385.1 178.4V177.7M385.7 178.4V176.0M385.7 178.4V173.6M386.1 178.4V176.6M386.1 178.4V178.3M386.3 178.4V176.9M386.6 178.4V178.0M386.8 178.4V178.1M386.9 178.4V177.2M387.1 178.4V177.1M387.1 178.4V175.3M387.5 178.4V178.4M388.0 178.4V173.5M388.1 178.4V176.6M388.6 178.4V177.8M388.7 178.4V177.1M388.7 178.4V177.1M389.9 178.4V177.9M390.0 178.4V177.4M390.0 178.4V175.4M390.3 178.4V177.3M390.6 178.4V177.8M390.9 178.4V174.7M391.0 178.4V178.2M391.0 178.4V178.2M391.0 178.4V176.3M391.2 178.4V177.9M391.3 178.4V177.7M391.3 178.4V178.3M392.0 178.4V178.3M392.0 178.4V178.2M392.4 178.4V177.9M392.7 178.4V177.4M392.8 178.4V178.2M393.1 178.4V177.1M393.1 178.4V177.3M393.3 178.4V177.7M393.5 178.4V176.0M393.6 178.4V177.8M393.9 178.4V178.0M394.5 178.4V177.7M394.6 178.4V177.3M394.8 178.4V176.8M394.8 178.4V177.7M395.2 178.4V178.0M395.5 178.4V175.6M395.5 178.4V178.1M395.6 178.4V175.1M395.8 178.4V178.3M395.9 178.4V178.1M396.4 178.4V177.7M396.8 178.4V176.7M396.8 178.4V177.9M397.0 178.4V178.3M397.6 178.4V178.3M397.6 178.4V176.0M397.8 178.4V176.9M397.9 178.4V175.4M398.1 178.4V174.6M398.7 178.4V177.5M398.7 178.4V177.2M398.9 178.4V175.9M399.5 178.4V177.5M400.5 178.4V175.4M401.0 178.4V176.1M401.2 178.4V178.4M401.4 178.4V174.1M401.4 178.4V177.9M401.5 178.4V177.1M402.3 178.4V178.0M402.5 178.4V177.5M402.6 178.4V178.0M402.8 178.4V177.2M402.9 178.4V175.4M403.1 178.4V177.5M403.3 178.4V173.4M403.4 178.4V178.2M404.3 178.4V177.4M405.2 178.4V177.3" stroke="#0000ff" stroke-width="0.5" stroke-opacity="0.85"/><line x1="376.0" y1="177.70000000000002" x2="405.3" y2="177.70000000000002" stroke="#0000ff" stroke-width="1.5"/><path d="M405.3 178.4V177.1M405.4 178.4V176.8M405.9 178.4V176.3M406.0 178.4V177.7M406.2 178.4V178.2M406.3 178.4V177.6M406.3 178.4V175.9M407.0 178.4V174.2M407.1 178.4V176.7M407.2 178.4V176.6M407.8 178.4V177.7M408.7 178.4V177.4M408.9 178.4V178.1M409.0 178.4V176.4M409.5 178.4V175.1M409.5 178.4V178.2M409.5 178.4V177.2M409.7 178.4V177.8M409.7 178.4V177.9M409.7 178.4V177.5M409.9 178.4V177.8M410.0 178.4V177.3M411.0 178.4V177.9M411.3 178.4V174.6M411.4 178.4V175.4M411.7 178.4V178.3M411.7 178.4V175.8M411.7 178.4V178.0M412.2 178.4V175.6M412.3 178.4V177.3M413.1 178.4V177.6M413.1 178.4V177.9M413.3 178.4V178.2M413.3 178.4V175.6M413.5 178.4V177.2M413.5 178.4V177.6M414.1 178.4V177.7M414.1 178.4V175.9M414.7 178.4V174.3M414.9 178.4V177.3M415.1 178.4V177.5M415.2 178.4V177.6M415.3 178.4V176.9M416.0 178.4V176.9M416.0 178.4V175.0M416.2 178.4V177.8M416.3 178.4V178.0M416.3 178.4V178.2M416.4 178.4V178.3M417.2 178.4V176.2M417.5 178.4V175.8M418.1 178.4V178.3M418.2 178.4V178.1M418.7 178.4V178.3M419.2 178.4V173.4M419.2 178.4V176.4M419.2 178.4V175.3M419.5 178.4V177.8M419.5 178.4V175.7M419.6 178.4V177.7M421.2 178.4V178.3M422.0 178.4V176.9M422.0 178.4V176.6M423.0 178.4V178.2M424.1 178.4V178.1M424.3 178.4V177.2M424.4 178.4V175.0M424.8 178.4V174.1M424.9 178.4V178.3M425.1 178.4V177.5M425.4 178.4V178.3M425.7 178.4V177.4M425.9 178.4V178.3M426.1 178.4V175.9M426.2 178.4V178.3M426.4 178.4V178.1M426.4 178.4V177.7M426.5 178.4V178.3M426.8 178.4V178.2M427.1 178.4V177.1M427.2 178.4V178.1M427.3 178.4V177.5M427.6 178.4V175.4M427.8 178.4V176.6M427.9 178.4V177.4M428.2 178.4V176.1M428.4 178.4V178.2M428.4 178.4V178.0M428.6 178.4V173.4M428.8 178.4V177.8M428.8 178.4V177.9M428.9 178.4V178.0M429.3 178.4V176.5M429.3 178.4V177.5M429.5 178.4V175.7M429.7 178.4V177.7M430.1 178.4V177.1M430.2 178.4V178.3M430.4 178.4V177.3M430.7 178.4V177.2M430.9 178.4V176.2M430.9 178.4V176.7M430.9 178.4V178.2M431.1 178.4V177.7M431.3 178.4V178.0M431.5 178.4V178.2M431.6 178.4V178.2M431.8 178.4V175.8M431.8 178.4V178.1M432.7 178.4V175.7M432.8 178.4V177.1M432.8 178.4V173.4" stroke="#ff0000" stroke-width="0.5" stroke-opacity="0.85"/><line x1="405.3" y1="177.70000000000002" x2="433.5" y2="177.70000000000002" stroke="#ff0000" stroke-width="1.5"/><path d="M433.7 178.4V178.1M433.8 178.4V177.6M433.9 178.4V178.3M434.2 178.4V178.2M434.2 178.4V178.3M434.3 178.4V178.4M434.6 178.4V177.6M434.8 178.4V177.8M435.2 178.4V178.0M435.4 178.4V178.3M436.5 178.4V178.3M436.7 178.4V177.0M436.9 178.4V177.2M437.0 178.4V177.1M437.1 178.4V178.0M437.2 178.4V178.0M438.2 178.4V175.7M438.2 178.4V176.8M438.3 178.4V175.6M439.2 178.4V177.4M439.3 178.4V175.5M439.9 178.4V176.4M440.2 178.4V177.7M441.1 178.4V178.0M442.3 178.4V176.7M442.6 178.4V178.0M442.8 178.4V174.5M443.1 178.4V175.4M443.2 178.4V177.6M443.7 178.4V177.4M444.1 178.4V176.1M444.4 178.4V176.2M444.5 178.4V178.0M444.7 178.4V175.1M444.7 178.4V178.4M444.8 178.4V177.9M445.1 178.4V177.5M445.4 178.4V175.7M445.4 178.4V178.2M445.5 178.4V178.2M445.6 178.4V177.9M445.7 178.4V177.3M445.9 178.4V177.3M446.1 178.4V178.2M446.1 178.4V177.0M446.2 178.4V178.2M446.4 178.4V177.8M446.5 178.4V177.5M446.7 178.4V178.3M447.0 178.4V177.9M447.1 178.4V177.8M447.1 178.4V177.8M447.6 178.4V176.9M447.7 178.4V177.2M447.7 178.4V178.0M447.7 178.4V178.3M448.1 178.4V177.0M448.4 178.4V177.3M448.4 178.4V177.8M448.5 178.4V175.1M448.5 178.4V177.8M448.8 178.4V177.8M449.0 178.4V175.1M449.5 178.4V178.4M449.6 178.4V173.4M450.1 178.4V177.6M450.7 178.4V175.5M450.8 178.4V178.1M451.0 178.4V177.4M451.1 178.4V176.8M451.1 178.4V176.9M451.2 178.4V177.8M451.4 178.4V178.1M451.5 178.4V174.1M451.6 178.4V176.9M451.9 178.4V177.8M451.9 178.4V178.1M452.0 178.4V177.5M452.0 178.4V173.4M452.1 178.4V178.3M452.4 178.4V178.2M452.5 178.4V177.6M452.8 178.4V177.0M453.4 178.4V173.4M453.7 178.4V177.5M454.4 178.4V178.0M454.7 178.4V177.2M454.9 178.4V177.2M455.6 178.4V176.7M455.8 178.4V178.2M457.1 178.4V178.4M457.3 178.4V177.1M457.5 178.4V178.2M457.5 178.4V176.6M457.9 178.4V178.2M458.2 178.4V177.7M458.3 178.4V177.3M458.8 178.4V178.4M458.8 178.4V177.3M458.9 178.4V178.3M459.1 178.4V177.6M459.2 178.4V178.4M459.3 178.4V177.0M459.4 178.4V177.7M459.7 178.4V173.4" stroke="#0000ff" stroke-width="0.5" stroke-opacity="0.85"/><line x1="433.5" y1="177.70000000000002" x2="459.9" y2="177.70000000000002" stroke="#0000ff" stroke-width="1.5"/><path d="M459.9 178.4V178.3M459.9 178.4V177.6M460.0 178.4V177.1M460.2 178.4V176.7M460.5 178.4V176.8M460.5 178.4V177.9M460.6 178.4V177.1M460.6 178.4V177.5M461.1 178.4V177.2M461.5 178.4V177.1M461.7 178.4V178.3M461.8 178.4V177.9M462.0 178.4V173.9M463.7 178.4V177.8M464.3 178.4V178.3M464.3 178.4V178.0M464.6 178.4V177.7M464.7 178.4V176.6M464.9 178.4V178.1M464.9 178.4V177.4M465.0 178.4V176.8M465.0 178.4V177.3M465.2 178.4V178.0M465.6 178.4V176.8M465.8 178.4V173.4M465.8 178.4V177.5M465.8 178.4V178.2M466.3 178.4V175.0M466.7 178.4V178.0M467.5 178.4V178.4M467.7 178.4V173.4M467.8 178.4V177.5M468.7 178.4V177.7M468.7 178.4V177.9M468.8 178.4V177.8M469.0 178.4V176.5M469.2 178.4V178.1M469.4 178.4V176.5M469.4 178.4V176.3M469.4 178.4V178.0M469.9 178.4V173.5M470.1 178.4V178.2M470.1 178.4V177.8M470.2 178.4V175.6M471.1 178.4V175.7M471.1 178.4V178.3M471.3 178.4V178.4M472.1 178.4V178.0M472.1 178.4V177.1M472.1 178.4V178.4M472.3 178.4V177.9M472.6 178.4V178.0M472.6 178.4V174.7M472.7 178.4V177.5M473.0 178.4V178.0M473.3 178.4V177.3M473.3 178.4V173.8M473.4 178.4V175.6M474.2 178.4V175.2M474.6 178.4V177.7M474.7 178.4V178.4M474.8 178.4V174.0M475.9 178.4V176.9M475.9 178.4V177.4M476.0 178.4V177.9M476.0 178.4V178.3M476.1 178.4V177.4M476.4 178.4V176.8M476.4 178.4V178.2M476.7 178.4V176.6M476.8 178.4V177.7M477.6 178.4V176.0M478.2 178.4V177.8M478.6 178.4V178.3M478.8 178.4V176.6M479.3 178.4V177.0M479.5 178.4V177.1M479.7 178.4V177.5M480.4 178.4V176.7M480.5 178.4V177.9M480.5 178.4V178.0M480.5 178.4V175.5M480.7 178.4V176.5M481.0 178.4V175.9M481.8 178.4V178.2M481.8 178.4V176.2M481.9 178.4V176.6M482.0 178.4V177.4M482.2 178.4V177.7M482.5 178.4V178.3M482.9 178.4V178.1M482.9 178.4V176.0M483.0 178.4V174.9" stroke="#ff0000" stroke-width="0.5" stroke-opacity="0.85"/><line x1="459.9" y1="177.70000000000002" x2="483.2" y2="177.70000000000002" stroke="#ff0000" stroke-width="1.5"/><path d="M483.4 178.4V177.7M483.4 178.4V177.6M483.9 178.4V177.4M484.5 178.4V175.5M484.6 178.4V177.6M484.8 178.4V175.5M485.2 178.4V176.1M485.2 178.4V175.4M485.7 178.4V178.2M485.8 178.4V177.9M486.0 178.4V177.9M487.3 178.4V177.9M487.4 178.4V178.3M487.5 178.4V174.5M488.2 178.4V177.4M488.6 178.4V177.8M489.2 178.4V173.4M489.3 178.4V178.2M489.3 178.4V178.3M489.7 178.4V177.8M490.3 178.4V176.3M490.3 178.4V176.2M490.4 178.4V177.9M490.4 178.4V177.9M490.9 178.4V175.3M491.4 178.4V177.8M491.5 178.4V178.3M491.7 178.4V176.1M492.3 178.4V178.3M492.7 178.4V175.9M492.9 178.4V177.6M493.2 178.4V177.3M493.6 178.4V173.4M493.6 178.4V176.2M493.7 178.4V178.2M493.8 178.4V178.1M493.8 178.4V177.9M493.9 178.4V178.1M494.1 178.4V177.8M494.3 178.4V175.9M494.3 178.4V177.5M494.4 178.4V177.8M494.5 178.4V177.8M494.7 178.4V176.6M495.2 178.4V177.2M495.4 178.4V176.3M495.5 178.4V176.0M495.9 178.4V173.4M495.9 178.4V178.3M495.9 178.4V176.0M496.2 178.4V177.9M496.4 178.4V178.3M497.0 178.4V177.9M497.0 178.4V176.5M497.0 178.4V177.8M497.1 178.4V178.2M497.5 178.4V178.0M498.1 178.4V178.2M498.3 178.4V178.2M498.6 178.4V177.8M498.7 178.4V178.3M498.9 178.4V174.2M498.9 178.4V177.9M499.4 178.4V175.4M499.5 178.4V178.2M499.8 178.4V177.4M499.9 178.4V176.2M500.5 178.4V176.0M500.7 178.4V175.8M501.2 178.4V177.9M501.3 178.4V176.4M502.0 178.4V177.7M502.1 178.4V176.2M502.4 178.4V175.0M502.5 178.4V177.7M502.7 178.4V176.6M502.8 178.4V178.3M503.0 178.4V178.4M503.2 178.4V175.7M503.2 178.4V174.5M503.2 178.4V176.5M503.6 178.4V175.3M503.7 178.4V177.5M504.0 178.4V178.2" stroke="#0000ff" stroke-width="0.5" stroke-opacity="0.85"/><line x1="483.2" y1="177.70000000000002" x2="504.2" y2="177.70000000000002" stroke="#0000ff" stroke-width="1.5"/><path d="M504.4 178.4V176.8M504.6 178.4V174.8M505.2 178.4V173.8M506.7 178.4V175.6M506.8 178.4V173.9M506.9 178.4V177.4M507.3 178.4V177.2M507.4 178.4V175.7M507.5 178.4V175.2M507.5 178.4V178.4M507.7 178.4V177.6M507.8 178.4V176.9M507.8 178.4V177.3M508.1 178.4V177.9M508.2 178.4V178.0M508.7 178.4V177.4M508.9 178.4V178.4M509.0 178.4V178.1M509.4 178.4V177.9M509.4 178.4V175.6M509.8 178.4V173.4M509.9 178.4V176.1M510.1 178.4V176.2M510.3 178.4V177.9M510.3 178.4V178.0M511.2 178.4V176.4M511.2 178.4V178.2M511.3 178.4V174.2M511.5 178.4V176.3M511.5 178.4V176.7M512.1 178.4V176.4M512.9 178.4V177.3M512.9 178.4V177.2M513.0 178.4V178.1M513.3 178.4V178.2M513.5 178.4V176.3M513.5 178.4V173.4M513.9 178.4V178.0M513.9 178.4V177.3M514.0 178.4V176.1M514.4 178.4V176.3M514.5 178.4V177.9M514.6 178.4V177.9M514.6 178.4V178.1M515.0 178.4V177.5M515.2 178.4V175.9M515.6 178.4V177.7M516.2 178.4V176.1M516.2 178.4V178.1M516.3 178.4V178.3M516.3 178.4V175.3M517.0 178.4V175.1M517.3 178.4V178.2M517.5 178.4V177.7M517.5 178.4V177.6M517.9 178.4V178.2M517.9 178.4V176.4M518.2 178.4V177.9M518.2 178.4V175.9M519.0 178.4V178.1M519.1 178.4V178.4M519.9 178.4V178.3M520.1 178.4V178.2M520.6 178.4V175.6M520.6 178.4V177.8M521.1 178.4V176.0M521.2 178.4V178.3M521.6 178.4V178.0M521.7 178.4V178.1M522.3 178.4V176.7M522.3 178.4V176.1M522.5 178.4V178.1M522.8 178.4V177.9M522.9 178.4V177.9M523.3 178.4V178.1M523.6 178.4V176.3M524.1 178.4V178.1M524.1 178.4V177.4M524.2 178.4V176.1M524.5 178.4V176.9M524.7 178.4V177.2M524.8 178.4V178.0M524.8 178.4V178.2M525.0 178.4V178.4" stroke="#ff0000" stroke-width="0.5" stroke-opacity="0.85"/><line x1="504.2" y1="177.70000000000002" x2="525.4" y2="177.70000000000002" stroke="#ff0000" stroke-width="1.5"/><path d="M525.8 178.4V178.0M525.8 178.4V177.9M525.9 178.4V177.2M526.0 178.4V177.7M526.0 178.4V177.7M526.1 178.4V177.0M527.0 178.4V177.9M528.0 178.4V177.8M528.1 178.4V175.9M528.5 178.4V177.5M528.9 178.4V173.5M529.0 178.4V178.0M529.0 178.4V176.6M529.1 178.4V176.8M529.2 178.4V176.1M529.4 178.4V177.5M529.4 178.4V177.5M529.4 178.4V177.3M529.5 178.4V176.6M529.6 178.4V176.9M529.7 178.4V177.8M530.5 178.4V177.9M531.0 178.4V176.4M531.0 178.4V178.2M531.0 178.4V175.6M531.1 178.4V176.8M531.9 178.4V178.0M532.3 178.4V176.8M532.4 178.4V177.2M532.6 178.4V177.0M532.9 178.4V175.9M533.1 178.4V173.4M533.2 178.4V178.1M533.4 178.4V177.9M533.6 178.4V177.6M534.1 178.4V176.0M534.4 178.4V177.5M534.6 178.4V175.1M534.7 178.4V173.5M535.0 178.4V176.9M535.4 178.4V177.9M535.5 178.4V177.8M535.5 178.4V178.1M536.5 178.4V177.5M536.5 178.4V177.0M536.6 178.4V177.6M536.7 178.4V177.2M537.1 178.4V176.8M538.0 178.4V176.9M538.1 178.4V176.2M538.2 178.4V176.5M538.8 178.4V176.5M539.1 178.4V178.0M539.2 178.4V173.4M539.3 178.4V176.5M540.7 178.4V177.4M541.4 178.4V173.4M541.6 178.4V176.4M541.8 178.4V175.2M541.9 178.4V178.0M541.9 178.4V177.9M542.0 178.4V177.5M542.4 178.4V178.1M542.4 178.4V177.5M543.0 178.4V177.0M543.0 178.4V178.3M543.3 178.4V176.6M543.3 178.4V174.4M543.4 178.4V177.1M543.5 178.4V177.1M543.7 178.4V176.0M544.7 178.4V177.3M544.8 178.4V178.2M545.1 178.4V177.7M545.3 178.4V176.6M545.4 178.4V177.1M545.5 178.4V177.3M545.8 178.4V175.7M545.9 178.4V177.7M546.6 178.4V178.2M546.8 178.4V178.2M546.9 178.4V176.9M546.9 178.4V176.9M546.9 178.4V177.3M547.1 178.4V177.8M547.1 178.4V175.1M547.2 178.4V174.4" stroke="#0000ff" stroke-width="0.5" stroke-opacity="0.85"/><line x1="525.4" y1="177.70000000000002" x2="547.2" y2="177.70000000000002" stroke="#0000ff" stroke-width="1.5"/><path d="M547.9 178.4V174.2M548.0 178.4V175.0M548.2 178.4V175.1M549.7 178.4V178.3M549.8 178.4V178.0M550.2 178.4V178.1M550.2 178.4V176.3M550.5 178.4V177.5M550.6 178.4V174.6M550.7 178.4V177.0M550.7 178.4V177.2M550.7 178.4V177.4M551.7 178.4V174.8M551.8 178.4V175.0M551.8 178.4V177.4M552.0 178.4V177.4M552.1 178.4V177.7M552.2 178.4V176.3M552.4 178.4V177.4M552.5 178.4V178.3M554.0 178.4V176.8M554.0 178.4V178.1M554.2 178.4V178.3M554.6 178.4V178.3M555.4 178.4V177.4M555.5 178.4V176.4M555.7 178.4V175.8M555.9 178.4V177.1M556.1 178.4V178.3M556.2 178.4V176.3M556.4 178.4V178.2M556.5 178.4V176.4M556.5 178.4V178.3M556.5 178.4V177.7M556.7 178.4V177.7M557.0 178.4V178.3M557.1 178.4V175.5M557.3 178.4V176.3M557.4 178.4V177.9M557.5 178.4V178.2M557.9 178.4V178.2M558.1 178.4V176.6M558.4 178.4V177.6M559.1 178.4V173.9M559.1 178.4V175.3M559.2 178.4V177.2M559.6 178.4V176.1M559.6 178.4V177.9M560.1 178.4V178.0M560.1 178.4V177.3M561.1 178.4V174.0M561.3 178.4V178.0M561.5 178.4V178.1M561.7 178.4V178.4M561.9 178.4V176.5M562.3 178.4V178.0M562.4 178.4V178.3M562.4 178.4V176.2M562.6 178.4V176.9M562.6 178.4V175.6M562.8 178.4V176.3M563.0 178.4V177.6M563.1 178.4V177.6M563.1 178.4V173.4M563.6 178.4V177.6M563.7 178.4V177.1M563.8 178.4V177.9M564.1 178.4V177.7M564.1 178.4V177.3M564.3 178.4V177.3M564.5 178.4V178.1M564.6 178.4V175.3M565.4 178.4V175.8M565.4 178.4V173.5M565.8 178.4V178.1M565.9 178.4V176.5M566.2 178.4V175.1M566.6 178.4V178.0M566.8 178.4V175.4M566.9 178.4V177.9" stroke="#ff0000" stroke-width="0.5" stroke-opacity="0.85"/><line x1="547.2" y1="177.70000000000002" x2="567.3" y2="177.70000000000002" stroke="#ff0000" stroke-width="1.5"/><path d="M567.5 178.4V176.6M567.6 178.4V177.7M567.7 178.4V175.4M567.8 178.4V178.0M568.0 178.4V176.9M568.1 178.4V173.4M568.4 178.4V177.7M568.6 178.4V176.1M569.0 178.4V175.7M569.2 178.4V175.7M569.6 178.4V177.1M569.6 178.4V177.5M569.8 178.4V174.0M570.0 178.4V177.0M570.8 178.4V177.5M570.8 178.4V177.1M570.9 178.4V176.7M571.2 178.4V173.8M571.5 178.4V174.5M571.8 178.4V177.1M571.9 178.4V176.3M572.3 178.4V178.3M572.3 178.4V175.5M572.4 178.4V178.0M573.0 178.4V176.2M573.3 178.4V177.4M573.6 178.4V173.4M574.3 178.4V176.9M574.8 178.4V176.5M574.9 178.4V176.8M575.0 178.4V177.7M575.0 178.4V175.9M575.1 178.4V177.2M575.3 178.4V177.6M575.6 178.4V178.1M576.5 178.4V177.6M577.2 178.4V178.0M577.5 178.4V177.6M577.5 178.4V176.6M577.5 178.4V177.4M577.6 178.4V175.7M578.0 178.4V177.3M578.6 178.4V177.9M579.0 178.4V178.1M579.0 178.4V178.0M579.2 178.4V176.4M579.5 178.4V178.0M579.9 178.4V177.0M579.9 178.4V178.1M580.0 178.4V178.1M580.1 178.4V176.8M580.2 178.4V177.6M580.9 178.4V177.1M581.0 178.4V177.8M581.1 178.4V177.6M581.3 178.4V178.3M581.4 178.4V177.1M581.7 178.4V177.1M582.0 178.4V178.2M582.3 178.4V177.6M582.3 178.4V174.4M582.3 178.4V178.4M582.8 178.4V178.1M583.1 178.4V173.4M583.1 178.4V175.5M583.5 178.4V178.2M583.9 178.4V177.8M584.0 178.4V175.4" stroke="#0000ff" stroke-width="0.5" stroke-opacity="0.85"/><line x1="567.3" y1="177.70000000000002" x2="584.3" y2="177.70000000000002" stroke="#0000ff" stroke-width="1.5"/><path d="M584.5 178.4V177.2M584.9 178.4V177.0M585.4 178.4V173.4M585.4 178.4V177.2M585.8 178.4V178.1M586.0 178.4V178.2M586.2 178.4V177.6M586.2 178.4V177.1M586.8 178.4V178.3M586.9 178.4V175.0M587.1 178.4V177.7M587.1 178.4V177.8M587.3 178.4V175.6M587.4 178.4V177.3M587.7 178.4V177.3M588.2 178.4V175.8M588.4 178.4V177.9M588.5 178.4V177.5M589.3 178.4V177.1M589.4 178.4V173.7M589.8 178.4V177.2M590.0 178.4V177.6M590.2 178.4V175.1M590.4 178.4V177.1M591.0 178.4V177.3M591.3 178.4V177.7M592.1 178.4V177.9M592.1 178.4V178.1M592.1 178.4V177.5M592.3 178.4V178.3M592.5 178.4V178.1M592.8 178.4V174.2M593.1 178.4V177.3M593.1 178.4V174.8M593.6 178.4V175.9M593.6 178.4V176.3M594.0 178.4V176.6M594.2 178.4V177.1M594.3 178.4V174.2M594.6 178.4V178.4M594.7 178.4V176.9M594.7 178.4V178.2M594.8 178.4V178.3M595.2 178.4V176.6M595.5 178.4V177.9M595.6 178.4V177.1M595.6 178.4V176.9M595.7 178.4V178.4M595.7 178.4V177.3M596.1 178.4V178.4M596.8 178.4V177.5M597.0 178.4V177.9M597.5 178.4V177.8M598.0 178.4V176.8M598.4 178.4V176.0M598.4 178.4V177.0M598.5 178.4V177.8M598.6 178.4V176.2" stroke="#ff0000" stroke-width="0.5" stroke-opacity="0.85"/><line x1="584.3" y1="177.70000000000002" x2="598.8" y2="177.70000000000002" stroke="#ff0000" stroke-width="1.5"/><path d="M598.8 178.4V177.6M598.9 178.4V178.3M599.0 178.4V177.6M599.1 178.4V178.3M599.4 178.4V177.9M599.4 178.4V177.9M599.7 178.4V177.5M599.7 178.4V177.0M599.8 178.4V176.8M600.1 178.4V178.3M600.2 178.4V178.3M600.4 178.4V177.2M601.1 178.4V177.7M601.2 178.4V177.6M601.5 178.4V176.1M601.5 178.4V178.2M601.6 178.4V177.5M601.8 178.4V174.4M602.0 178.4V178.2M602.7 178.4V177.2M602.8 178.4V178.1M602.9 178.4V178.1M603.4 178.4V177.9M603.6 178.4V176.5M603.6 178.4V177.1M603.8 178.4V176.9M603.8 178.4V177.0M604.0 178.4V178.0M604.3 178.4V173.4M604.4 178.4V176.0M604.4 178.4V176.3M604.7 178.4V176.8M604.8 178.4V174.7M605.9 178.4V173.4M606.2 178.4V174.5M606.5 178.4V176.4M606.5 178.4V178.0M606.6 178.4V177.5M606.8 178.4V178.4M607.0 178.4V177.1M607.0 178.4V174.2M607.2 178.4V178.1M607.5 178.4V177.5M607.7 178.4V178.1M607.8 178.4V177.0M607.9 178.4V176.8M608.6 178.4V178.0M609.1 178.4V178.0M609.6 178.4V177.5M610.1 178.4V178.3M611.1 178.4V177.1M611.1 178.4V178.3M611.7 178.4V174.7M611.9 178.4V178.0" stroke="#0000ff" stroke-width="0.5" stroke-opacity="0.85"/><line x1="598.8" y1="177.70000000000002" x2="612.3" y2="177.70000000000002" stroke="#0000ff" stroke-width="1.5"/><path d="M612.6 178.4V175.9M613.0 178.4V177.5M613.4 178.4V177.9M613.5 178.4V175.8M613.5 178.4V178.2M613.6 178.4V176.9M613.7 178.4V177.6M614.0 178.4V177.6M614.2 178.4V177.2M615.5 178.4V177.7M615.8 178.4V177.0M615.8 178.4V177.6M616.3 178.4V177.8M616.7 178.4V176.4M616.8 178.4V176.8M617.0 178.4V177.4M617.1 178.4V177.2M617.4 178.4V177.0M617.6 178.4V175.9M617.7 178.4V177.7M617.9 178.4V178.3M617.9 178.4V178.0M618.5 178.4V176.3M618.6 178.4V177.8M618.6 178.4V177.0M618.9 178.4V177.0M619.2 178.4V177.9M619.9 178.4V177.6M620.0 178.4V177.2M620.3 178.4V176.9M620.8 178.4V177.5M621.4 178.4V175.8M621.4 178.4V175.2M621.4 178.4V177.9M622.1 178.4V174.6M622.4 178.4V178.3M622.6 178.4V174.3M622.6 178.4V176.6M622.9 178.4V178.4M623.0 178.4V177.9M623.0 178.4V178.2M623.2 178.4V174.5M623.5 178.4V174.0M623.6 178.4V177.6M623.7 178.4V176.2M624.5 178.4V177.0M624.6 178.4V173.4M624.6 178.4V177.7M624.6 178.4V178.0M624.7 178.4V176.5M624.8 178.4V177.9M625.0 178.4V177.5M625.1 178.4V176.4" stroke="#ff0000" stroke-width="0.5" stroke-opacity="0.85"/><line x1="612.3" y1="177.70000000000002" x2="625.6" y2="177.70000000000002" stroke="#ff0000" stroke-width="1.5"/><path d="M625.7 178.4V176.2M625.8 178.4V178.1M626.0 178.4V176.1M626.0 178.4V177.9M626.5 178.4V177.7M626.8 178.4V175.8M626.9 178.4V177.6M627.0 178.4V177.5M627.2 178.4V177.9M627.4 178.4V173.8M627.5 178.4V173.4M627.8 178.4V178.3M627.8 178.4V173.4M628.6 178.4V177.4M628.6 178.4V177.1M629.1 178.4V177.2M629.1 178.4V176.8M629.5 178.4V178.0M630.0 178.4V177.7M630.1 178.4V177.6M630.2 178.4V176.1M630.2 178.4V175.9M630.6 178.4V176.8M630.7 178.4V177.9M630.9 178.4V177.9M631.2 178.4V178.1M631.5 178.4V178.0M631.7 178.4V178.3M631.7 178.4V177.6M632.3 178.4V177.5M632.5 178.4V178.3M632.6 178.4V178.3M633.0 178.4V177.5M633.7 178.4V175.3M634.1 178.4V178.0M634.7 178.4V173.4M635.0 178.4V177.7M635.2 178.4V178.2M635.8 178.4V175.7M636.0 178.4V177.8M636.1 178.4V176.1M636.4 178.4V178.1M636.7 178.4V178.3M636.8 178.4V176.3M637.0 178.4V178.3M637.1 178.4V177.9M637.2 178.4V178.1M637.2 178.4V178.1M637.5 178.4V178.0M637.8 178.4V176.2M637.9 178.4V178.0M637.9 178.4V176.8" stroke="#0000ff" stroke-width="0.5" stroke-opacity="0.85"/><line x1="625.6" y1="177.70000000000002" x2="638.6" y2="177.70000000000002" stroke="#0000ff" stroke-width="1.5"/><path d="M638.7 178.4V177.7M639.0 178.4V177.6M639.0 178.4V173.4M639.5 178.4V177.3M639.5 178.4V174.7M639.8 178.4V176.6M639.8 178.4V177.8M640.3 178.4V177.8M640.5 178.4V177.6M640.6 178.4V178.4M640.7 178.4V176.9M640.7 178.4V177.9M640.7 178.4V175.8M641.4 178.4V178.2M641.5 178.4V178.1M641.7 178.4V177.0M642.0 178.4V176.2M642.1 178.4V178.0M642.3 178.4V176.9M642.8 178.4V173.4M643.0 178.4V178.2M643.4 178.4V177.0M643.4 178.4V175.6M643.6 178.4V178.3M644.0 178.4V175.9M644.6 178.4V176.4M644.8 178.4V177.5M645.0 178.4V177.8M645.2 178.4V176.7M645.3 178.4V175.2M645.4 178.4V177.2M645.5 178.4V178.0M645.8 178.4V177.5M646.0 178.4V176.8M646.3 178.4V178.3M646.7 178.4V178.4M647.6 178.4V177.5M647.7 178.4V176.2M648.3 178.4V177.4M648.4 178.4V177.6M648.7 178.4V177.5M648.7 178.4V178.1M648.8 178.4V177.8M649.7 178.4V175.4M650.1 178.4V176.6M650.1 178.4V178.3M650.4 178.4V177.3" stroke="#ff0000" stroke-width="0.5" stroke-opacity="0.85"/><line x1="638.6" y1="177.70000000000002" x2="650.5" y2="177.70000000000002" stroke="#ff0000" stroke-width="1.5"/><path d="M650.7 178.4V174.7M651.0 178.4V177.8M651.3 178.4V175.8M652.1 178.4V175.8M652.2 178.4V177.1M652.3 178.4V177.5M652.3 178.4V177.5M652.7 178.4V177.6M652.8 178.4V178.2M653.0 178.4V176.9M653.4 178.4V178.3M654.0 178.4V177.2M654.6 178.4V176.5M655.3 178.4V177.2M655.7 178.4V177.4M656.0 178.4V177.5M656.0 178.4V178.3M656.0 178.4V176.6M656.0 178.4V176.2M656.4 178.4V177.4M656.6 178.4V176.8M656.7 178.4V174.9M656.9 178.4V177.4M657.2 178.4V178.4M657.3 178.4V177.2M657.4 178.4V178.1M657.5 178.4V176.6M657.5 178.4V177.1M657.6 178.4V176.6M657.8 178.4V178.1M658.2 178.4V178.2M658.2 178.4V177.6M658.4 178.4V175.7M658.5 178.4V177.8M658.7 178.4V175.6M659.5 178.4V178.0M659.5 178.4V178.4M659.7 178.4V177.8M660.0 178.4V178.2M660.0 178.4V177.8M660.1 178.4V177.3" stroke="#0000ff" stroke-width="0.5" stroke-opacity="0.85"/><line x1="650.5" y1="177.70000000000002" x2="660.8" y2="177.70000000000002" stroke="#0000ff" stroke-width="1.5"/><path d="M660.9 178.4V178.3M661.0 178.4V177.6M661.6 178.4V176.4M661.7 178.4V175.7M661.9 178.4V178.1M662.2 178.4V175.4M662.8 178.4V177.3M662.8 178.4V177.3M662.9 178.4V178.1M663.2 178.4V173.4M663.6 178.4V175.8M663.7 178.4V176.6M664.0 178.4V176.6M664.2 178.4V178.2M664.2 178.4V176.7M664.3 178.4V177.5M664.7 178.4V178.1M665.2 178.4V177.3M665.3 178.4V176.3M665.6 178.4V178.0M666.1 178.4V177.9M666.4 178.4V177.8M666.4 178.4V175.9M666.7 178.4V176.2M667.2 178.4V178.2M667.3 178.4V177.1M667.3 178.4V176.2M668.2 178.4V177.6M668.6 178.4V176.3M668.7 178.4V175.3M668.8 178.4V177.1M669.0 178.4V177.5M669.2 178.4V176.9M669.3 178.4V176.9M669.5 178.4V177.2M669.5 178.4V177.7" stroke="#ff0000" stroke-width="0.5" stroke-opacity="0.85"/><line x1="660.8" y1="177.70000000000002" x2="669.8" y2="177.70000000000002" stroke="#ff0000" stroke-width="1.5"/><path d="M669.8 178.4V177.8M670.3 178.4V177.5M670.4 178.4V176.8M670.6 178.4V176.7M670.7 178.4V177.6M671.1 178.4V177.0M671.9 178.4V176.2M672.1 178.4V177.4M672.2 178.4V178.3M672.2 178.4V176.4M672.3 178.4V177.1M672.7 178.4V177.5M673.5 178.4V178.3M673.8 178.4V178.1M673.9 178.4V177.4M674.2 178.4V177.1M674.2 178.4V177.6M674.5 178.4V177.1M674.6 178.4V176.7M674.7 178.4V176.2M674.9 178.4V175.3M675.1 178.4V176.3M675.1 178.4V173.4M675.2 178.4V178.2M676.5 178.4V178.1M676.8 178.4V178.3M676.9 178.4V177.7M676.9 178.4V177.5" stroke="#0000ff" stroke-width="0.5" stroke-opacity="0.85"/><line x1="669.8" y1="177.70000000000002" x2="677.0" y2="177.70000000000002" stroke="#0000ff" stroke-width="1.5"/><path d="M677.1 178.4V177.9M677.2 178.4V173.6M677.7 178.4V175.7M678.2 178.4V175.2M678.2 178.4V178.4M678.2 178.4V177.0M678.3 178.4V177.8M678.9 178.4V177.5M679.1 178.4V177.3M679.2 178.4V176.8M679.3 178.4V178.1M679.4 178.4V178.4M679.5 178.4V176.0M679.5 178.4V177.8M679.7 178.4V175.4M679.8 178.4V177.8M680.8 178.4V178.3M680.9 178.4V178.3M681.5 178.4V176.9M681.8 178.4V176.1M682.0 178.4V177.1M682.3 178.4V174.2M682.5 178.4V178.1M682.7 178.4V178.3M683.1 178.4V176.8" stroke="#ff0000" stroke-width="0.5" stroke-opacity="0.85"/><line x1="677.0" y1="177.70000000000002" x2="683.4" y2="177.70000000000002" stroke="#ff0000" stroke-width="1.5"/><line x1="253.7" y1="178.4" x2="253.7" y2="173.4" stroke="#2020ff" stroke-width="0.6"/><line x1="297" y1="178.4" x2="297" y2="173.9" stroke="#ff2020" stroke-width="0.6"/><line x1="646" y1="178.4" x2="646" y2="172.70000000000002" stroke="#ff2020" stroke-width="0.6"/><line x1="520.8" y1="178.4" x2="520.8" y2="173.20000000000002" stroke="#ff2020" stroke-width="0.6"/><line x1="449" y1="178.4" x2="449" y2="174.9" stroke="#2020ff" stroke-width="0.6"/>
<rect x="242.5" y="165" width="440.9" height="13.400000000000006" fill="none" stroke="#a9a9a9" stroke-width="1.2"/>
<text x="240.8" y="167.67" font-size="6.3" fill="#333" text-anchor="end" textLength="11.98" lengthAdjust="spacingAndGlyphs">0.002</text>
<text x="240.8" y="174.67" font-size="6.3" fill="#333" text-anchor="end" textLength="11.98" lengthAdjust="spacingAndGlyphs">0.001</text>
<text x="240.8" y="181.07" font-size="6.3" fill="#333" text-anchor="end" textLength="2.66" lengthAdjust="spacingAndGlyphs">0</text>
<text x="259.4" y="183.3" font-size="4.6" fill="#333" text-anchor="middle" textLength="2.10" lengthAdjust="spacingAndGlyphs">1</text>
<text x="295" y="183.3" font-size="4.6" fill="#333" text-anchor="middle" textLength="2.10" lengthAdjust="spacingAndGlyphs">2</text>
<text x="330" y="183.3" font-size="4.6" fill="#333" text-anchor="middle" textLength="2.10" lengthAdjust="spacingAndGlyphs">3</text>
<text x="361" y="183.3" font-size="4.6" fill="#333" text-anchor="middle" textLength="2.10" lengthAdjust="spacingAndGlyphs">4</text>
<text x="391" y="183.3" font-size="4.6" fill="#333" text-anchor="middle" textLength="2.10" lengthAdjust="spacingAndGlyphs">5</text>
<text x="419.6" y="183.3" font-size="4.6" fill="#333" text-anchor="middle" textLength="2.10" lengthAdjust="spacingAndGlyphs">6</text>
<text x="447.4" y="183.3" font-size="4.6" fill="#333" text-anchor="middle" textLength="2.10" lengthAdjust="spacingAndGlyphs">7</text>
<text x="472.4" y="183.3" font-size="4.6" fill="#333" text-anchor="middle" textLength="2.10" lengthAdjust="spacingAndGlyphs">8</text>
<text x="494" y="183.3" font-size="4.6" fill="#333" text-anchor="middle" textLength="2.10" lengthAdjust="spacingAndGlyphs">9</text>
<text x="514.4" y="183.3" font-size="4.6" fill="#333" text-anchor="middle" textLength="4.20" lengthAdjust="spacingAndGlyphs">10</text>
<text x="536.4" y="183.3" font-size="4.6" fill="#333" text-anchor="middle" textLength="3.92" lengthAdjust="spacingAndGlyphs">11</text>
<text x="558" y="183.3" font-size="4.6" fill="#333" text-anchor="middle" textLength="4.20" lengthAdjust="spacingAndGlyphs">12</text>
<text x="576.6" y="183.3" font-size="4.6" fill="#333" text-anchor="middle" textLength="4.20" lengthAdjust="spacingAndGlyphs">13</text>
<text x="592" y="183.3" font-size="4.6" fill="#333" text-anchor="middle" textLength="4.20" lengthAdjust="spacingAndGlyphs">14</text>
<text x="605.6" y="183.3" font-size="4.6" fill="#333" text-anchor="middle" textLength="4.20" lengthAdjust="spacingAndGlyphs">15</text>
<text x="619" y="183.3" font-size="4.6" fill="#333" text-anchor="middle" textLength="4.20" lengthAdjust="spacingAndGlyphs">16</text>
<text x="632.3" y="183.3" font-size="4.6" fill="#333" text-anchor="middle" textLength="4.20" lengthAdjust="spacingAndGlyphs">17</text>
<text x="645" y="183.3" font-size="4.6" fill="#333" text-anchor="middle" textLength="4.20" lengthAdjust="spacingAndGlyphs">18</text>
<text x="656" y="183.3" font-size="4.6" fill="#333" text-anchor="middle" textLength="4.20" lengthAdjust="spacingAndGlyphs">19</text>
<text x="665.6" y="183.3" font-size="4.6" fill="#333" text-anchor="middle" textLength="4.20" lengthAdjust="spacingAndGlyphs">20</text>
<text x="674" y="183.3" font-size="4.6" fill="#333" text-anchor="middle" textLength="4.20" lengthAdjust="spacingAndGlyphs">21</text>
<text x="680" y="183.3" font-size="4.6" fill="#333" text-anchor="middle" textLength="4.20" lengthAdjust="spacingAndGlyphs">22</text>
<text x="223.6" y="171.8" font-size="7.4" fill="#222" text-anchor="middle" transform="rotate(-90 223.6 171.8)" dy="2.6">BMI</text>
<rect x="210.5" y="195.5" width="211" height="200" fill="none" stroke="#f3f3f3" stroke-width="1"/>
<rect x="473.5" y="201.5" width="193.5" height="169.3" fill="none" stroke="#f3f3f3" stroke-width="1"/>
<text x="219" y="215.6" font-size="18" font-weight="bold" fill="#111">c</text>
<line x1="250" y1="210.9" x2="250" y2="348.9" stroke="#959595" stroke-width="1.05" fill="none"/>
<line x1="245.5" y1="210.9" x2="250" y2="210.9" stroke="#959595" stroke-width="1.05" fill="none"/>
<text x="240.5" y="210.9" font-size="7" fill="#222" text-anchor="middle" transform="rotate(-90 240.5 210.9)">0.04</text>
<line x1="245.5" y1="245.4" x2="250" y2="245.4" stroke="#959595" stroke-width="1.05" fill="none"/>
<text x="240.5" y="245.4" font-size="7" fill="#222" text-anchor="middle" transform="rotate(-90 240.5 245.4)">0.02</text>
<line x1="245.5" y1="279.9" x2="250" y2="279.9" stroke="#959595" stroke-width="1.05" fill="none"/>
<text x="240.5" y="279.9" font-size="7" fill="#222" text-anchor="middle" transform="rotate(-90 240.5 279.9)">0.00</text>
<line x1="245.5" y1="314.4" x2="250" y2="314.4" stroke="#959595" stroke-width="1.05" fill="none"/>
<text x="240.5" y="314.4" font-size="7" fill="#222" text-anchor="middle" transform="rotate(-90 240.5 314.4)">-0.02</text>
<line x1="245.5" y1="348.9" x2="250" y2="348.9" stroke="#959595" stroke-width="1.05" fill="none"/>
<text x="240.5" y="348.9" font-size="7" fill="#222" text-anchor="middle" transform="rotate(-90 240.5 348.9)">-0.04</text>
<line x1="283.0" y1="357.7" x2="406.9" y2="357.7" stroke="#959595" stroke-width="1.05" fill="none"/>
<line x1="283.0" y1="357.7" x2="283.0" y2="361.5" stroke="#959595" stroke-width="1.05" fill="none"/>
<text x="283.0" y="370.3" font-size="7" fill="#222" text-anchor="middle">-0.05</text>
<line x1="324.3" y1="357.7" x2="324.3" y2="361.5" stroke="#959595" stroke-width="1.05" fill="none"/>
<text x="324.3" y="370.3" font-size="7" fill="#222" text-anchor="middle">0.00</text>
<line x1="365.6" y1="357.7" x2="365.6" y2="361.5" stroke="#959595" stroke-width="1.05" fill="none"/>
<text x="365.6" y="370.3" font-size="7" fill="#222" text-anchor="middle">0.05</text>
<line x1="406.9" y1="357.7" x2="406.9" y2="361.5" stroke="#959595" stroke-width="1.05" fill="none"/>
<text x="406.9" y="370.3" font-size="7" fill="#222" text-anchor="middle">0.10</text>
<text x="316.9" y="382.5" font-size="7.2" fill="#333">BMI (<tspan font-style="italic" font-size="8" dx="0.3">b</tspan><tspan font-size="5.6" dx="1.2" dy="1.9" font-style="italic" letter-spacing="0.9">zx</tspan><tspan dy="-1.9" dx="0.2">)</tspan></text>
<text x="221.3" y="282" font-size="7.2" fill="#333" text-anchor="middle" transform="rotate(-90 221.3 282)">DEP (<tspan font-style="italic" font-size="8" dx="0.3">b</tspan><tspan font-size="5.6" dx="1.2" dy="1.9" font-style="italic" letter-spacing="0.9">zy</tspan><tspan dy="-1.9" dx="0.2">)</tspan></text>
<line x1="250" y1="299.6" x2="419" y2="254.5" stroke="#808080" stroke-width="0.65" stroke-dasharray="1.6,1.1"/>
<g stroke="#b8860b" stroke-width="0.8" fill="none"><path d="M344.9 280.6H351.4M348.1 266.9V294.3M350.0 268.6H352.9M351.5 250.8V286.3M351.9 260.1H355.5M353.7 244.2V276.0M345.6 275.8H348.1M346.8 264.2V287.3M354.3 262.8H358.4M356.3 253.1V272.4M351.7 281.3H359.6M355.7 264.3V298.2M345.6 267.8H349.2M347.4 250.0V285.6M343.4 273.9H350.6M347.0 254.2V293.5M350.6 238.7H360.6M355.6 218.7V258.7M350.0 270.0H356.0M353.0 242.0V298.0" stroke-opacity="0.4"/><path d="M308.4 279.1H311.9M310.1 269.9V288.4M307.2 297.3H311.6M309.4 290.2V304.5M309.8 282.9H313.7M311.8 263.0V302.9M306.9 278.3H309.3M308.1 268.9V287.6M305.8 279.1H307.1M306.5 258.5V299.6M306.1 286.4H310.6M308.3 271.4V301.3M303.9 262.7H306.9M305.4 243.2V282.1M308.8 280.6H313.1M311.0 264.7V296.6M306.3 301.1H309.9M308.1 290.9V311.4M309.3 285.3H310.4M309.9 277.1V293.5M306.2 299.0H310.7M308.4 288.5V309.4M306.5 287.6H310.2M308.4 271.5V303.6M310.0 290.5H314.8M312.4 271.8V309.2M309.7 294.1H312.1M310.9 285.2V302.9M307.2 290.2H308.8M308.0 277.0V303.4M305.7 291.3H308.0M306.9 278.5V304.1M313.1 296.2H315.6M314.4 285.6V306.7M306.8 294.4H308.7M307.8 286.3V302.5M313.7 280.8H317.3M315.5 264.8V296.9M306.8 287.2H311.7M309.3 276.3V298.1M305.6 288.9H309.6M307.6 276.0V301.7M306.9 303.6H310.7M308.8 296.5V310.8M307.2 292.1H310.4M308.8 282.6V301.6M313.3 288.7H316.6M314.9 281.5V295.9M306.0 285.4H309.1M307.5 269.4V301.4M310.3 278.0H312.1M311.2 262.5V293.5M299.3 283.1H302.7M301.0 263.3V302.9M307.9 290.3H310.1M309.0 276.6V304.1M309.3 293.1H312.2M310.7 275.1V311.1M301.7 288.6H304.8M303.3 269.6V307.6M307.5 273.2H310.8M309.2 258.8V287.5M308.5 282.9H311.6M310.1 264.9V300.8M306.7 285.9H310.0M308.3 274.3V297.5M304.6 284.3H309.5M307.0 267.7V300.8M306.1 288.6H309.0M307.6 278.1V299.2M311.9 290.5H315.0M313.5 282.7V298.4M304.8 298.2H308.0M306.4 285.1V311.3M308.7 279.6H309.8M309.3 261.9V297.2M307.0 275.7H308.7M307.9 257.3V294.1M303.8 307.0H307.7M305.8 297.4V316.6M304.6 298.4H308.5M306.6 279.2V317.7M305.5 296.7H306.9M306.2 284.0V309.4M305.0 282.2H309.8M307.4 268.4V296.1M303.5 283.9H305.0M304.3 267.0V300.8M291.3 290.1H295.6M293.5 275.2V305.0M292.5 299.1H294.7M293.6 280.1V318.0M294.5 297.2H300.9M297.7 283.8V310.7M335.2 269.8H338.9M337.0 259.8V279.9M334.9 276.0H338.2M336.6 260.8V291.2M339.0 280.6H343.1M341.0 263.5V297.6M336.0 273.6H340.9M338.5 258.2V289.1M342.6 275.3H345.0M343.8 259.3V291.3M339.6 293.2H344.0M341.8 279.7V306.8M340.8 269.1H343.8M342.3 260.2V278.0M338.1 284.8H340.5M339.3 268.3V301.2M335.9 274.7H337.6M336.8 261.8V287.5M339.6 280.7H341.5M340.5 270.9V290.5M337.0 274.2H340.1M338.5 266.5V281.9M340.4 283.5H343.2M341.8 267.2V299.9M343.3 275.0H346.5M344.9 258.2V291.9M336.5 270.9H338.4M337.5 262.5V279.2M340.1 265.7H344.1M342.1 248.2V283.2M336.6 282.1H340.5M338.5 266.5V297.8M340.7 286.1H343.6M342.2 273.3V298.8M340.7 270.6H343.4M342.1 257.0V284.1M340.9 285.6H343.6M342.2 271.4V299.8M338.8 274.9H343.1M341.0 263.1V286.8M338.0 276.0H340.2M339.1 260.2V291.8M341.8 290.2H346.5M344.1 274.3V306.2M335.0 276.4H339.4M337.2 263.2V289.6M337.2 282.2H340.9M339.0 271.6V292.7M337.2 273.8H338.6M337.9 256.4V291.1M337.8 263.6H341.2M339.5 255.0V272.2M332.1 287.5H333.7M332.9 273.6V301.3M338.7 271.0H339.7M339.2 254.8V287.3M339.2 275.2H342.8M341.0 265.3V285.1M338.2 279.6H339.6M338.9 262.1V297.2M334.5 275.8H335.9M335.2 262.5V289.2M342.5 266.9H344.4M343.4 257.8V276.1M337.0 276.4H341.2M339.1 263.1V289.6M344.2 282.1H351.7M348.0 262.7V301.6M352.3 267.9H357.3M354.8 257.8V277.9M353.4 268.6H355.4M354.4 255.9V281.4M350.7 268.4H355.7M353.2 254.0V282.7M272.2 284.0H279.2M275.7 268.0V300.0M277.3 291.7H281.3M279.3 277.2V306.2M286.0 315.0H294.0M290.0 295.0V335.0M291.3 291.0H295.3M293.3 270.0V312.0M354.5 307.6H364.5M359.5 285.6V329.6M401.0 287.7H411.0M406.0 266.2V309.2" stroke-opacity="0.6"/><path d="M314.3 285.9H316.7M315.5 273.9V297.9M308.0 285.2H311.5M309.7 273.5V296.9M307.0 286.5H308.9M307.9 275.0V298.0M313.0 298.8H314.8M313.9 285.5V312.1M308.9 281.5H310.8M309.9 261.8V301.2M304.2 279.4H308.5M306.4 266.1V292.8M304.0 283.7H308.7M306.4 276.4V291.0M308.8 289.1H313.2M311.0 280.0V298.2M311.5 269.4H313.2M312.3 256.7V282.1M306.6 282.4H307.9M307.2 267.2V297.5M303.4 282.6H304.5M303.9 272.7V292.6M309.0 287.9H313.5M311.2 278.9V296.9M308.0 284.9H309.0M308.5 269.0V300.8M308.8 296.3H310.9M309.8 280.5V312.0M309.9 273.9H313.7M311.8 258.1V289.7M308.0 289.7H310.2M309.1 270.5V308.8M309.6 285.2H310.7M310.1 272.7V297.7M304.0 270.3H306.2M305.1 252.0V288.7M307.1 271.3H309.2M308.2 255.8V286.8M307.8 291.7H309.7M308.7 272.3V311.1M310.7 295.7H313.5M312.1 284.7V306.8M307.8 297.5H312.0M309.9 289.8V305.2M308.1 290.2H310.8M309.5 271.9V308.4M310.7 276.9H313.3M312.0 264.0V289.8M306.8 284.0H309.4M308.1 272.8V295.2M311.2 284.7H314.5M312.9 265.6V303.9M302.7 287.9H306.8M304.7 274.5V301.2M305.7 298.8H309.2M307.4 279.6V318.1M313.0 272.1H318.0M315.5 263.8V280.3M301.9 285.7H304.3M303.1 273.2V298.2M302.2 296.5H307.0M304.6 289.1V303.8M306.6 294.0H310.4M308.5 273.4V314.6M306.9 277.0H308.6M307.8 256.2V297.8M309.1 298.3H310.4M309.8 281.6V315.0M310.8 279.1H314.5M312.6 268.7V289.5M310.8 272.0H313.7M312.2 259.7V284.3M308.2 280.5H312.9M310.6 264.0V296.9M310.6 276.0H315.3M313.0 257.8V294.1M305.1 284.8H309.4M307.2 274.6V294.9M311.0 275.8H312.7M311.9 261.6V289.9M302.7 292.6H305.3M304.0 272.0V313.3M305.9 284.2H309.6M307.7 273.1V295.3M309.3 295.2H313.9M311.6 280.8V309.7M306.4 298.3H309.0M307.7 277.6V319.0M301.6 290.1H306.5M304.0 272.7V307.4M305.1 297.1H307.3M306.2 285.3V308.9M310.3 290.2H312.6M311.5 277.7V302.7M312.2 267.7H314.6M313.4 256.6V278.7M302.6 291.0H306.6M304.6 275.9V306.0M305.6 277.6H307.3M306.4 259.0V296.2M304.8 284.9H309.0M306.9 277.1V292.7M309.2 294.4H311.3M310.2 282.8V306.0M309.7 292.5H312.3M311.0 282.5V302.6M304.9 283.3H308.2M306.5 263.3V303.4M307.2 269.0H311.5M309.3 255.5V282.5M297.9 293.4H304.8M301.3 280.1V306.7M296.7 305.2H299.9M298.3 283.4V327.0M298.6 284.7H304.8M301.7 264.6V304.7M297.0 300.3H303.8M300.4 288.3V312.2M291.4 287.5H296.6M294.0 267.9V307.2M292.7 308.4H298.2M295.5 285.5V331.2M336.8 263.3H339.9M338.3 246.5V280.1M334.6 277.1H338.7M336.7 261.3V292.9M334.1 263.7H338.6M336.3 247.9V279.5M339.7 264.0H344.6M342.2 249.3V278.7M336.8 280.7H338.1M337.5 266.0V295.5M340.6 264.6H343.6M342.1 255.6V273.5M336.2 281.3H339.6M337.9 269.7V292.8M338.3 261.7H341.2M339.8 250.2V273.2M335.3 270.9H339.5M337.4 258.8V283.1M335.4 272.2H339.4M337.4 256.6V287.9M339.1 289.8H343.3M341.2 281.3V298.3M338.5 264.3H343.4M340.9 252.8V275.7M334.8 286.4H339.7M337.3 272.0V300.9M335.1 268.8H338.3M336.7 252.0V285.6M337.6 289.7H341.4M339.5 281.5V297.8M339.0 270.4H340.2M339.6 254.9V285.8M336.0 275.2H340.0M338.0 259.7V290.7M331.8 276.4H336.3M334.1 263.4V289.4M337.1 280.4H339.1M338.1 269.6V291.2M335.4 264.4H337.5M336.4 254.2V274.6M333.8 267.8H337.7M335.7 254.8V280.9M333.8 277.1H335.1M334.4 261.0V293.2M336.4 263.5H337.9M337.2 246.0V281.0M340.4 270.6H343.6M342.0 255.4V285.8M337.8 274.1H340.8M339.3 256.7V291.5M338.3 278.0H341.0M339.7 265.4V290.5M339.8 288.8H343.1M341.5 276.4V301.2M336.0 288.2H339.2M337.6 274.4V301.9M336.1 281.2H339.4M337.7 273.3V289.1M337.0 272.5H340.5M338.8 261.0V283.9M340.4 288.8H345.4M342.9 271.2V306.5M337.7 271.0H340.9M339.3 256.9V285.1M338.0 294.3H341.0M339.5 282.2V306.5M344.8 283.2H347.0M345.9 274.0V292.4M336.6 276.7H341.3M338.9 266.2V287.3M332.3 285.5H336.1M334.2 276.2V294.9M335.6 271.6H338.1M336.9 262.0V281.2M335.9 290.6H340.4M338.1 278.6V302.6M338.5 282.2H342.1M340.3 274.5V289.8M339.8 265.8H344.5M342.1 255.6V276.1M341.7 268.2H345.4M343.6 252.5V283.8M338.2 280.3H340.6M339.4 268.7V291.8M337.3 283.1H340.6M339.0 267.2V298.9M340.0 280.2H344.1M342.0 264.8V295.7M338.6 278.5H343.1M340.8 261.1V296.0M336.9 268.3H339.6M338.2 259.4V277.1M335.5 276.8H339.1M337.3 265.4V288.3M338.2 278.6H340.8M339.5 268.7V288.5M342.0 275.3H345.9M343.9 267.9V282.8M339.3 274.4H341.3M340.3 260.1V288.6M336.0 271.5H337.5M336.8 262.3V280.8M335.5 278.9H337.8M336.7 266.1V291.8M336.5 274.8H337.7M337.1 259.8V289.9M336.9 287.5H339.7M338.3 271.3V303.8M333.6 286.7H337.4M335.5 279.4V294.1M336.5 264.5H340.3M338.4 254.0V275.1M335.7 279.5H337.8M336.8 266.5V292.6M335.7 284.5H337.5M336.6 275.3V293.8M345.0 288.2H347.1M346.0 277.7V298.7M334.5 277.9H339.0M336.7 267.3V288.6M340.7 277.8H342.7M341.7 264.3V291.3M336.4 274.2H338.8M337.6 262.7V285.6M332.9 262.3H337.2M335.0 254.0V270.6M257.7 295.0H263.7M260.7 285.0V305.0M255.7 331.7H265.7M260.7 311.7V351.7M265.0 268.3H270.0M267.5 259.3V277.3M286.0 266.7H294.0M290.0 250.7V282.7M294.3 322.0H302.3M298.3 301.0V343.0M304.0 262.0H308.0M306.0 240.0V284.0M345.6 273.0H349.6M347.6 233.0V313.0M293.0 300.0H299.0M296.0 270.0V330.0M289.0 285.0H295.0M292.0 263.0V307.0" stroke-opacity="0.8"/><path d="M305.7 303.9H307.9M306.8 290.1V317.8M308.6 276.7H311.4M310.0 262.5V291.0M308.5 276.8H310.2M309.3 260.3V293.4M303.7 279.8H306.0M304.8 265.9V293.8M312.1 279.9H313.3M312.7 269.4V290.3M309.3 286.9H313.8M311.6 276.4V297.4M307.2 278.7H310.1M308.6 262.9V294.4M302.3 284.7H307.2M304.7 263.7V305.6M306.6 288.1H310.9M308.8 267.9V308.3M308.0 291.1H312.7M310.4 273.8V308.3M312.0 290.1H315.5M313.7 274.7V305.5M306.6 271.9H310.0M308.3 255.5V288.3M306.2 289.8H308.5M307.4 280.8V298.8M312.8 299.0H314.2M313.5 281.4V316.6M301.0 298.4H304.8M302.9 289.2V307.6M307.6 294.6H310.2M308.9 274.4V314.7M309.4 295.0H311.6M310.5 287.6V302.5M303.0 300.7H304.6M303.8 287.1V314.2M307.4 277.6H310.6M309.0 267.0V288.1M305.2 278.8H308.1M306.7 264.3V293.2M310.5 296.6H312.9M311.7 279.5V313.7M305.5 279.1H309.0M307.2 263.9V294.3M310.2 285.9H313.7M312.0 266.2V305.6M307.3 290.8H308.3M307.8 277.2V304.5M307.4 281.4H312.2M309.8 264.3V298.4M307.8 281.6H311.8M309.8 269.4V293.8M307.8 273.2H312.4M310.1 265.8V280.5M311.1 280.4H312.3M311.7 269.5V291.4M301.6 292.1H303.2M302.4 279.8V304.3M310.2 288.4H311.2M310.7 270.7V306.1M308.5 303.7H311.7M310.1 284.7V322.7M296.1 309.8H300.0M298.1 294.4V325.2M337.0 277.3H340.3M338.6 267.3V287.3M341.1 272.5H342.6M341.9 264.8V280.2M335.1 267.4H339.6M337.4 259.6V275.3M333.0 267.0H337.5M335.2 252.8V281.1M340.9 270.4H342.1M341.5 259.6V281.1M337.3 276.9H340.0M338.6 262.5V291.3M339.4 274.9H343.1M341.2 265.7V284.0M332.1 285.2H334.3M333.2 277.8V292.6M335.3 268.6H336.4M335.9 254.9V282.4M337.7 280.5H339.0M338.3 267.1V293.9M334.5 272.5H337.8M336.1 264.9V280.2M340.1 280.6H341.5M340.8 267.6V293.6M337.6 280.9H338.9M338.2 267.9V293.9M336.8 276.9H339.6M338.2 267.1V286.7M341.7 266.2H343.4M342.5 255.2V277.3M337.6 278.7H341.7M339.6 267.1V290.3M336.9 277.0H339.2M338.1 263.1V291.0M339.3 288.0H341.5M340.4 273.8V302.2M335.5 280.8H338.5M337.0 266.3V295.4M336.0 261.4H337.8M336.9 253.9V268.9M337.9 273.7H340.6M339.2 263.5V284.0M339.9 270.7H340.9M340.4 257.5V284.0M336.6 272.8H337.8M337.2 256.0V289.6M332.1 274.8H336.4M334.2 267.4V282.1" stroke-opacity="1.0"/></g>
<line x1="488" y1="220.6" x2="488" y2="357.8" stroke="#959595" stroke-width="1.05" fill="none"/>
<line x1="484.5" y1="220.6" x2="488" y2="220.6" stroke="#959595" stroke-width="1.05" fill="none"/>
<text x="482.5" y="220.6" font-size="7" fill="#222" text-anchor="middle" transform="rotate(-90 482.5 220.6)">0.02</text>
<line x1="484.5" y1="254.9" x2="488" y2="254.9" stroke="#959595" stroke-width="1.05" fill="none"/>
<text x="482.5" y="254.9" font-size="7" fill="#222" text-anchor="middle" transform="rotate(-90 482.5 254.9)">0.01</text>
<line x1="484.5" y1="289.2" x2="488" y2="289.2" stroke="#959595" stroke-width="1.05" fill="none"/>
<text x="482.5" y="289.2" font-size="7" fill="#222" text-anchor="middle" transform="rotate(-90 482.5 289.2)">0.00</text>
<line x1="484.5" y1="323.5" x2="488" y2="323.5" stroke="#959595" stroke-width="1.05" fill="none"/>
<text x="482.5" y="323.5" font-size="7" fill="#222" text-anchor="middle" transform="rotate(-90 482.5 323.5)">-0.01</text>
<line x1="484.5" y1="357.8" x2="488" y2="357.8" stroke="#959595" stroke-width="1.05" fill="none"/>
<text x="482.5" y="357.8" font-size="7" fill="#222" text-anchor="middle" transform="rotate(-90 482.5 357.8)">-0.02</text>
<line x1="494.8" y1="359" x2="656.9" y2="359" stroke="#959595" stroke-width="1.05" fill="none"/>
<line x1="494.8" y1="359" x2="494.8" y2="362.5" stroke="#959595" stroke-width="1.05" fill="none"/>
<text x="494.8" y="368.3" font-size="7" fill="#222" text-anchor="middle">-0.04</text>
<line x1="518.0" y1="359" x2="518.0" y2="362.5" stroke="#959595" stroke-width="1.05" fill="none"/>
<text x="518.0" y="368.3" font-size="7" fill="#222" text-anchor="middle">-0.03</text>
<line x1="541.1" y1="359" x2="541.1" y2="362.5" stroke="#959595" stroke-width="1.05" fill="none"/>
<text x="541.1" y="368.3" font-size="7" fill="#222" text-anchor="middle">-0.02</text>
<line x1="564.3" y1="359" x2="564.3" y2="362.5" stroke="#959595" stroke-width="1.05" fill="none"/>
<text x="564.3" y="368.3" font-size="7" fill="#222" text-anchor="middle">-0.01</text>
<line x1="587.4" y1="359" x2="587.4" y2="362.5" stroke="#959595" stroke-width="1.05" fill="none"/>
<text x="587.4" y="368.3" font-size="7" fill="#222" text-anchor="middle">0.00</text>
<line x1="610.6" y1="359" x2="610.6" y2="362.5" stroke="#959595" stroke-width="1.05" fill="none"/>
<text x="610.6" y="368.3" font-size="7" fill="#222" text-anchor="middle">0.01</text>
<line x1="633.7" y1="359" x2="633.7" y2="362.5" stroke="#959595" stroke-width="1.05" fill="none"/>
<text x="633.7" y="368.3" font-size="7" fill="#222" text-anchor="middle">0.02</text>
<line x1="656.9" y1="359" x2="656.9" y2="362.5" stroke="#959595" stroke-width="1.05" fill="none"/>
<text x="656.9" y="368.3" font-size="7" fill="#222" text-anchor="middle">0.03</text>
<text x="556.2" y="385.8" font-size="7.2" fill="#333">DEP (<tspan font-style="italic" font-size="8" dx="0.3">b</tspan><tspan font-size="5.6" dx="1.2" dy="1.9" font-style="italic" letter-spacing="0.9">zx</tspan><tspan dy="-1.9" dx="0.2">)</tspan></text>
<text x="446.4" y="276.5" font-size="7.2" fill="#333" text-anchor="middle" transform="rotate(-90 446.4 276.5)">BMI (<tspan font-style="italic" font-size="8" dx="0.3">b</tspan><tspan font-size="5.6" dx="1.2" dy="1.9" font-style="italic" letter-spacing="0.9">zy</tspan><tspan dy="-1.9" dx="0.2">)</tspan></text>
<line x1="488.7" y1="313" x2="667" y2="270.2" stroke="#808080" stroke-width="0.65" stroke-dasharray="1.6,1.1"/>
<g stroke="#b8860b" stroke-width="0.8" fill="none"><path d="M556.8 270.9H566.6M561.7 260.9V280.9M560.8 319.0H572.4M566.6 307.5V330.5M558.8 286.6H571.3M565.1 275.6V297.7M550.8 310.1H574.8M562.8 299.7V320.5M557.2 302.1H569.7M563.4 291.1V313.1M557.3 320.7H574.2M565.8 310.8V330.6M562.6 276.5H575.9M569.2 267.8V285.2M556.3 316.6H562.6M559.5 305.1V328.1M558.7 300.7H566.3M562.5 296.9V304.5M558.9 260.9H577.0M568.0 251.4V270.4M548.7 308.1H573.3M561.0 302.0V314.2M559.1 317.6H569.6M564.3 310.5V324.8M553.1 283.0H569.7M561.4 275.8V290.2M557.2 288.5H566.5M561.9 281.4V295.5M604.6 264.3H627.6M616.1 256.8V271.8M602.4 265.8H620.5M611.5 259.6V271.9M606.8 269.1H617.8M612.3 264.7V273.5M603.4 265.7H610.7M607.1 257.3V274.0M609.5 280.9H626.9M618.2 276.3V285.5M604.1 273.5H628.9M616.5 265.0V282.0" stroke-opacity="0.2"/><path d="M555.6 322.5H573.8M564.7 314.7V330.3M551.0 285.8H565.6M558.3 278.5V293.1M551.5 315.1H576.1M563.8 305.3V324.9M554.1 302.7H568.4M561.3 296.8V308.6M557.1 289.7H570.7M563.9 284.7V294.8M551.8 286.4H573.2M562.5 281.9V290.8M551.2 302.8H564.3M557.7 292.8V312.8M555.5 327.5H566.2M560.8 315.9V339.1M548.9 289.5H566.0M557.4 285.3V293.6M554.7 283.6H576.1M565.4 271.0V296.3M556.3 297.1H563.4M559.8 286.3V307.9M555.6 312.3H568.9M562.2 304.2V320.5M562.0 295.9H570.6M566.3 285.7V306.1M545.5 287.2H567.9M556.7 278.1V296.2M549.2 309.3H569.0M559.1 306.2V312.4M554.8 324.0H577.1M565.9 318.7V329.4M553.8 315.2H571.4M562.6 304.6V325.7M555.2 289.2H565.5M560.3 283.6V294.7M553.6 312.5H571.3M562.5 299.6V325.3M557.8 301.0H572.6M565.2 296.8V305.2M561.8 310.0H568.4M565.1 305.8V314.3M553.6 292.7H576.9M565.3 283.3V302.1M553.5 292.0H566.2M559.8 282.3V301.8M554.1 295.8H562.2M558.2 290.1V301.6M554.6 301.6H573.5M564.1 295.7V307.5M555.8 311.8H574.3M565.1 300.4V323.2M555.7 281.0H561.9M558.8 269.8V292.2M554.6 288.5H569.3M561.9 277.0V300.1M554.2 293.8H568.9M561.5 282.0V305.6M558.8 296.7H572.1M565.5 290.5V302.8M560.2 298.3H569.0M564.6 294.3V302.4M555.1 306.0H565.8M560.5 293.8V318.3M559.9 268.7H569.0M564.5 260.3V277.0M558.3 282.5H570.5M564.4 272.6V292.4M552.8 302.3H569.8M561.3 296.1V308.5M557.4 314.1H574.2M565.8 301.3V326.9M554.4 285.8H569.8M562.1 277.0V294.6M560.2 316.8H570.2M565.2 313.4V320.2M553.7 318.2H565.4M559.5 306.9V329.6M547.8 280.3H573.1M560.4 270.4V290.2M603.6 287.2H613.2M608.4 280.5V294.0M600.6 271.0H619.2M609.9 265.3V276.7M605.7 263.8H631.7M618.7 252.9V274.7M602.5 306.2H610.3M606.4 298.6V313.8M604.9 261.6H616.7M610.8 257.9V265.2M608.1 294.6H620.6M614.4 286.2V303.0M606.9 283.1H614.9M610.9 272.5V293.8M603.9 285.0H622.9M613.4 278.4V291.6M602.2 268.8H622.4M612.3 265.7V271.9M603.1 282.1H625.2M614.2 273.2V291.0M601.8 277.3H608.2M605.0 265.7V288.9M594.3 262.3H610.7M602.5 250.3V274.2M604.4 278.5H613.6M609.0 275.5V281.6M598.2 283.3H622.4M610.3 280.1V286.5M606.1 261.2H631.2M618.6 256.0V266.4M601.1 281.2H628.9M615.0 273.4V289.1M605.0 264.1H628.2M616.6 259.4V268.8M600.3 297.4H625.2M612.7 286.3V308.4M610.0 293.9H629.6M619.8 285.6V302.2M595.9 265.2H621.1M608.5 253.7V276.7M601.0 271.2H612.1M606.5 259.5V282.9M593.4 275.2H616.3M604.9 268.8V281.7M597.5 272.3H616.2M606.8 263.4V281.2M608.8 280.2H632.0M620.4 276.0V284.4M616.9 269.5H630.9M623.9 258.7V280.4M603.4 294.6H627.1M615.3 288.5V300.7M613.1 270.1H623.6M618.3 265.4V274.8M604.0 265.9H631.7M617.8 260.4V271.4M603.1 293.8H611.9M607.5 284.6V303.0M605.6 267.8H618.4M612.0 261.6V274.0M598.3 278.9H622.2M610.3 269.9V288.0M606.4 293.9H632.1M619.3 281.9V305.9M606.9 292.7H620.0M613.5 282.6V302.7M598.1 272.1H613.4M605.7 265.3V278.9M610.2 294.0H624.3M617.3 290.8V297.1M604.6 255.9H615.2M609.9 247.4V264.3M606.1 286.6H622.7M614.4 282.4V290.7M597.0 284.5H609.9M603.4 281.5V287.6M518.0 296.0H552.0M535.0 291.0V301.0M602.5 325.0H621.5M612.0 316.5V333.5M605.3 216.0H630.7M618.0 204.0V228.0M599.0 230.6H629.0M614.0 222.6V238.6M623.1 253.0H660.1M641.6 238.5V267.5M622.7 263.8H651.3M637.0 260.8V266.8M632.0 263.0H636.0M634.0 249.0V277.0M621.0 262.0H625.0M623.0 244.0V280.0M556.9 244.6H574.3M565.6 234.6V254.6M554.0 249.4H573.6M563.8 244.4V254.4M548.0 259.6H573.0M560.5 254.6V264.6M551.0 345.0H563.0M557.0 339.0V351.0M553.0 340.0H569.0M561.0 330.0V350.0" stroke-opacity="0.4"/><path d="M556.7 309.2H568.8M562.7 301.0V317.5M558.1 326.4H566.9M562.5 318.9V334.0M560.2 249.2H566.8M563.5 244.2V254.2M555.6 287.6H565.1M560.3 280.7V294.6M550.6 298.0H567.1M558.9 286.6V309.4M551.6 274.1H575.3M563.4 267.7V280.5M550.1 335.4H571.0M560.5 325.4V345.3M556.9 305.2H577.7M567.3 301.0V309.4M555.0 282.9H573.7M564.3 274.2V291.6M556.7 286.0H575.7M566.2 282.7V289.4M557.5 295.4H570.2M563.9 290.3V300.4M551.5 315.0H567.6M559.5 309.5V320.5M558.5 331.2H567.5M563.0 318.4V344.0M551.1 325.8H572.5M561.8 317.5V334.2M558.1 306.8H569.9M564.0 297.3V316.3M556.5 301.0H565.7M561.1 289.3V312.7M557.8 282.3H569.7M563.8 276.4V288.3M549.3 334.0H574.4M561.8 321.7V346.4M552.1 272.6H578.0M565.0 266.1V279.2M559.1 295.3H566.8M563.0 291.6V299.1M560.2 317.6H572.2M566.2 310.6V324.6M551.2 286.2H559.3M555.2 275.5V296.9M555.4 293.9H564.7M560.1 280.9V306.8M551.5 309.8H574.6M563.1 304.0V315.5M556.1 276.5H567.7M561.9 270.8V282.2M550.2 296.2H574.9M562.5 283.3V309.1M557.2 280.7H570.2M563.7 269.6V291.9M548.0 312.6H568.6M558.3 305.7V319.5M550.8 292.1H565.4M558.1 287.7V296.5M550.2 294.0H573.9M562.1 290.8V297.3M555.2 319.5H569.3M562.2 312.7V326.3M556.6 317.6H563.6M560.1 310.7V324.5M551.5 303.9H569.8M560.6 291.2V316.6M549.4 290.0H572.0M560.7 278.1V302.0M556.6 267.9H570.4M563.5 259.5V276.2M553.4 261.4H570.6M562.0 254.9V268.0M598.2 269.4H618.0M608.1 258.0V280.9M599.4 276.4H623.7M611.6 268.4V284.4M598.5 298.9H617.3M607.9 293.9V303.8M595.9 268.2H619.3M607.6 264.6V271.8M606.4 256.8H620.0M613.2 251.2V262.4M608.6 298.2H620.0M614.3 288.9V307.6M598.2 289.6H605.6M601.9 285.6V293.5M603.3 286.6H617.9M610.6 277.4V295.7M608.0 295.7H623.6M615.8 291.1V300.3M597.2 282.0H625.2M611.2 271.2V292.8M601.3 267.2H624.4M612.8 259.4V275.0M601.9 262.1H616.3M609.1 251.3V273.0M603.4 289.3H614.4M608.9 278.4V300.2M596.4 264.8H619.5M607.9 255.0V274.7M611.7 276.6H621.6M616.6 267.6V285.5M605.5 302.2H616.6M611.0 291.5V312.8M602.5 264.4H626.9M614.7 258.1V270.8M596.4 276.7H614.4M605.4 270.7V282.8M604.7 278.2H630.9M617.8 274.0V282.5M599.5 293.5H622.0M610.7 283.8V303.2M597.6 287.5H623.0M610.3 281.2V293.9M608.4 292.7H623.5M615.9 283.4V302.0M608.1 280.7H624.7M616.4 270.2V291.1M603.3 256.7H612.4M607.9 250.3V263.1M606.2 281.1H612.5M609.4 277.0V285.2M597.7 270.7H619.0M608.4 262.2V279.1M516.0 301.0H554.0M535.0 284.0V318.0M535.6 337.4H553.6M544.6 326.4V348.4M546.0 343.0H572.0M559.0 335.0V351.0" stroke-opacity="0.6"/><path d="M560.2 294.9H566.3M563.3 285.0V304.9M553.2 270.8H572.3M562.7 266.6V274.9M558.5 328.6H566.7M562.6 319.9V337.3M547.6 330.6H570.4M559.0 317.8V343.5M558.9 311.5H573.5M566.2 302.0V321.1M556.4 280.5H576.0M566.2 275.2V285.7M549.8 273.8H574.6M562.2 266.6V281.0M559.5 316.8H575.5M567.5 304.0V329.6M547.6 271.7H570.5M559.1 263.9V279.5M555.7 305.4H565.9M560.8 294.1V316.7M553.5 266.2H569.0M561.3 259.1V273.4M555.9 308.6H567.2M561.5 300.6V316.6M553.5 309.2H577.3M565.4 301.5V317.0M551.3 309.2H576.5M563.9 302.1V316.2M554.1 295.0H579.3M566.7 285.8V304.1M553.4 306.5H578.3M565.9 296.3V316.8M559.7 282.6H566.3M563.0 272.0V293.2M552.1 277.3H570.2M561.2 264.8V289.8M555.6 298.9H571.2M563.4 287.5V310.4M558.6 308.2H571.8M565.2 298.6V317.7M558.2 295.4H575.5M566.9 289.3V301.5M553.5 274.1H577.2M565.3 270.3V277.9M556.6 314.5H570.5M563.6 304.0V325.0M556.8 275.4H568.1M562.5 269.8V281.0M549.0 292.9H573.4M561.2 281.3V304.5M597.5 274.0H621.8M609.7 266.0V281.9M603.5 281.2H624.5M614.0 270.9V291.5M602.3 271.5H621.7M612.0 260.2V282.8M600.3 281.8H618.2M609.3 270.6V292.9M604.8 267.2H620.1M612.4 261.3V273.2M602.5 239.1H617.2M609.9 235.3V242.9M602.8 289.0H618.2M610.5 280.9V297.0M608.0 260.7H626.9M617.5 254.3V267.1M601.5 254.9H612.6M607.1 249.1V260.6M600.5 289.1H621.9M611.2 284.1V294.0M597.4 270.6H612.0M604.7 259.6V281.5M601.2 271.0H614.7M608.0 261.2V280.7M595.2 270.7H613.9M604.6 266.1V275.2M595.9 296.0H613.3M604.6 287.5V304.4M603.5 272.6H630.6M617.0 268.1V277.0M494.0 332.5H547.0M520.5 312.0V353.0" stroke-opacity="0.8"/></g>
</svg>
</body></html>
